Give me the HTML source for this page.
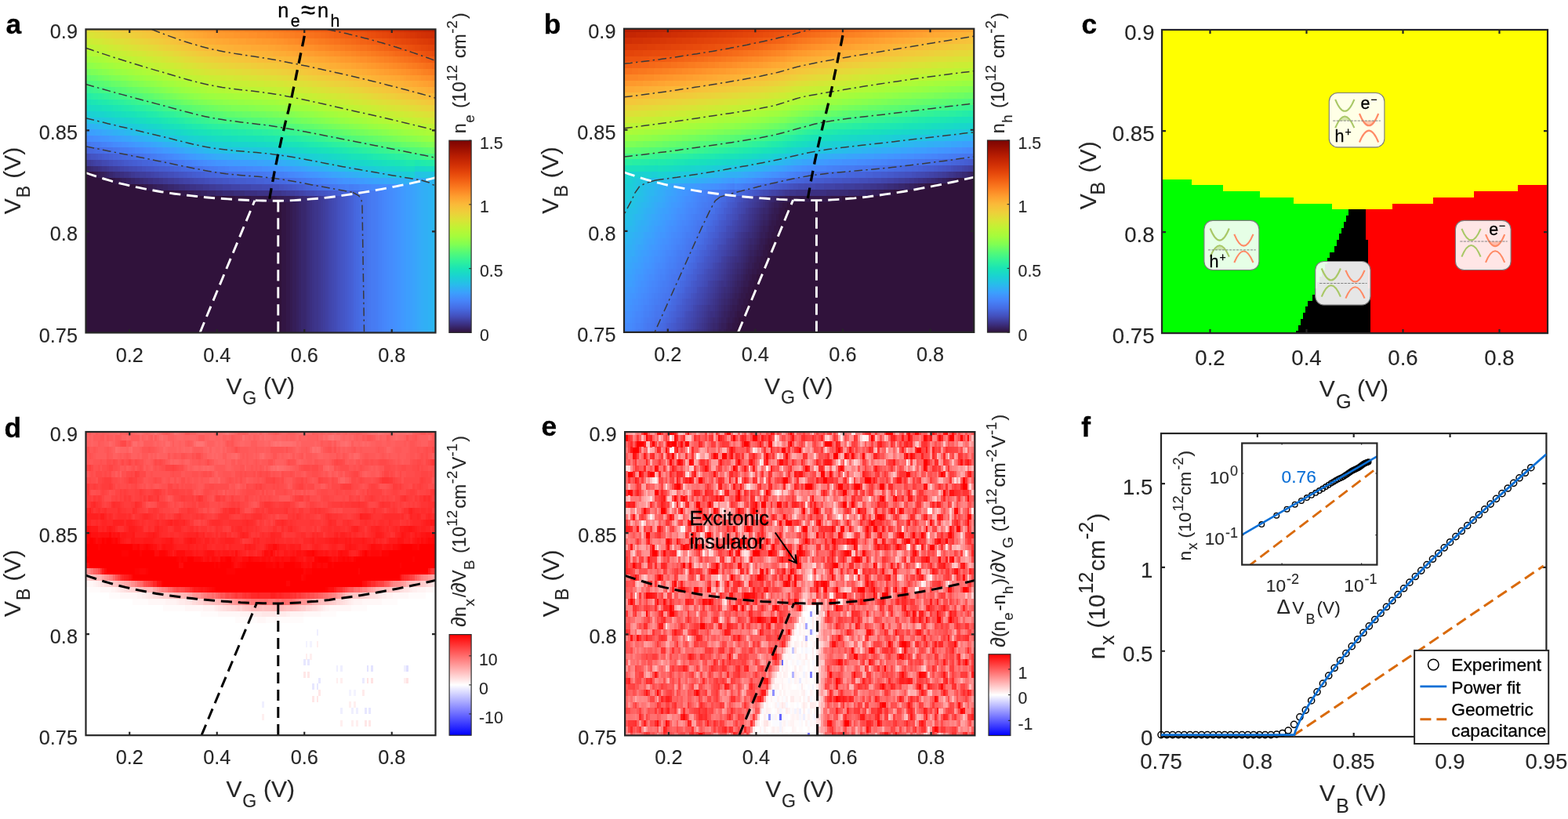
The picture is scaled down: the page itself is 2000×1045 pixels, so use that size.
<!DOCTYPE html>
<html lang="en"><head><meta charset="utf-8"><title>Figure</title>
<style>html,body{margin:0;padding:0;background:#fff;overflow:hidden}svg{display:block}text{stroke:#262626;stroke-width:.12px}text[fill="#000"]{stroke:#000;stroke-width:.3px}text[fill="#0a6fd6"]{stroke:#0a6fd6}</style></head><body>
<svg width="2000" height="1045" viewBox="0 0 2000 1045" font-family="'Liberation Sans', Arial, Helvetica, sans-serif" fill="#262626">
<rect width="2000" height="1045" fill="#fff"/>
<defs><clipPath id="ca"><rect x="109.5" y="37.4" width="446" height="387.1"/></clipPath><clipPath id="cb"><rect x="796" y="36.7" width="446.3" height="387.2"/></clipPath><clipPath id="cc"><rect x="1482" y="38" width="492" height="387.1"/></clipPath><clipPath id="cd"><rect x="109.5" y="551" width="446" height="387.2"/></clipPath><clipPath id="ce"><rect x="797.1" y="551.1" width="446.3" height="387.3"/></clipPath><clipPath id="cf"><rect x="1481" y="553" width="491.4" height="387"/></clipPath></defs>
<text x="7.4" y="43.2" font-size="35.4" font-weight="bold" fill="#000">a</text>
<text x="693.7" y="43.2" font-size="35.4" font-weight="bold" fill="#000">b</text>
<text x="1379.6" y="43.2" font-size="35.4" font-weight="bold" fill="#000">c</text>
<text x="5.6" y="557.9" font-size="35.4" font-weight="bold" fill="#000">d</text>
<text x="690.5" y="556.4" font-size="35.4" font-weight="bold" fill="#000">e</text>
<text x="1379.3" y="557.3" font-size="35.4" font-weight="bold" fill="#000">f</text>
<g clip-path="url(#ca)"><g shape-rendering="crispEdges" transform="translate(108.106 37.4) scale(2.7875 7.742)" stroke-width="1.03" fill="none">
<path stroke="#30123b" stroke-width="52" d="M0 25h161"/>
<path stroke="#321543" d="M4 24h1M13 25h1M25 26h2M41 27h3M69 28h7M90 29h2M90 30h2M90 31h2M90 32h2M90 33h2M90 34h2M90 35h2M90 36h2M90 37h2M90 38h2M90 39h2M90 40h2M90 41h2M90 42h2M90 43h2M90 44h2M90 45h2M90 46h2M90 47h2M90 48h2M90 49h2M90 50h2"/>
<path stroke="#33184a" d="M5 24h1M14 25h2M27 26h2M44 27h3M76 28h12M92 29h2M92 30h2M92 31h2M92 32h2M92 33h2M92 34h2M92 35h2M92 36h2M92 37h2M92 38h2M92 39h2M92 40h2M92 41h2M92 42h2M92 43h2M92 44h2M92 45h2M92 46h2M92 47h2M92 48h2M92 49h2M92 50h2"/>
<path stroke="#341b51" d="M6 24h1M16 25h1M29 26h2M47 27h3M88 28h3M94 29h1M94 30h1M94 31h1M94 32h1M94 33h1M94 34h1M94 35h1M94 36h1M94 37h1M94 38h1M94 39h1M94 40h1M94 41h1M94 42h1M94 43h1M94 44h1M94 45h1M94 46h1M94 47h1M94 48h1M94 49h1M94 50h1"/>
<path stroke="#351e58" d="M7 24h2M17 25h2M31 26h2M50 27h3M91 28h3M95 29h2M95 30h2M95 31h2M95 32h2M95 33h2M95 34h2M95 35h2M95 36h2M95 37h2M95 38h2M95 39h2M95 40h2M95 41h2M95 42h2M95 43h2M95 44h2M95 45h2M95 46h2M95 47h2M95 48h2M95 49h2M95 50h2"/>
<path stroke="#36215f" d="M0 23h1M9 24h1M19 25h2M33 26h3M53 27h3M94 28h2M97 29h1M97 30h1M97 31h1M97 32h1M97 33h1M97 34h1M97 35h1M97 36h1M97 37h1M97 38h1M97 39h1M97 40h1M97 41h1M97 42h1M97 43h1M97 44h1M97 45h1M97 46h1M97 47h1M97 48h1M97 49h1M97 50h1"/>
<path stroke="#372466" d="M1 23h1M10 24h1M21 25h2M36 26h2M56 27h4M96 28h2M98 29h1M98 30h1M98 31h1M98 32h1M98 33h1M98 34h1M98 35h1M98 36h1M98 37h1M98 38h1M98 39h1M98 40h1M98 41h1M98 42h1M98 43h1M98 44h1M98 45h1M98 46h1M98 47h1M98 48h1M98 49h1M98 50h1"/>
<path stroke="#38276d" d="M2 23h1M11 24h2M23 25h2M38 26h3M60 27h3M98 28h2M99 29h2M99 30h2M99 31h2M99 32h2M99 33h2M99 34h2M99 35h2M99 36h2M99 37h2M99 38h2M99 39h2M99 40h2M99 41h2M99 42h2M99 43h2M99 44h2M99 45h2M99 46h2M99 47h2M99 48h2M99 49h2M99 50h2"/>
<path stroke="#392a73" d="M3 23h1M13 24h1M25 25h2M41 26h2M63 27h5M100 28h2M101 29h1M101 30h1M101 31h1M101 32h1M101 33h1M101 34h1M101 35h1M101 36h1M101 37h1M101 38h1M101 39h1M101 40h1M101 41h1M101 42h1M101 43h1M101 44h1M101 45h1M101 46h1M101 47h1M101 48h1M101 49h1M101 50h1"/>
<path stroke="#3a2d79" d="M4 23h2M14 24h2M27 25h2M43 26h3M68 27h5M102 28h1M102 29h1M102 30h1M102 31h1M102 32h1M102 33h1M102 34h1M102 35h1M102 36h1M102 37h1M102 38h1M102 39h1M102 40h1M102 41h1M102 42h1M102 43h1M102 44h1M102 45h1M102 46h1M102 47h1M102 48h1M102 49h1M102 50h1"/>
<path stroke="#3b2f80" d="M6 23h1M16 24h2M29 25h2M46 26h2M73 27h6M103 28h1M103 29h1M103 30h1M103 31h1M103 32h1M103 33h1M103 34h1M103 35h1M103 36h1M103 37h1M103 38h1M103 39h1M103 40h1M103 41h1M103 42h1M103 43h1M103 44h1M103 45h1M103 46h1M103 47h1M103 48h1M103 49h1M103 50h1"/>
<path stroke="#3c3286" d="M7 23h1M18 24h2M31 25h3M48 26h3M79 27h7M104 28h1M104 29h1M104 30h1M104 31h1M104 32h1M104 33h1M104 34h1M104 35h1M104 36h1M104 37h1M104 38h1M104 39h1M104 40h1M104 41h1M104 42h1M104 43h1M104 44h1M104 45h1M104 46h1M104 47h1M104 48h1M104 49h1M104 50h1"/>
<path stroke="#3d358b" d="M8 23h2M20 24h1M34 25h2M51 26h3M86 27h4M105 28h2M105 29h2M105 30h2M105 31h2M105 32h2M105 33h2M105 34h2M105 35h2M105 36h2M105 37h2M105 38h2M105 39h2M105 40h2M105 41h2M105 42h2M105 43h2M105 44h2M105 45h2M105 46h2M105 47h2M105 48h2M105 49h2M105 50h2"/>
<path stroke="#3e3891" d="M0 22h1M10 23h1M21 24h2M36 25h2M54 26h3M90 27h2M107 28h1M107 29h1M107 30h1M107 31h1M107 32h1M107 33h1M107 34h1M107 35h1M107 36h1M107 37h1M107 38h1M107 39h1M107 40h1M107 41h1M107 42h1M107 43h1M107 44h1M107 45h1M107 46h1M107 47h1M107 48h1M107 49h1M107 50h1"/>
<path stroke="#3f3b97" d="M1 22h2M11 23h2M23 24h2M38 25h3M57 26h3M92 27h2M108 28h1M108 29h1M108 30h1M108 31h1M108 32h1M108 33h1M108 34h1M108 35h1M108 36h1M108 37h1M108 38h1M108 39h1M108 40h1M108 41h1M108 42h1M108 43h1M108 44h1M108 45h1M108 46h1M108 47h1M108 48h1M108 49h1M108 50h1"/>
<path stroke="#3f3e9c" d="M3 22h1M13 23h2M25 24h3M41 25h2M60 26h3M94 27h2M109 28h1M109 29h1M109 30h1M109 31h1M109 32h1M109 33h1M109 34h1M109 35h1M109 36h1M109 37h1M109 38h1M109 39h1M109 40h1M109 41h1M109 42h1M109 43h1M109 44h1M109 45h1M109 46h1M109 47h1M109 48h1M109 49h1M109 50h1"/>
<path stroke="#4040a2" d="M4 22h1M15 23h1M28 24h2M43 25h2M63 26h4M96 27h2M110 28h1M110 29h1M110 30h1M110 31h1M110 32h1M110 33h1M110 34h1M110 35h1M110 36h1M110 37h1M110 38h1M110 39h1M110 40h1M110 41h1M110 42h1M110 43h1M110 44h1M110 45h1M110 46h1M110 47h1M110 48h1M110 49h1M110 50h1"/>
<path stroke="#4143a7" d="M5 22h2M16 23h2M30 24h2M45 25h3M67 26h4M98 27h2M111 28h1M111 29h1M111 30h1M111 31h1M111 32h1M111 33h1M111 34h1M111 35h1M111 36h1M111 37h1M111 38h1M111 39h1M111 40h1M111 41h1M111 42h1M111 43h1M111 44h1M111 45h1M111 46h1M111 47h1M111 48h1M111 49h1M111 50h1"/>
<path stroke="#4146ac" d="M7 22h1M18 23h2M32 24h2M48 25h2M71 26h5M100 27h1M112 28h1M112 29h1M112 30h1M112 31h1M112 32h1M112 33h1M112 34h1M112 35h1M112 36h1M112 37h1M112 38h1M112 39h1M112 40h1M112 41h1M112 42h1M112 43h1M112 44h1M112 45h1M112 46h1M112 47h1M112 48h1M112 49h1M112 50h1"/>
<path stroke="#4249b1" d="M8 22h2M20 23h2M34 24h2M50 25h2M76 26h5M101 27h2M113 28h1M113 29h1M113 30h1M113 31h1M113 32h1M113 33h1M113 34h1M113 35h1M113 36h1M113 37h1M113 38h1M113 39h1M113 40h1M113 41h1M113 42h1M113 43h1M113 44h1M113 45h1M113 46h1M113 47h1M113 48h1M113 49h1M113 50h1"/>
<path stroke="#424bb5" d="M10 22h1M22 23h2M36 24h2M52 25h3M81 26h5M103 27h2M114 28h1M114 29h1M114 30h1M114 31h1M114 32h1M114 33h1M114 34h1M114 35h1M114 36h1M114 37h1M114 38h1M114 39h1M114 40h1M114 41h1M114 42h1M114 43h1M114 44h1M114 45h1M114 46h1M114 47h1M114 48h1M114 49h1M114 50h1"/>
<path stroke="#434eba" d="M0 21h2M11 22h2M24 23h2M38 24h3M55 25h2M86 26h3M105 27h1M115 28h1M115 29h1M115 30h1M115 31h1M115 32h1M115 33h1M115 34h1M115 35h1M115 36h1M115 37h1M115 38h1M115 39h1M115 40h1M115 41h1M115 42h1M115 43h1M115 44h1M115 45h1M115 46h1M115 47h1M115 48h1M115 49h1M115 50h1"/>
<path stroke="#4451bf" d="M2 21h1M13 22h2M26 23h2M41 24h2M57 25h3M89 26h2M106 27h2M116 28h1M116 29h1M116 30h1M116 31h1M116 32h1M116 33h1M116 34h1M116 35h1M116 36h1M116 37h1M116 38h1M116 39h1M116 40h1M116 41h1M116 42h1M116 43h1M116 44h1M116 45h1M116 46h1M116 47h1M116 48h1M116 49h1M116 50h1"/>
<path stroke="#4454c3" d="M3 21h2M15 22h2M28 23h2M43 24h2M60 25h3M91 26h2M108 27h2M117 28h1M117 29h1M117 30h1M117 31h1M117 32h1M117 33h1M117 34h1M117 35h1M117 36h1M117 37h1M117 38h1M117 39h1M117 40h1M117 41h1M117 42h1M117 43h1M117 44h1M117 45h1M117 46h1M117 47h1M117 48h1M117 49h1M117 50h1"/>
<path stroke="#4456c7" d="M5 21h1M17 22h1M30 23h2M45 24h2M63 25h3M93 26h2M110 27h1M118 28h1M118 29h1M118 30h1M118 31h1M118 32h1M118 33h1M118 34h1M118 35h1M118 36h1M118 37h1M118 38h1M118 39h1M118 40h1M118 41h1M118 42h1M118 43h1M118 44h1M118 45h1M118 46h1M118 47h1M118 48h1M118 49h1M118 50h1"/>
<path stroke="#4559cb" d="M6 21h2M18 22h2M32 23h2M47 24h2M66 25h3M95 26h2M111 27h2M119 28h1M119 29h1M119 30h1M119 31h1M119 32h1M119 33h1M119 34h1M119 35h1M119 36h1M119 37h1M119 38h1M119 39h1M119 40h1M119 41h1M119 42h1M119 43h1M119 44h1M119 45h1M119 46h1M119 47h1M119 48h1M119 49h1M119 50h1"/>
<path stroke="#455ccf" d="M8 21h1M20 22h2M34 23h3M49 24h2M69 25h5M97 26h1M113 27h2M120 28h1M120 29h1M120 30h1M120 31h1M120 32h1M120 33h1M120 34h1M120 35h1M120 36h1M120 37h1M120 38h1M120 39h1M120 40h1M120 41h1M120 42h1M120 43h1M120 44h1M120 45h1M120 46h1M120 47h1M120 48h1M120 49h1M120 50h1"/>
<path stroke="#455ed3" d="M9 21h2M22 22h2M37 23h2M51 24h2M74 25h4M98 26h2M115 27h1M121 28h1M121 29h1M121 30h1M121 31h1M121 32h1M121 33h1M121 34h1M121 35h1M121 36h1M121 37h1M121 38h1M121 39h1M121 40h1M121 41h1M121 42h1M121 43h1M121 44h1M121 45h1M121 46h1M121 47h1M121 48h1M121 49h1M121 50h1"/>
<path stroke="#4661d6" d="M0 20h1M11 21h2M24 22h2M39 23h2M53 24h2M78 25h4M100 26h1M116 27h2M122 28h1M122 29h1M122 30h1M122 31h1M122 32h1M122 33h1M122 34h1M122 35h1M122 36h1M122 37h1M122 38h1M122 39h1M122 40h1M122 41h1M122 42h1M122 43h1M122 44h1M122 45h1M122 46h1M122 47h1M122 48h1M122 49h1M122 50h1"/>
<path stroke="#4664da" d="M1 20h1M13 21h2M26 22h3M41 23h2M55 24h2M82 25h4M101 26h2M118 27h2M121 27h1"/>
<path stroke="#4666dd" d="M2 20h2M15 21h2M29 22h2M43 23h1M57 24h3M86 25h2M103 26h1M120 27h1M122 27h2M123 28h1M123 29h1M123 30h1M123 31h1M123 32h1M123 33h1M123 34h1M123 35h1M123 36h1M123 37h1M123 38h1M123 39h1M123 40h1M123 41h1M123 42h1M123 43h1M123 44h1M123 45h1M123 46h1M123 47h1M123 48h1M123 49h1M123 50h1"/>
<path stroke="#4669e0" d="M4 20h1M17 21h2M31 22h2M44 23h2M60 24h2M88 25h2M104 26h2M124 27h1M124 28h1M124 29h1M124 30h1M124 31h1M124 32h1M124 33h1M124 34h1M124 35h1M124 36h1M124 37h1M124 38h1M124 39h1M124 40h1M124 41h1M124 42h1M124 43h1M124 44h1M124 45h1M124 46h1M124 47h1M124 48h1M124 49h1M124 50h1"/>
<path stroke="#466be3" d="M5 20h2M19 21h2M33 22h2M46 23h2M62 24h3M90 25h2M106 26h1M125 27h1M125 28h1M125 29h1M125 30h1M125 31h1M125 32h1M125 33h1M125 34h1M125 35h1M125 36h1M125 37h1M125 38h1M125 39h1M125 40h1M125 41h1M125 42h1M125 43h1M125 44h1M125 45h1M125 46h1M125 47h1M125 48h1M125 49h1M125 50h1"/>
<path stroke="#476ee6" d="M7 20h2M21 21h2M35 22h2M48 23h2M65 24h3M92 25h2M107 26h2M126 27h1M126 28h1M126 29h1M126 30h1M126 31h1M126 32h1M126 33h1M126 34h1M126 35h1M126 36h1M126 37h1M126 38h1M126 39h1M126 40h1M126 41h1M126 42h1M126 43h1M126 44h1M126 45h1M126 46h1M126 47h1M126 48h1M126 49h1M126 50h1"/>
<path stroke="#4771e9" d="M9 20h2M23 21h2M37 22h2M50 23h2M68 24h4M94 25h1M109 26h1M127 27h1M127 28h1M127 29h1M127 30h1M127 31h1M127 32h1M127 33h1M127 34h1M127 35h1M127 36h1M127 37h1M127 38h1M127 39h1M127 40h1M127 41h1M127 42h1M127 43h1M127 44h1M127 45h1M127 46h1M127 47h1M127 48h1M127 49h1M127 50h1"/>
<path stroke="#4773eb" d="M11 20h2M25 21h2M39 22h1M52 23h2M72 24h4M95 25h2M110 26h2M128 27h1M128 28h1M128 29h1M128 30h1M128 31h1M128 32h1M128 33h1M128 34h1M128 35h1M128 36h1M128 37h1M128 38h1M128 39h1M128 40h1M128 41h1M128 42h1M128 43h1M128 44h1M128 45h1M128 46h1M128 47h1M128 48h1M128 49h1M128 50h1"/>
<path stroke="#4776ee" d="M0 19h1M13 20h2M27 21h1M40 22h2M54 23h1M76 24h4M97 25h2M112 26h2M129 27h1M129 28h1M129 29h1M129 30h1M129 31h1M129 32h1M129 33h1M129 34h1M129 35h1M129 36h1M129 37h1M129 38h1M129 39h1M129 40h1M129 41h1M129 42h1M129 43h1M129 44h1M129 45h1M129 46h1M129 47h1M129 48h1M129 49h1M129 50h1"/>
<path stroke="#4778f0" d="M1 19h2M15 20h1M28 21h2M42 22h1M55 23h2M80 24h3M99 25h2M114 26h2M130 27h1M130 28h1M130 29h1M130 30h1M130 31h1M130 32h1M130 33h1M130 34h1M130 35h1M130 36h1M130 37h1M130 38h1M130 39h1M130 40h1M130 41h1M130 42h1M130 43h1M130 44h1M130 45h1M130 46h1M130 47h1M130 48h1M130 49h1M130 50h1"/>
<path stroke="#477bf2" d="M3 19h2M16 20h2M30 21h2M43 22h2M57 23h2M83 24h3M101 25h1M116 26h1M131 27h2M131 28h2M131 29h2M131 30h2M131 31h2M131 32h2M131 33h2M131 34h2M131 35h2M131 36h2M131 37h2M131 38h2M131 39h2M131 40h2M131 41h2M131 42h2M131 43h2M131 44h2M131 45h2M131 46h2M131 47h2M131 48h2M131 49h2M131 50h2"/>
<path stroke="#467df4" d="M5 19h2M18 20h2M32 21h1M45 22h1M59 23h2M86 24h2M102 25h2M117 26h2M121 26h2M133 27h1M133 28h1M133 29h1M133 30h1M133 31h1M133 32h1M133 33h1M133 34h1M133 35h1M133 36h1M133 37h1M133 38h1M133 39h1M133 40h1M133 41h1M133 42h1M133 43h1M133 44h1M133 45h1M133 46h1M133 47h1M133 48h1M133 49h1M133 50h1"/>
<path stroke="#4680f6" d="M7 19h1M20 20h2M33 21h2M46 22h2M61 23h3M88 24h3M104 25h2M119 26h2M123 26h2M134 27h1M134 28h1M134 29h1M134 30h1M134 31h1M134 32h1M134 33h1M134 34h1M134 35h1M134 36h1M134 37h1M134 38h1M134 39h1M134 40h1M134 41h1M134 42h1M134 43h1M134 44h1M134 45h1M134 46h1M134 47h1M134 48h1M134 49h1M134 50h1"/>
<path stroke="#4682f8" d="M8 19h2M22 20h1M35 21h2M48 22h1M64 23h2M91 24h2M106 25h2M125 26h1M135 27h1M135 28h1M135 29h1M135 30h1M135 31h1M135 32h1M135 33h1M135 34h1M135 35h1M135 36h1M135 37h1M135 38h1M135 39h1M135 40h1M135 41h1M135 42h1M135 43h1M135 44h1M135 45h1M135 46h1M135 47h1M135 48h1M135 49h1M135 50h1"/>
<path stroke="#4685fa" d="M10 19h2M23 20h2M37 21h1M49 22h2M66 23h4M93 24h1M108 25h1M126 26h3M136 27h1M136 28h1M136 29h1M136 30h1M136 31h1M136 32h1M136 33h1M136 34h1M136 35h1M136 36h1M136 37h1M136 38h1M136 39h1M136 40h1M136 41h1M136 42h1M136 43h1M136 44h1M136 45h1M136 46h1M136 47h1M136 48h1M136 49h1M136 50h1"/>
<path stroke="#4687fb" d="M0 18h1M12 19h1M25 20h2M38 21h2M51 22h1M70 23h4M94 24h2M109 25h2M129 26h2M137 27h1M137 28h1M137 29h1M137 30h1M137 31h1M137 32h1M137 33h1M137 34h1M137 35h1M137 36h1M137 37h1M137 38h1M137 39h1M137 40h1M137 41h1M137 42h1M137 43h1M137 44h1M137 45h1M137 46h1M137 47h1M137 48h1M137 49h1M137 50h1"/>
<path stroke="#458afc" d="M1 18h1M13 19h2M27 20h1M40 21h1M52 22h2M74 23h3M96 24h2M111 25h2M131 26h4M138 27h1M138 28h1M138 29h1M138 30h1M138 31h1M138 32h1M138 33h1M138 34h1M138 35h1M138 36h1M138 37h1M138 38h1M138 39h1M138 40h1M138 41h1M138 42h1M138 43h1M138 44h1M138 45h1M138 46h1M138 47h1M138 48h1M138 49h1M138 50h1"/>
<path stroke="#458cfd" d="M2 18h2M15 19h2M28 20h2M41 21h2M54 22h2M77 23h4M98 24h2M113 25h2M135 26h5M139 27h2M139 28h2M139 29h2M139 30h2M139 31h2M139 32h2M139 33h2M139 34h2M139 35h2M139 36h2M139 37h2M139 38h2M139 39h2M139 40h2M139 41h2M139 42h2M139 43h2M139 44h2M139 45h2M139 46h2M139 47h2M139 48h2M139 49h2M139 50h2"/>
<path stroke="#448ffe" d="M4 18h2M17 19h2M30 20h2M43 21h1M56 22h2M81 23h3M100 24h1M115 25h1M140 26h2M141 27h1M141 28h1M141 29h1M141 30h1M141 31h1M141 32h1M141 33h1M141 34h1M141 35h1M141 36h1M141 37h1M141 38h1M141 39h1M141 40h1M141 41h1M141 42h1M141 43h1M141 44h1M141 45h1M141 46h1M141 47h1M141 48h1M141 49h1M141 50h1"/>
<path stroke="#4391fe" d="M6 18h1M19 19h1M32 20h1M44 21h2M58 22h2M84 23h3M101 24h2M116 25h2M142 26h1M142 27h1M142 28h1M142 29h1M142 30h1M142 31h1M142 32h1M142 33h1M142 34h1M142 35h1M142 36h1M142 37h1M142 38h1M142 39h1M142 40h1M142 41h1M142 42h1M142 43h1M142 44h1M142 45h1M142 46h1M142 47h1M142 48h1M142 49h1M142 50h1"/>
<path stroke="#4294ff" d="M7 18h2M20 19h2M33 20h2M46 21h1M60 22h2M87 23h2M103 24h2M118 25h2M121 25h1M143 26h1M143 27h1M143 28h1M143 29h1M143 30h1M143 31h1M143 32h1M143 33h1M143 34h1M143 35h1M143 36h1M143 37h1M143 38h1M143 39h1M143 40h1M143 41h1M143 42h1M143 43h1M143 44h1M143 45h1M143 46h1M143 47h1M143 48h1M143 49h1M143 50h1"/>
<path stroke="#4196ff" d="M9 18h2M22 19h1M35 20h1M47 21h1M62 22h3M89 23h2M105 24h2M120 25h1M122 25h2M144 26h1M144 27h1M144 28h1M144 29h1M144 30h1M144 31h1M144 32h1M144 33h1M144 34h1M144 35h1M144 36h1M144 37h1M144 38h1M144 39h1M144 40h1M144 41h1M144 42h1M144 43h1M144 44h1M144 45h1M144 46h1M144 47h1M144 48h1M144 49h1M144 50h1"/>
<path stroke="#4099ff" d="M11 18h1M23 19h2M36 20h2M48 21h2M65 22h3M91 23h2M107 24h1M124 25h2M145 26h1M145 27h1M145 28h1M145 29h1M145 30h1M145 31h1M145 32h1M145 33h1M145 34h1M145 35h1M145 36h1M145 37h1M145 38h1M145 39h1M145 40h1M145 41h1M145 42h1M145 43h1M145 44h1M145 45h1M145 46h1M145 47h1M145 48h1M145 49h1M145 50h1"/>
<path stroke="#3e9bfe" d="M0 17h2M12 18h2M25 19h2M38 20h1M50 21h1M68 22h3M93 23h2M108 24h2M126 25h2M146 26h1M146 27h1M146 28h1M146 29h1M146 30h1M146 31h1M146 32h1M146 33h1M146 34h1M146 35h1M146 36h1M146 37h1M146 38h1M146 39h1M146 40h1M146 41h1M146 42h1M146 43h1M146 44h1M146 45h1M146 46h1M146 47h1M146 48h1M146 49h1M146 50h1"/>
<path stroke="#3d9efe" d="M2 17h1M14 18h2M27 19h1M39 20h2M51 21h2M71 22h4M95 23h2M110 24h2M128 25h2M147 26h2M147 27h2M147 28h2M147 29h2M147 30h2M147 31h2M147 32h2M147 33h2M147 34h2M147 35h2M147 36h2M147 37h2M147 38h2M147 39h2M147 40h2M147 41h2M147 42h2M147 43h2M147 44h2M147 45h2M147 46h2M147 47h2M147 48h2M147 49h2M147 50h2"/>
<path stroke="#3ba0fd" d="M3 17h2M16 18h1M28 19h2M41 20h1M53 21h2M75 22h4M97 23h2M112 24h1M130 25h2M149 26h1M149 27h1M149 28h1M149 29h1M149 30h1M149 31h1M149 32h1M149 33h1M149 34h1M149 35h1M149 36h1M149 37h1M149 38h1M149 39h1M149 40h1M149 41h1M149 42h1M149 43h1M149 44h1M149 45h1M149 46h1M149 47h1M149 48h1M149 49h1M149 50h1"/>
<path stroke="#3aa3fc" d="M5 17h2M17 18h2M30 19h1M42 20h1M55 21h1M79 22h3M99 23h2M113 24h2M132 25h3M150 26h1M150 27h1M150 28h1M150 29h1M150 30h1M150 31h1M150 32h1M150 33h1M150 34h1M150 35h1M150 36h1M150 37h1M150 38h1M150 39h1M150 40h1M150 41h1M150 42h1M150 43h1M150 44h1M150 45h1M150 46h1M150 47h1M150 48h1M150 49h1M150 50h1"/>
<path stroke="#38a5fb" d="M7 17h1M19 18h2M31 19h2M43 20h2M56 21h2M82 22h3M101 23h1M115 24h2M135 25h2M151 26h1M151 27h1M151 28h1M151 29h1M151 30h1M151 31h1M151 32h1M151 33h1M151 34h1M151 35h1M151 36h1M151 37h1M151 38h1M151 39h1M151 40h1M151 41h1M151 42h1M151 43h1M151 44h1M151 45h1M151 46h1M151 47h1M151 48h1M151 49h1M151 50h1"/>
<path stroke="#37a8fa" d="M8 17h2M21 18h1M33 19h2M45 20h1M58 21h2M85 22h3M102 23h2M117 24h2M137 25h3M152 26h1M152 27h1M152 28h1M152 29h1M152 30h1M152 31h1M152 32h1M152 33h1M152 34h1M152 35h1M152 36h1M152 37h1M152 38h1M152 39h1M152 40h1M152 41h1M152 42h1M152 43h1M152 44h1M152 45h1M152 46h1M152 47h1M152 48h1M152 49h1M152 50h1"/>
<path stroke="#35abf8" d="M10 17h2M22 18h2M35 19h1M46 20h2M60 21h3M88 22h2M104 23h2M119 24h1M121 24h1M140 25h2M151 25h3M153 26h1M153 27h1M153 28h1M153 29h1M153 30h1M153 31h1M153 32h1M153 33h1M153 34h1M153 35h1M153 36h1M153 37h1M153 38h1M153 39h1M153 40h1M153 41h1M153 42h1M153 43h1M153 44h1M153 45h1M153 46h1M153 47h1M153 48h1M153 49h1M153 50h1"/>
<path stroke="#33adf7" d="M0 16h1M12 17h1M24 18h1M36 19h1M48 20h1M63 21h3M90 22h2M106 23h1M120 24h1M122 24h1M142 25h3M154 25h1M154 26h1M154 27h1M154 28h1M154 29h1M154 30h1M154 31h1M154 32h1M154 33h1M154 34h1M154 35h1M154 36h1M154 37h1M154 38h1M154 39h1M154 40h1M154 41h1M154 42h1M154 43h1M154 44h1M154 45h1M154 46h1M154 47h1M154 48h1M154 49h1M154 50h1"/>
<path stroke="#31aff5" d="M1 16h2M13 17h2M25 18h2M37 19h2M49 20h2M66 21h3M92 22h2M107 23h2M123 24h2M145 25h3M155 25h2M155 26h2M155 27h2M155 28h2M155 29h2M155 30h2M155 31h2M155 32h2M155 33h2M155 34h2M155 35h2M155 36h2M155 37h2M155 38h2M155 39h2M155 40h2M155 41h2M155 42h2M155 43h2M155 44h2M155 45h2M155 46h2M155 47h2M155 48h2M155 49h2M155 50h2"/>
<path stroke="#2fb2f4" d="M3 16h1M15 17h1M27 18h1M39 19h1M51 20h1M69 21h4M94 22h2M109 23h2M125 24h2M148 25h3M157 25h1M157 26h1M157 27h1M157 28h1M157 29h1M157 30h1M157 31h1M157 32h1M157 33h1M157 34h1M157 35h1M157 36h1M157 37h1M157 38h1M157 39h1M157 40h1M157 41h1M157 42h1M157 43h1M157 44h1M157 45h1M157 46h1M157 47h1M157 48h1M157 49h1M157 50h1"/>
<path stroke="#2eb4f2" d="M4 16h2M16 17h2M28 18h2M40 19h2M52 20h2M73 21h4M96 22h2M111 23h1M127 24h2M158 25h1M158 26h1M158 27h1M158 28h1M158 29h1M158 30h1M158 31h1M158 32h1M158 33h1M158 34h1M158 35h1M158 36h1M158 37h1M158 38h1M158 39h1M158 40h1M158 41h1M158 42h1M158 43h1M158 44h1M158 45h1M158 46h1M158 47h1M158 48h1M158 49h1M158 50h1"/>
<path stroke="#2cb7f0" d="M6 16h2M18 17h1M30 18h1M42 19h1M54 20h1M77 21h3M98 22h2M112 23h2M129 24h2M159 25h1M159 26h1M159 27h1M159 28h1M159 29h1M159 30h1M159 31h1M159 32h1M159 33h1M159 34h1M159 35h1M159 36h1M159 37h1M159 38h1M159 39h1M159 40h1M159 41h1M159 42h1M159 43h1M159 44h1M159 45h1M159 46h1M159 47h1M159 48h1M159 49h1M159 50h1"/>
<path stroke="#2ab9ee" d="M8 16h1M19 17h2M31 18h2M43 19h1M55 20h2M80 21h4M100 22h1M114 23h2M131 24h2M160 25h1M160 26h1M160 27h1M160 28h1M160 29h1M160 30h1M160 31h1M160 32h1M160 33h1M160 34h1M160 35h1M160 36h1M160 37h1M160 38h1M160 39h1M160 40h1M160 41h1M160 42h1M160 43h1M160 44h1M160 45h1M160 46h1M160 47h1M160 48h1M160 49h1M160 50h1"/>
<path stroke="#28bceb" d="M9 16h2M21 17h1M33 18h1M44 19h2M57 20h2M84 21h2M101 22h2M116 23h1M133 24h1"/>
<path stroke="#27bee9" d="M0 15h1M11 16h1M22 17h2M34 18h2M46 19h1M59 20h2M86 21h3M103 22h2M117 23h2M134 24h2"/>
<path stroke="#25c0e7" d="M1 15h1M12 16h2M24 17h1M36 18h1M47 19h1M61 20h3M89 21h2M105 22h2M119 23h2M136 24h2"/>
<path stroke="#23c3e4" d="M2 15h2M14 16h1M25 17h2M37 18h2M48 19h2M64 20h3M91 21h2M107 22h1M121 23h2M138 24h2M151 24h3"/>
<path stroke="#22c5e2" d="M4 15h1M15 16h2M27 17h2M39 18h1M50 19h1M67 20h4M93 21h2M108 22h2M123 23h2M140 24h1M154 24h7"/>
<path stroke="#20c7df" d="M5 15h2M17 16h2M29 17h1M40 18h2M51 19h2M71 20h4M95 21h2M110 22h2M125 23h2M141 24h2"/>
<path stroke="#1fc9dd" d="M7 15h2M19 16h1M30 17h2M42 18h1M53 19h2M75 20h5M97 21h2M112 22h2M127 23h2M143 24h2"/>
<path stroke="#1ecbda" d="M9 15h2M20 16h2M32 17h2M43 18h2M55 19h2M80 20h4M99 21h2M114 22h2M129 23h2M145 24h2"/>
<path stroke="#1ccdd8" d="M0 14h2M11 15h2M22 16h2M34 17h2M45 18h2M57 19h3M84 20h3M101 21h2M116 22h2M131 23h2M147 24h2"/>
<path stroke="#1bd0d5" d="M2 14h1M13 15h1M24 16h2M36 17h1M47 18h1M60 19h3M87 20h2M103 21h2M118 22h1M133 23h2M149 24h2"/>
<path stroke="#1ad2d2" d="M3 14h2M14 15h2M26 16h2M37 17h2M48 18h2M63 19h4M89 20h3M105 21h2M119 22h2M135 23h2"/>
<path stroke="#1ad4d0" d="M5 14h2M16 15h2M28 16h1M39 17h2M50 18h2M67 19h4M92 20h2M107 21h2M121 22h3M137 23h3"/>
<path stroke="#19d5cd" d="M7 14h2M18 15h2M29 16h2M41 17h1M52 18h2M71 19h4M94 20h2M109 21h2M124 22h2M140 23h2"/>
<path stroke="#18d7ca" d="M9 14h1M20 15h2M31 16h2M42 17h2M54 18h2M75 19h4M96 20h2M111 21h2M126 22h2M142 23h2M151 23h2"/>
<path stroke="#18d9c8" d="M0 13h1M10 14h2M22 15h1M33 16h2M44 17h1M56 18h2M79 19h4M98 20h2M113 21h2M128 22h2M144 23h1M153 23h3"/>
<path stroke="#18dbc5" d="M1 13h2M12 14h2M23 15h2M35 16h1M45 17h2M58 18h2M83 19h3M100 20h2M115 21h2M130 22h2M145 23h2M156 23h2"/>
<path stroke="#18ddc2" d="M3 13h2M14 14h2M25 15h2M36 16h2M47 17h2M60 18h3M86 19h2M102 20h2M117 21h2M132 22h2M147 23h2M158 23h3"/>
<path stroke="#18dec0" d="M5 13h2M16 14h1M27 15h1M38 16h1M49 17h1M63 18h4M88 19h3M104 20h2M119 21h1M134 22h2M149 23h2"/>
<path stroke="#18e0bd" d="M7 13h1M17 14h2M28 15h2M39 16h2M50 17h2M67 18h3M91 19h2M106 20h2M120 21h2M136 22h2"/>
<path stroke="#19e2bb" d="M8 13h2M19 14h2M30 15h2M41 16h2M52 17h2M70 18h4M93 19h2M108 20h2M122 21h2M138 22h2"/>
<path stroke="#19e3b9" d="M0 12h1M10 13h2M21 14h2M32 15h2M43 16h1M54 17h2M74 18h4M95 19h3M110 20h2M124 21h3M140 22h2"/>
<path stroke="#1ae4b6" d="M1 12h2M12 13h1M23 14h1M34 15h1M44 16h2M56 17h2M78 18h4M98 19h2M112 20h2M127 21h2M142 22h2"/>
<path stroke="#1ce6b4" d="M3 12h2M13 13h2M24 14h2M35 15h2M46 16h1M58 17h3M82 18h3M100 19h2M114 20h2M129 21h2M144 22h2"/>
<path stroke="#1de7b2" d="M5 12h1M15 13h2M26 14h2M37 15h1M47 16h2M61 17h2M85 18h2M102 19h1M116 20h2M131 21h1M146 22h1M151 22h2"/>
<path stroke="#1fe9af" d="M6 12h2M17 13h1M28 14h1M38 15h2M49 16h2M63 17h4M87 18h3M103 19h2M118 20h2M132 21h2M147 22h2M153 22h1"/>
<path stroke="#20eaac" d="M8 12h2M18 13h2M29 14h2M40 15h2M51 16h2M67 17h3M90 18h2M105 19h2M120 20h1M134 21h2M149 22h2M154 22h2"/>
<path stroke="#22ebaa" d="M0 11h1M10 12h1M20 13h2M31 14h2M42 15h1M53 16h1M70 17h4M92 18h2M107 19h2M121 20h2M136 21h2M156 22h2"/>
<path stroke="#25eca7" d="M1 11h2M11 12h2M22 13h1M33 14h1M43 15h2M54 16h2M74 17h3M94 18h3M109 19h2M123 20h2M138 21h2M158 22h2"/>
<path stroke="#27eea4" d="M3 11h1M13 12h2M23 13h2M34 14h2M45 15h1M56 16h2M77 17h4M97 18h2M111 19h2M125 20h2M140 21h2M160 22h1"/>
<path stroke="#2aefa1" d="M4 11h2M15 12h1M25 13h2M36 14h1M46 15h2M58 16h3M81 17h3M99 18h2M113 19h2M127 20h2M142 21h2"/>
<path stroke="#2cf09e" d="M6 11h2M16 12h2M27 13h1M37 14h2M48 15h1M61 16h3M84 17h2M101 18h2M115 19h2M129 20h2M144 21h2"/>
<path stroke="#2ff19b" d="M8 11h1M18 12h1M28 13h2M39 14h2M49 15h2M64 16h3M86 17h3M103 18h2M117 19h2M131 20h2M146 21h1"/>
<path stroke="#32f298" d="M0 10h1M9 11h2M19 12h2M30 13h2M41 14h1M51 15h2M67 16h3M89 17h2M105 18h1M119 19h1M133 20h2M147 21h2"/>
<path stroke="#35f394" d="M1 10h2M11 11h1M21 12h2M32 13h1M42 14h2M53 15h2M70 16h3M91 17h2M106 18h2M120 19h2M135 20h2M149 21h3"/>
<path stroke="#38f491" d="M3 10h1M12 11h2M23 12h1M33 13h2M44 14h1M55 15h2M73 16h4M93 17h3M108 18h2M122 19h2M137 20h2M152 21h2"/>
<path stroke="#3cf58e" d="M4 10h2M14 11h2M24 12h2M35 13h1M45 14h2M57 15h2M77 16h3M96 17h2M110 18h2M124 19h2M139 20h1M154 21h1"/>
<path stroke="#3ff68a" d="M6 10h1M16 11h1M26 12h2M36 13h2M47 14h1M59 15h2M80 16h3M98 17h2M112 18h2M126 19h2M140 20h2M155 21h1"/>
<path stroke="#43f787" d="M7 10h2M17 11h2M28 12h1M38 13h2M48 14h2M61 15h3M83 16h3M100 17h2M114 18h2M128 19h2M142 20h2M156 21h2"/>
<path stroke="#46f884" d="M0 9h1M9 10h2M19 11h1M29 12h2M40 13h1M50 14h2M64 15h3M86 16h2M102 17h2M116 18h2M130 19h2M144 20h2M158 21h1"/>
<path stroke="#4af880" d="M1 9h1M11 10h1M20 11h2M31 12h2M41 13h2M52 14h1M67 15h3M88 16h3M104 17h2M118 18h2M132 19h2M146 20h2M159 21h2"/>
<path stroke="#4ef97d" d="M2 9h2M12 10h2M22 11h2M33 12h1M43 13h1M53 14h2M70 15h4M91 16h2M106 17h2M120 18h2M134 19h2M148 20h1"/>
<path stroke="#52fa7a" d="M4 9h2M14 10h1M24 11h2M34 12h2M44 13h2M55 14h3M74 15h3M93 16h3M108 17h2M122 18h2M136 19h2M149 20h2"/>
<path stroke="#55fa76" d="M6 9h1M15 10h2M26 11h1M36 12h1M46 13h2M58 14h2M77 15h4M96 16h2M110 17h2M124 18h2M138 19h2M151 20h2"/>
<path stroke="#59fb73" d="M7 9h2M17 10h2M27 11h2M37 12h2M48 13h1M60 14h3M81 15h3M98 16h2M112 17h2M126 18h2M140 19h2M153 20h2"/>
<path stroke="#5dfc6f" d="M0 8h1M9 9h2M19 10h1M29 11h2M39 12h2M49 13h2M63 14h2M84 15h3M100 16h3M114 17h2M128 18h2M142 19h2M155 20h2"/>
<path stroke="#61fc6c" d="M1 8h2M11 9h1M20 10h2M31 11h1M41 12h1M51 13h2M65 14h4M87 15h3M103 16h2M116 17h2M130 18h2M144 19h1M157 20h1"/>
<path stroke="#65fd69" d="M3 8h2M12 9h2M22 10h2M32 11h2M42 12h2M53 13h2M69 14h3M90 15h2M105 16h2M118 17h2M132 18h2M145 19h2M158 20h2"/>
<path stroke="#69fd66" d="M5 8h1M14 9h2M24 10h1M34 11h2M44 12h1M55 13h2M72 14h4M92 15h3M107 16h2M120 17h2M134 18h2M147 19h2M160 20h1"/>
<path stroke="#6dfe62" d="M6 8h2M16 9h1M25 10h2M36 11h1M45 12h2M57 13h2M76 14h4M95 15h2M109 16h2M122 17h2M136 18h2M149 19h2"/>
<path stroke="#71fe5f" d="M8 8h1M17 9h2M27 10h2M37 11h2M47 12h2M59 13h2M80 14h3M97 15h2M111 16h2M124 17h2M138 18h2M151 19h2"/>
<path stroke="#75fe5c" d="M0 7h2M9 8h2M19 9h1M29 10h1M39 11h1M49 12h1M61 13h3M83 14h3M99 15h3M113 16h2M126 17h2M140 18h1M153 19h1"/>
<path stroke="#79fe59" d="M2 7h1M11 8h1M20 9h2M30 10h2M40 11h2M50 12h2M64 13h3M86 14h3M102 15h2M115 16h2M128 17h2M141 18h2M154 19h2"/>
<path stroke="#7dff56" d="M3 7h2M12 8h2M22 9h2M32 10h2M42 11h1M52 12h2M67 13h4M89 14h2M104 15h2M117 16h2M130 17h2M143 18h2M156 19h2"/>
<path stroke="#80ff53" d="M5 7h1M14 8h2M24 9h1M34 10h1M43 11h2M54 12h2M71 13h4M91 14h3M106 15h2M119 16h2M132 17h2M145 18h2M158 19h1"/>
<path stroke="#84ff51" d="M6 7h2M16 8h1M25 9h2M35 10h2M45 11h2M56 12h2M75 13h3M94 14h2M108 15h2M121 16h2M134 17h2M147 18h2M159 19h2"/>
<path stroke="#88ff4e" d="M0 6h1M8 7h2M17 8h2M27 9h1M37 10h1M47 11h1M58 12h2M78 13h4M96 14h2M110 15h2M123 16h2M136 17h2M149 18h1"/>
<path stroke="#8bff4b" d="M1 6h1M10 7h1M19 8h1M28 9h2M38 10h2M48 11h2M60 12h3M82 13h3M98 14h2M112 15h2M125 16h2M138 17h1M150 18h2"/>
<path stroke="#8fff49" d="M2 6h2M11 7h2M20 8h2M30 9h2M40 10h1M50 11h2M63 12h3M85 13h3M100 14h3M114 15h2M127 16h2M139 17h2M152 18h2"/>
<path stroke="#92ff47" d="M4 6h1M13 7h1M22 8h1M32 9h1M41 10h2M52 11h1M66 12h4M88 13h2M103 14h2M116 15h1M129 16h1M141 17h2M154 18h1"/>
<path stroke="#96fe44" d="M5 6h2M14 7h2M23 8h2M33 9h2M43 10h1M53 11h2M70 12h3M90 13h3M105 14h2M117 15h2M130 16h2M143 17h2M155 18h2"/>
<path stroke="#99fe42" d="M7 6h1M16 7h1M25 8h2M35 9h1M44 10h2M55 11h2M73 12h4M93 13h2M107 14h2M119 15h2M132 16h2M145 17h1M157 18h1"/>
<path stroke="#9cfe40" d="M0 5h1M8 6h2M17 7h2M27 8h1M36 9h2M46 10h2M57 11h3M77 12h4M95 13h2M109 14h1M121 15h2M134 16h2M146 17h2M158 18h2"/>
<path stroke="#9ffd3f" d="M1 5h2M10 6h1M19 7h1M28 8h2M38 9h1M48 10h1M60 11h2M81 12h3M97 13h2M110 14h2M123 15h2M136 16h2M148 17h2M160 18h1"/>
<path stroke="#a1fd3d" d="M3 5h1M11 6h2M20 7h2M30 8h1M39 9h2M49 10h2M62 11h3M84 12h3M99 13h3M112 14h2M125 15h2M138 16h1M150 17h1"/>
<path stroke="#a4fc3c" d="M4 5h2M13 6h1M22 7h1M31 8h2M41 9h1M51 10h2M65 11h3M87 12h2M102 13h2M114 14h2M127 15h2M139 16h2M151 17h2"/>
<path stroke="#a7fc3a" d="M6 5h1M14 6h2M23 7h2M33 8h1M42 9h2M53 10h2M68 11h4M89 12h3M104 13h2M116 14h2M129 15h2M141 16h2M153 17h2"/>
<path stroke="#a9fb39" d="M7 5h2M16 6h1M25 7h1M34 8h2M44 9h2M55 10h1M72 11h4M92 12h2M106 13h1M118 14h2M131 15h1M143 16h1M155 17h1"/>
<path stroke="#acfb38" d="M0 4h2M9 5h1M17 6h2M26 7h2M36 8h2M46 9h1M56 10h3M76 11h3M94 12h2M107 13h2M120 14h2M132 15h2M144 16h2M156 17h2"/>
<path stroke="#affa37" d="M2 4h1M10 5h1M19 6h1M28 7h2M38 8h1M47 9h2M59 10h2M79 11h4M96 12h2M109 13h2M122 14h2M134 15h2M146 16h2M158 17h1"/>
<path stroke="#b1f936" d="M3 4h1M11 5h2M20 6h2M30 7h1M39 8h2M49 9h1M61 10h3M83 11h3M98 12h3M111 13h2M124 14h1M136 15h2M148 16h1M159 17h2"/>
<path stroke="#b4f836" d="M4 4h2M13 5h1M22 6h1M31 7h2M41 8h1M50 9h2M64 10h3M86 11h2M101 12h2M113 13h2M125 14h2M138 15h1M149 16h2"/>
<path stroke="#b7f735" d="M6 4h1M14 5h2M23 6h2M33 7h1M42 8h2M52 9h2M67 10h3M88 11h3M103 12h1M115 13h2M127 14h2M139 15h2M151 16h2"/>
<path stroke="#b9f635" d="M0 3h1M7 4h2M16 5h1M25 6h1M34 7h2M44 8h1M54 9h2M70 10h4M91 11h2M104 12h2M117 13h2M129 14h2M141 15h2M153 16h1"/>
<path stroke="#bcf534" d="M1 3h1M9 4h1M17 5h2M26 6h2M36 7h2M45 8h2M56 9h2M74 10h4M93 11h3M106 12h3M119 13h2M131 14h2M143 15h2M154 16h2"/>
<path stroke="#bef434" d="M2 3h2M10 4h2M19 5h2M28 6h2M38 7h1M47 8h2M58 9h3M78 10h4M96 11h2M109 12h2M121 13h2M133 14h2M145 15h1M156 16h2"/>
<path stroke="#c1f334" d="M4 3h1M12 4h2M21 5h2M30 6h2M39 7h2M49 8h2M61 9h3M82 10h3M98 11h2M111 12h2M123 13h2M135 14h2M146 15h2M158 16h1"/>
<path stroke="#c3f134" d="M5 3h2M14 4h1M23 5h1M32 6h2M41 7h2M51 8h2M64 9h3M85 10h3M100 11h2M113 12h2M125 13h2M137 14h2M148 15h2M159 16h2"/>
<path stroke="#c6f034" d="M7 3h1M15 4h2M24 5h2M34 6h1M43 7h1M53 8h2M67 9h4M88 10h3M102 11h2M115 12h2M127 13h2M139 14h2M150 15h2"/>
<path stroke="#c8ef34" d="M0 2h1M8 3h2M17 4h2M26 5h2M35 6h2M44 7h2M55 8h2M71 9h4M91 10h2M104 11h2M117 12h2M129 13h2M141 14h1M152 15h2"/>
<path stroke="#cbed34" d="M1 2h2M10 3h1M19 4h1M28 5h2M37 6h2M46 7h2M57 8h2M75 9h4M93 10h2M106 11h2M119 12h2M131 13h2M142 14h2M154 15h1"/>
<path stroke="#cdec34" d="M3 2h1M11 3h2M20 4h2M30 5h1M39 6h2M48 7h2M59 8h3M79 9h3M95 10h3M108 11h2M121 12h2M133 13h2M144 14h2M155 15h2"/>
<path stroke="#d0ea34" d="M4 2h2M13 3h2M22 4h2M31 5h2M41 6h1M50 7h2M62 8h3M82 9h3M98 10h2M110 11h3M123 12h2M135 13h2M146 14h2M157 15h2"/>
<path stroke="#d2e935" d="M6 2h2M15 3h2M24 4h2M33 5h2M42 6h2M52 7h1M65 8h3M85 9h3M100 10h2M113 11h2M125 12h2M137 13h1M148 14h2M159 15h2"/>
<path stroke="#d4e735" d="M8 2h1M17 3h1M26 4h2M35 5h2M44 6h1M53 7h2M68 8h4M88 9h3M102 10h2M115 11h2M127 12h2M138 13h2M150 14h1"/>
<path stroke="#d7e535" d="M0 1h2M9 2h2M18 3h2M28 4h1M37 5h1M45 6h2M55 7h2M72 8h3M91 9h2M104 10h2M117 11h2M129 12h2M140 13h2M151 14h2"/>
<path stroke="#d9e436" d="M2 1h2M11 2h2M20 3h2M29 4h2M38 5h2M47 6h2M57 7h3M75 8h4M93 9h2M106 10h2M119 11h2M131 12h2M142 13h2M153 14h2"/>
<path stroke="#dbe236" d="M4 1h1M13 2h1M22 3h2M31 4h2M40 5h2M49 6h2M60 7h2M79 8h3M95 9h3M108 10h2M121 11h2M133 12h1M144 13h2M155 14h2"/>
<path stroke="#dde037" d="M5 1h2M14 2h2M24 3h1M33 4h2M42 5h1M51 6h1M62 7h3M82 8h3M98 9h2M110 10h2M123 11h2M134 12h2M146 13h2M157 14h1"/>
<path stroke="#dfdf37" d="M7 1h2M16 2h2M25 3h2M35 4h1M43 5h2M52 6h2M65 7h4M85 8h3M100 9h2M112 10h3M125 11h2M136 12h2M148 13h1M158 14h2"/>
<path stroke="#e1dd37" d="M0 0h1M9 1h1M18 2h2M27 3h2M36 4h2M45 5h1M54 6h2M69 7h3M88 8h2M102 9h2M115 10h2M127 11h2M138 12h2M149 13h2M160 14h1"/>
<path stroke="#e3db38" d="M1 0h2M10 1h2M20 2h1M29 3h2M38 4h2M46 5h2M56 6h2M72 7h4M90 8h3M104 9h2M117 10h2M129 11h2M140 12h2M151 13h2"/>
<path stroke="#e5d938" d="M3 0h2M12 1h2M21 2h2M31 3h2M40 4h1M48 5h2M58 6h3M76 7h3M93 8h2M106 9h2M119 10h2M131 11h1M142 12h2M153 13h1"/>
<path stroke="#e7d739" d="M5 0h1M14 1h2M23 2h2M33 3h1M41 4h2M50 5h1M61 6h2M79 7h3M95 8h3M108 9h2M121 10h2M132 11h2M144 12h1M154 13h2"/>
<path stroke="#e9d539" d="M6 0h2M16 1h1M25 2h2M34 3h2M43 4h1M51 5h2M63 6h3M82 7h3M98 8h2M110 9h2M123 10h2M134 11h2M145 12h2M156 13h2"/>
<path stroke="#ebd339" d="M8 0h2M17 1h2M27 2h2M36 3h1M44 4h2M53 5h2M66 6h3M85 7h3M100 8h2M112 9h2M125 10h2M136 11h2M147 12h2M158 13h1"/>
<path stroke="#ecd13a" d="M10 0h2M19 1h2M29 2h1M37 3h2M46 4h1M55 5h2M69 6h4M88 7h2M102 8h2M114 9h3M127 10h1M138 11h2M149 12h2M159 13h2"/>
<path stroke="#eecf3a" d="M12 0h1M21 1h2M30 2h2M39 3h2M47 4h2M57 5h2M73 6h3M90 7h3M104 8h2M117 9h2M128 10h2M140 11h2M151 12h1"/>
<path stroke="#efcd3a" d="M13 0h2M23 1h2M32 2h2M41 3h1M49 4h2M59 5h2M76 6h3M93 7h2M106 8h2M119 9h2M130 10h2M142 11h1M152 12h2"/>
<path stroke="#f1cb3a" d="M15 0h2M25 1h1M34 2h2M42 3h2M51 4h1M61 5h3M79 6h3M95 7h2M108 8h2M121 9h2M132 10h2M143 11h2M154 12h2"/>
<path stroke="#f2c93a" d="M17 0h2M26 1h2M36 2h1M44 3h1M52 4h2M64 5h3M82 6h3M97 7h3M110 8h2M123 9h2M134 10h2M145 11h2M156 12h1"/>
<path stroke="#f4c73a" d="M19 0h2M28 1h2M37 2h2M45 3h2M54 4h2M67 5h3M85 6h3M100 7h2M112 8h2M125 9h1M136 10h2M147 11h2M157 12h2"/>
<path stroke="#f5c53a" d="M21 0h1M30 1h2M39 2h1M47 3h1M56 4h2M70 5h3M88 6h2M102 7h2M114 8h2M126 9h2M138 10h2M149 11h1M159 12h1"/>
<path stroke="#f6c33a" d="M22 0h2M32 1h2M40 2h2M48 3h2M58 4h2M73 5h3M90 6h3M104 7h2M116 8h3M128 9h2M140 10h1M150 11h2M160 12h1"/>
<path stroke="#f7c13a" d="M24 0h2M34 1h1M42 2h1M50 3h1M60 4h2M76 5h3M93 6h2M106 7h2M119 8h2M130 9h2M141 10h2M152 11h1"/>
<path stroke="#f8be39" d="M26 0h2M35 1h2M43 2h2M51 3h2M62 4h3M79 5h3M95 6h2M108 7h2M121 8h2M132 9h2M143 10h2M153 11h2"/>
<path stroke="#f9bc39" d="M28 0h2M37 1h1M45 2h1M53 3h2M65 4h2M82 5h3M97 6h2M110 7h2M123 8h1M134 9h2M145 10h1M155 11h2"/>
<path stroke="#faba39" d="M30 0h2M38 1h2M46 2h2M55 3h2M67 4h4M85 5h3M99 6h3M112 7h3M124 8h3M136 9h2M146 10h2M157 11h1"/>
<path stroke="#fbb838" d="M32 0h1M40 1h1M48 2h1M57 3h2M71 4h4M88 5h3M102 6h3M115 7h2M127 8h2M138 9h2M148 10h2M158 11h2"/>
<path stroke="#fbb637" d="M33 0h2M41 1h2M49 2h2M59 3h3M75 4h4M91 5h3M105 6h2M117 7h2M129 8h2M140 9h2M150 10h2M160 11h1"/>
<path stroke="#fcb336" d="M35 0h2M43 1h2M51 2h2M62 3h3M79 4h4M94 5h3M107 6h3M119 7h3M131 8h2M142 9h2M152 10h2"/>
<path stroke="#fcb136" d="M37 0h1M45 1h1M53 2h2M65 3h3M83 4h3M97 5h3M110 6h2M122 7h2M133 8h2M144 9h2M154 10h2"/>
<path stroke="#fdae35" d="M38 0h2M46 1h2M55 2h2M68 3h4M86 4h3M100 5h2M112 6h3M124 7h3M135 8h3M146 9h2M156 10h1"/>
<path stroke="#fdac34" d="M40 0h2M48 1h2M57 2h3M72 3h4M89 4h3M102 5h3M115 6h2M127 7h2M138 8h2M148 9h2M157 10h2"/>
<path stroke="#fea933" d="M42 0h2M50 1h2M60 2h3M76 3h4M92 4h3M105 5h2M117 6h2M129 7h2M140 8h2M150 9h2M159 10h2"/>
<path stroke="#fea732" d="M44 0h1M52 1h2M63 2h3M80 3h4M95 4h2M107 5h3M119 6h3M131 7h2M142 8h2M152 9h1"/>
<path stroke="#fea431" d="M45 0h2M54 1h2M66 2h4M84 3h3M97 4h3M110 5h2M122 6h2M133 7h2M144 8h2M153 9h2"/>
<path stroke="#fea130" d="M47 0h2M56 1h3M70 2h4M87 3h3M100 4h2M112 5h3M124 6h3M135 7h2M146 8h1M155 9h2"/>
<path stroke="#fe9e2f" d="M49 0h2M59 1h2M74 2h4M90 3h3M102 4h3M115 5h2M127 6h2M137 7h2M147 8h2M157 9h1"/>
<path stroke="#fe9b2d" d="M51 0h2M61 1h3M78 2h3M93 3h2M105 4h2M117 5h2M129 6h2M139 7h2M149 8h2M158 9h2"/>
<path stroke="#fe992c" d="M53 0h2M64 1h4M81 2h4M95 3h3M107 4h3M119 5h3M131 6h2M141 7h2M151 8h2M160 9h1"/>
<path stroke="#fe962b" d="M55 0h2M68 1h3M85 2h3M98 3h2M110 4h2M122 5h2M133 6h2M143 7h2M153 8h1"/>
<path stroke="#fe932a" d="M57 0h3M71 1h4M88 2h3M100 3h3M112 4h2M124 5h2M135 6h2M145 7h2M154 8h2"/>
<path stroke="#fe9029" d="M60 0h3M75 1h4M91 2h2M103 3h2M114 4h3M126 5h3M137 6h2M147 7h2M156 8h2"/>
<path stroke="#fd8d27" d="M63 0h3M79 1h4M93 2h3M105 3h2M117 4h2M129 5h2M139 6h2M149 7h1M158 8h1"/>
<path stroke="#fd8a26" d="M66 0h3M83 1h3M96 2h2M107 3h3M119 4h3M131 5h2M141 6h2M150 7h2M159 8h2"/>
<path stroke="#fc8725" d="M69 0h4M86 1h3M98 2h3M110 3h2M122 4h2M133 5h2M143 6h2M152 7h2"/>
<path stroke="#fc8423" d="M73 0h4M89 1h2M101 2h2M112 3h2M124 4h2M135 5h2M145 6h2M154 7h1"/>
<path stroke="#fb8122" d="M77 0h3M91 1h3M103 2h2M114 3h3M126 4h3M137 5h2M147 6h1M155 7h2"/>
<path stroke="#fb7e21" d="M80 0h4M94 1h2M105 2h2M117 3h2M129 4h2M139 5h2M148 6h2M157 7h1"/>
<path stroke="#fa7b1f" d="M84 0h3M96 1h3M107 2h3M119 3h3M131 4h2M141 5h2M150 6h2M158 7h2"/>
<path stroke="#f9781e" d="M87 0h3M99 1h2M110 2h2M122 3h2M133 4h2M143 5h1M152 6h1M160 7h1"/>
<path stroke="#f9751d" d="M90 0h2M101 1h2M112 2h2M124 3h2M135 4h2M144 5h2M153 6h2"/>
<path stroke="#f8721c" d="M92 0h3M103 1h2M114 2h3M126 3h3M137 4h2M146 5h2M155 6h1"/>
<path stroke="#f76f1a" d="M95 0h2M105 1h3M117 2h2M129 3h2M139 4h2M148 5h2M156 6h2"/>
<path stroke="#f66c19" d="M97 0h2M108 1h2M119 2h3M131 3h2M141 4h1M150 5h1M158 6h1"/>
<path stroke="#f56918" d="M99 0h2M110 1h2M122 2h2M133 3h2M142 4h2M151 5h2M159 6h2"/>
<path stroke="#f46617" d="M101 0h2M112 1h2M124 2h2M135 3h2M144 4h2M153 5h1"/>
<path stroke="#f36315" d="M103 0h2M114 1h3M126 2h3M137 3h2M146 4h2M154 5h2"/>
<path stroke="#f26014" d="M105 0h3M117 1h2M129 2h2M139 3h1M148 4h1M156 5h1"/>
<path stroke="#f15d13" d="M108 0h2M119 1h3M131 2h2M140 3h2M149 4h2M157 5h1"/>
<path stroke="#f05b12" d="M110 0h2M122 1h2M133 2h2M142 3h2M151 4h1M158 5h2"/>
<path stroke="#ef5811" d="M112 0h2M124 1h2M135 2h1M144 3h1M152 4h2M160 5h1"/>
<path stroke="#ed5510" d="M114 0h2M126 1h2M136 2h2M145 3h2M154 4h1"/>
<path stroke="#ec530f" d="M116 0h2M128 1h1M138 2h1M147 3h1M155 4h1"/>
<path stroke="#eb500e" d="M118 0h2M129 1h2M139 2h2M148 3h2M156 4h2"/>
<path stroke="#ea4e0d" d="M120 0h2M131 1h2M141 2h1M150 3h1M158 4h1"/>
<path stroke="#e84b0c" d="M122 0h2M133 1h2M142 2h2M151 3h2M159 4h2"/>
<path stroke="#e7490c" d="M124 0h2M135 1h1M144 2h1M153 3h1"/>
<path stroke="#e5470b" d="M126 0h2M136 1h2M145 2h2M154 3h2"/>
<path stroke="#e4450a" d="M128 0h1M138 1h1M147 2h2M156 3h1"/>
<path stroke="#e2430a" d="M129 0h2M139 1h2M149 2h1M157 3h2"/>
<path stroke="#e14109" d="M131 0h2M141 1h1M150 2h2M159 3h2"/>
<path stroke="#df3f08" d="M133 0h1M142 1h2M152 2h1"/>
<path stroke="#dd3d08" d="M134 0h2M144 1h2M153 2h2"/>
<path stroke="#dc3b07" d="M136 0h2M146 1h1M155 2h2"/>
<path stroke="#da3907" d="M138 0h1M147 1h2M157 2h1"/>
<path stroke="#d83706" d="M139 0h2M149 1h2M158 2h2"/>
<path stroke="#d63506" d="M141 0h2M151 1h1M160 2h1"/>
<path stroke="#d43305" d="M143 0h1M152 1h2"/>
<path stroke="#d23105" d="M144 0h2M154 1h2"/>
<path stroke="#d02f05" d="M146 0h2M156 1h2"/>
<path stroke="#ce2d04" d="M148 0h1M158 1h2"/>
<path stroke="#cc2b04" d="M149 0h2M160 1h1"/>
<path stroke="#ca2a04" d="M151 0h2"/>
<path stroke="#c82803" d="M153 0h2"/>
<path stroke="#c52603" d="M155 0h2"/>
<path stroke="#c32503" d="M157 0h2"/>
<path stroke="#c12302" d="M159 0h2"/>
</g></g>
<g clip-path="url(#ca)">
<g fill="none" stroke="#3a3a3a" stroke-width="1.5" stroke-dasharray="10.8 4.3 2.4 4.3"><path d="M109.5 186.8L115.3 187.9L121 189.1L126.8 190.3L132.6 191.5L138.4 192.7L144.1 193.8L149.9 195L155.7 196.2L161.4 197.3L167.2 198.5L173 199.7L178.8 200.8L184.5 201.9L190.3 203.1L196.1 204.2L201.8 205.4L207.6 206.5L213.4 207.7L219.2 208.9L224.9 210.2L230.7 211.4L236.5 212.6L242.2 213.8L248 215L253.8 216.1L259.6 217.2L265.3 218.3L271.1 219.2L276.9 220.1L282.6 220.9L288.4 221.7L294.2 222.3L299.9 222.9L305.7 223.4L311.5 223.9L317.3 224.4L323 224.8L328.8 225.3L334.6 225.8L340.3 226.4L346.1 227L351.9 227.7L357.7 228.6L363.4 229.5L369.2 230.5L375 231.5L380.7 232.6L386.5 233.7L392.3 234.8L398.1 235.9L403.8 236.9L409.6 238L415.4 239L421.1 240.1L426.9 241.2L432.7 242.2L438.5 243.3L444.2 244.4L450 245.5"/><path d="M109.5 150.7L116.8 152.5L124 154.3L131.3 156.1L138.5 157.9L145.8 159.6L153 161.4L160.3 163.1L167.5 164.8L174.8 166.6L182 168.3L189.3 170L196.6 171.7L203.8 173.4L211.1 175.2L218.3 177L225.6 178.9L232.8 180.7L240.1 182.5L247.3 184.2L254.6 185.8L261.8 187.3L269.1 188.6L276.3 189.7L283.6 190.6L290.9 191.4L298.1 192.1L305.4 192.8L312.6 193.4L319.9 194L327.1 194.6L334.4 195.3L341.6 196L348.9 196.9L356.1 197.8L363.4 198.9L370.7 200L377.9 201.3L385.2 202.6L392.4 203.9L399.7 205.3L406.9 206.7L414.2 208.2L421.4 209.6L428.7 211L435.9 212.4L443.2 213.8L450.4 215.1L457.7 216.3L465 217.6L472.2 218.9L479.5 220.1L486.7 221.4L494 222.6L501.2 223.9L508.5 225.1L515.7 226.3L523 227.6L530.2 228.8L537.5 230"/><path d="M109.5 107.5L117.1 109.7L124.6 111.9L132.2 114L139.7 116.1L147.3 118.3L154.9 120.4L162.4 122.4L170 124.5L177.5 126.5L185.1 128.6L192.7 130.6L200.2 132.6L207.8 134.6L215.3 136.6L222.9 138.7L230.4 140.8L238 142.8L245.6 144.8L253.1 146.7L260.7 148.4L268.2 150L275.8 151.4L283.4 152.6L290.9 153.7L298.5 154.7L306 155.7L313.6 156.6L321.2 157.4L328.7 158.4L336.3 159.3L343.8 160.3L351.4 161.5L359 162.7L366.5 164L374.1 165.3L381.6 166.6L389.2 168.1L396.8 169.5L404.3 171L411.9 172.5L419.4 174L427 175.5L434.6 177L442.1 178.5L449.7 179.9L457.2 181.4L464.8 182.9L472.3 184.4L479.9 185.9L487.5 187.4L495 188.9L502.6 190.4L510.1 191.9L517.7 193.5L525.3 195L532.8 196.6L540.4 198.1L547.9 199.7L555.5 201.2"/><path d="M109.5 61.2L117.1 63.8L124.6 66.4L132.2 68.9L139.7 71.4L147.3 73.9L154.9 76.3L162.4 78.7L170 81L177.5 83.3L185.1 85.6L192.7 87.9L200.2 90.1L207.8 92.3L215.3 94.5L222.9 96.8L230.4 99L238 101.2L245.6 103.3L253.1 105.2L260.7 107.1L268.2 108.7L275.8 110.1L283.4 111.4L290.9 112.5L298.5 113.5L306 114.4L313.6 115.3L321.2 116.1L328.7 117L336.3 118L343.8 119L351.4 120.2L359 121.5L366.5 122.9L374.1 124.4L381.6 125.9L389.2 127.5L396.8 129.1L404.3 130.8L411.9 132.5L419.4 134.3L427 136L434.6 137.7L442.1 139.5L449.7 141.2L457.2 142.9L464.8 144.6L472.3 146.3L479.9 148.1L487.5 149.8L495 151.6L502.6 153.4L510.1 155.2L517.7 157L525.3 158.8L532.8 160.7L540.4 162.5L547.9 164.4L555.5 166.3"/><path d="M193.8 37.5L199.9 40L206 42.3L212.1 44.7L218.3 46.9L224.4 49.1L230.5 51.2L236.7 53.3L242.8 55.2L248.9 57L255.1 58.8L261.2 60.4L267.3 62L273.5 63.4L279.6 64.7L285.7 65.9L291.9 67L298 68.1L304.1 69L310.2 70L316.4 70.9L322.5 71.8L328.6 72.7L334.8 73.7L340.9 74.7L347 75.7L353.2 76.8L359.3 78L365.4 79.2L371.6 80.4L377.7 81.6L383.8 82.9L390 84.1L396.1 85.4L402.2 86.7L408.3 88.1L414.5 89.4L420.6 90.8L426.7 92.2L432.9 93.5L439 94.9L445.1 96.4L451.3 97.8L457.4 99.2L463.5 100.7L469.7 102.2L475.8 103.7L481.9 105.2L488.1 106.8L494.2 108.4L500.3 109.9L506.4 111.5L512.6 113.2L518.7 114.8L524.8 116.5L531 118.1L537.1 119.8L543.2 121.5L549.4 123.3L555.5 125"/><path d="M417.5 37.5L419.8 38L422.2 38.5L424.5 39L426.9 39.5L429.2 40L431.5 40.5L433.9 41L436.2 41.5L438.6 42.1L440.9 42.6L443.2 43.1L445.6 43.7L447.9 44.3L450.2 44.8L452.6 45.4L454.9 46L457.3 46.6L459.6 47.2L461.9 47.8L464.3 48.4L466.6 49L469 49.6L471.3 50.2L473.6 50.9L476 51.5L478.3 52.2L480.7 52.8L483 53.5L485.3 54.1L487.7 54.8L490 55.5L492.3 56.2L494.7 56.9L497 57.6L499.4 58.3L501.7 59L504 59.8L506.4 60.5L508.7 61.2L511.1 62L513.4 62.7L515.7 63.5L518.1 64.3L520.4 65L522.8 65.8L525.1 66.6L527.4 67.4L529.8 68.2L532.1 69L534.4 69.8L536.8 70.7L539.1 71.5L541.5 72.3L543.8 73.2L546.1 74L548.5 74.9L550.8 75.8L553.2 76.6L555.5 77.5"/><path d="M450 245.5L457.5 249.5L461 255L462 262.5L464.5 423.25"/><path d="M537.5 230L547.5 233L555.5 237.5"/></g>
<g fill="none" stroke="#fff"><path stroke-width="2.9" stroke-dasharray="14.2 7.8" d="M109.5 220.5L115.1 222.5L120.8 224.4L126.4 226.2L132.1 228L137.7 229.7L143.4 231.4L149 232.9L154.7 234.4L160.3 235.7L166 237L171.6 238.3L177.2 239.4L182.9 240.6L188.5 241.7L194.2 242.7L199.8 243.7L205.5 244.7L211.1 245.5L216.8 246.4L222.4 247.2L228.1 247.9L233.7 248.6L239.3 249.3L245 249.9L250.6 250.5L256.3 251.1L261.9 251.7L267.6 252.2L273.2 252.7L278.9 253.1L284.5 253.5L290.2 253.9L295.8 254.3L301.4 254.7L307.1 255L312.7 255.3L318.4 255.5L324 255.7L329.7 255.9L335.3 256L341 256.1L346.6 256.2L352.3 256.2L357.9 256.2L363.6 256.1L369.2 255.9L374.8 255.6L380.5 255.2L386.1 254.8L391.8 254.4L397.4 253.9L403.1 253.5L408.7 253L414.4 252.4L420 251.7L425.7 251L431.3 250.2L436.9 249.4L442.6 248.6L448.2 247.8L453.9 246.9L459.5 246L465.2 245.1L470.8 244.2L476.5 243.2L482.1 242.1L487.8 241.1L493.4 240L499 238.9L504.7 237.8L510.3 236.7L516 235.6L521.6 234.4L527.3 233.2L532.9 231.9L538.6 230.7L544.2 229.4L549.9 228.1L555.5 226.7"/><path stroke-width="2.9" stroke-dasharray="14.2 7.8" stroke-dashoffset="7.7" d="M325 255.75L255 424.5"/><path stroke-width="2.9" stroke-dasharray="14.2 7.8" d="M354.8 256.25V424.5"/></g>
<path d="M343.8 253.7L344.5 249.3L345.3 244.9L346.1 240.6L346.9 236.3L347.7 232.1L348.5 228L349.2 223.9L350 219.8L350.8 215.8L351.6 211.9L352.4 208L353.2 204.2L353.9 200.5L354.7 196.9L355.5 193.3L356.3 189.7L357.1 186.3L357.9 182.8L358.6 179.4L359.4 176L360.2 172.7L361 169.3L361.8 165.9L362.6 162.6L363.3 159.3L364.1 156.1L364.9 152.9L365.7 149.8L366.5 146.6L367.3 143.5L368.1 140.3L368.8 137.1L369.6 133.9L370.4 130.6L371.2 127.3L372 123.9L372.8 120.4L373.5 116.8L374.3 113.2L375.1 109.5L375.9 105.8L376.7 102.1L377.5 98.3L378.2 94.6L379 90.8L379.8 87L380.6 83.2L381.4 79.4L382.2 75.7L382.9 71.9L383.7 68.1L384.5 64.3L385.3 60.5L386.1 56.7L386.9 52.9L387.6 49.1L388.4 45.2L389.2 41.4L390 37.5" fill="none" stroke="#000" stroke-width="3.3" stroke-dasharray="13.8 8.3"/>
</g>
<g stroke="#262626" stroke-width="2.2" fill="none"><path d="M165.25 424.5v-4.5 M165.25 37.4v4.5M276.75 424.5v-4.5 M276.75 37.4v4.5M388.25 424.5v-4.5 M388.25 37.4v4.5M499.75 424.5v-4.5 M499.75 37.4v4.5M109.5 295.47h4.5 M555.5 295.47h-4.5M109.5 166.43h4.5 M555.5 166.43h-4.5"/><rect x="109.5" y="37.4" width="446" height="387.1"/></g>
<text x="165.25" y="461.5" font-size="25.33" text-anchor="middle">0.2</text><text x="276.75" y="461.5" font-size="25.33" text-anchor="middle">0.4</text><text x="388.25" y="461.5" font-size="25.33" text-anchor="middle">0.6</text><text x="499.75" y="461.5" font-size="25.33" text-anchor="middle">0.8</text><text x="99" y="436.5" font-size="25.33" text-anchor="end">0.75</text><text x="99" y="307.47" font-size="25.33" text-anchor="end">0.8</text><text x="99" y="178.43" font-size="25.33" text-anchor="end">0.85</text><text x="99" y="49.4" font-size="25.33" text-anchor="end">0.9</text><g transform="translate(288.4 503.35)"><text x="0" y="0" font-size="30">V</text><text x="20.96" y="12.6" font-size="23.1">G</text><text x="47.56" y="0" font-size="30">(V)</text></g><g transform="translate(25.6 273.35) rotate(-90)"><text x="0" y="0" font-size="30">V</text><text x="21.11" y="12" font-size="23.1">B</text><text x="45.55" y="0" font-size="30">(V)</text></g>
<linearGradient id="gta" x1="0" y1="1" x2="0" y2="0"><stop offset="0" stop-color="#30123b"/><stop offset="0.042" stop-color="#3b2f80"/><stop offset="0.083" stop-color="#434eba"/><stop offset="0.125" stop-color="#466be3"/><stop offset="0.167" stop-color="#4685fa"/><stop offset="0.208" stop-color="#3ba0fd"/><stop offset="0.25" stop-color="#28bceb"/><stop offset="0.292" stop-color="#1ad2d2"/><stop offset="0.333" stop-color="#1ae4b6"/><stop offset="0.375" stop-color="#32f298"/><stop offset="0.417" stop-color="#55fa76"/><stop offset="0.458" stop-color="#80ff53"/><stop offset="0.5" stop-color="#a4fc3c"/><stop offset="0.542" stop-color="#bef434"/><stop offset="0.583" stop-color="#d9e436"/><stop offset="0.625" stop-color="#eecf3a"/><stop offset="0.667" stop-color="#faba39"/><stop offset="0.708" stop-color="#fe9e2f"/><stop offset="0.75" stop-color="#fb7e21"/><stop offset="0.792" stop-color="#f26014"/><stop offset="0.833" stop-color="#e4450a"/><stop offset="0.875" stop-color="#d02f05"/><stop offset="0.917" stop-color="#b91e02"/><stop offset="0.958" stop-color="#9b0f01"/><stop offset="1" stop-color="#7a0403"/></linearGradient><rect x="572.9" y="179.2" width="28.2" height="245.2" fill="url(#gta)" stroke="#2e2e2e" stroke-width="1.2"/><text x="612" y="434.9" font-size="21.3">0</text><text x="612" y="353.17" font-size="21.3">0.5</text><text x="612" y="271.43" font-size="21.3">1</text><text x="612" y="189.7" font-size="21.3">1.5</text><path d="M601.1 424.4h-3M601.1 342.67h-3M601.1 260.93h-3M601.1 179.2h-3" stroke="#262626" stroke-width="1" fill="none"/>
<g transform="translate(594 170.3) rotate(-90)"><text x="0" y="0" font-size="23.4">n</text><text x="13.48" y="10.76" font-size="18.72">e</text><text x="32.38" y="0" font-size="23.4">(10</text><text x="66.67" y="-11" font-size="18.72">12</text><text x="95.98" y="0" font-size="23.4">cm</text><text x="127.64" y="-11" font-size="18.72">-2</text><text x="146.28" y="0" font-size="23.4">)</text></g>
<g transform="translate(354.3 21.8)"><text font-size="25.33" fill="#000">n</text><text x="16.5" y="12.2" font-size="21.3" fill="#000">e</text><text x="29.6" y="2.6" font-size="33" fill="#000">≈</text><text x="50.8" font-size="25.33" fill="#000">n</text><text x="67.3" y="12.2" font-size="21.3" fill="#000">h</text></g>
<g clip-path="url(#cb)"><g shape-rendering="crispEdges" transform="translate(794.605 36.7) scale(2.7894 7.744)" stroke-width="1.03" fill="none">
<path stroke="#30123b" stroke-width="52" d="M0 25h161"/>
<path stroke="#321543" d="M152 25h1M138 26h2M122 27h2M95 28h5M73 29h2M72 30h2M71 31h2M70 32h2M69 33h2M68 34h2M66 35h2M65 36h2M64 37h2M63 38h2M62 39h2M61 40h2M59 41h2M58 42h2M57 43h2M56 44h2M55 45h2M54 46h2M52 47h3M51 48h2M50 49h2M49 50h2"/>
<path stroke="#33184a" d="M151 25h1M136 26h2M119 27h3M76 28h19M72 29h1M71 30h1M70 31h1M68 32h2M67 33h2M66 34h2M65 35h1M64 36h1M63 37h1M61 38h2M60 39h2M59 40h2M58 41h1M57 42h1M55 43h2M54 44h2M53 45h2M52 46h2M51 47h1M50 48h1M48 49h2M47 50h2"/>
<path stroke="#341b51" d="M149 25h2M135 26h1M117 27h2M74 28h2M71 29h1M69 30h2M68 31h2M67 32h1M66 33h1M65 34h1M63 35h2M62 36h2M61 37h2M60 38h1M59 39h1M57 40h2M56 41h2M55 42h2M54 43h1M53 44h1M52 45h1M50 46h2M49 47h2M48 48h2M47 49h1M46 50h1"/>
<path stroke="#351e58" d="M148 25h1M133 26h2M114 27h3M72 28h2M69 29h2M68 30h1M67 31h1M66 32h1M64 33h2M63 34h2M62 35h1M61 36h1M60 37h1M58 38h2M57 39h2M56 40h1M55 41h1M54 42h1M53 43h1M51 44h2M50 45h2M49 46h1M48 47h1M47 48h1M45 49h2M44 50h2"/>
<path stroke="#36215f" d="M159 24h2M146 25h2M131 26h2M111 27h3M70 28h2M68 29h1M67 30h1M66 31h1M64 32h2M63 33h1M62 34h1M61 35h1M60 36h1M58 37h2M57 38h1M56 39h1M55 40h1M54 41h1M52 42h2M51 43h2M50 44h1M49 45h1M48 46h1M46 47h2M45 48h2M44 49h1M43 50h1"/>
<path stroke="#372466" d="M158 24h1M144 25h2M129 26h2M108 27h3M69 28h1M67 29h1M66 30h1M64 31h2M63 32h1M62 33h1M61 34h1M60 35h1M58 36h2M57 37h1M56 38h1M55 39h1M54 40h1M52 41h2M51 42h1M50 43h1M49 44h1M48 45h1M46 46h2M45 47h1M44 48h1M43 49h1M41 50h2"/>
<path stroke="#38276d" d="M157 24h1M143 25h1M126 26h3M103 27h5M67 28h2M66 29h1M64 30h2M63 31h1M62 32h1M61 33h1M60 34h1M58 35h2M57 36h1M56 37h1M55 38h1M54 39h1M52 40h2M51 41h1M50 42h1M49 43h1M48 44h1M46 45h2M45 46h1M44 47h1M43 48h1M41 49h2M40 50h1"/>
<path stroke="#392a73" d="M155 24h2M141 25h2M124 26h2M99 27h4M66 28h1M65 29h1M63 30h1M62 31h1M61 32h1M60 33h1M59 34h1M57 35h1M56 36h1M55 37h1M54 38h1M52 39h2M51 40h1M50 41h1M49 42h1M48 43h1M46 44h2M45 45h1M44 46h1M43 47h1M41 48h2M40 49h1M39 50h1"/>
<path stroke="#3a2d79" d="M154 24h1M139 25h2M121 26h3M93 27h6M65 28h1M64 29h1M62 30h1M61 31h1M60 32h1M59 33h1M57 34h2M56 35h1M55 36h1M54 37h1M53 38h1M51 39h1M50 40h1M49 41h1M48 42h1M46 43h2M45 44h1M44 45h1M43 46h1M42 47h1M40 48h1M39 49h1M38 50h1"/>
<path stroke="#3b2f80" d="M152 24h2M137 25h2M119 26h2M86 27h7M64 28h1M63 29h1M61 30h1M60 31h1M59 32h1M58 33h1M56 34h1M55 35h1M54 36h1M53 37h1M51 38h2M50 39h1M49 40h1M48 41h1M47 42h1M45 43h1M44 44h1M43 45h1M42 46h1M40 47h2M39 48h1M38 49h1M37 50h1"/>
<path stroke="#3c3286" d="M151 24h1M135 25h2M116 26h3M79 27h7M63 28h1M62 29h1M60 30h1M59 31h1M58 32h1M57 33h1M55 34h1M54 35h1M53 36h1M52 37h1M50 38h1M49 39h1M48 40h1M47 41h1M45 42h2M44 43h1M43 44h1M42 45h1M41 46h1M39 47h1M38 48h1M37 49h1M36 50h1"/>
<path stroke="#3d358b" d="M149 24h2M133 25h2M113 26h3M76 27h3M62 28h1M61 29h1M59 30h1M58 31h1M57 32h1M56 33h1M54 34h1M53 35h1M52 36h1M51 37h1M49 38h1M48 39h1M47 40h1M46 41h1M44 42h1M43 43h1M42 44h1M41 45h1M39 46h2M38 47h1M37 48h1M36 49h1M34 50h2"/>
<path stroke="#3e3891" d="M148 24h1M131 25h2M110 26h3M74 27h2M61 28h1M60 29h1M58 30h1M57 31h1M56 32h1M55 33h1M53 34h1M52 35h1M51 36h1M50 37h1M48 38h1M47 39h1M46 40h1M45 41h1M43 42h1M42 43h1M41 44h1M40 45h1M38 46h1M37 47h1M36 48h1M35 49h1M33 50h1"/>
<path stroke="#3f3b97" d="M146 24h2M129 25h2M106 26h4M73 27h1M60 28h1M59 29h1M57 30h1M56 31h1M55 32h1M54 33h1M52 34h1M51 35h1M50 36h1M49 37h1M47 38h1M46 39h1M45 40h1M44 41h1M42 42h1M41 43h1M40 44h1M39 45h1M37 46h1M36 47h1M35 48h1M34 49h1M32 50h1"/>
<path stroke="#3f3e9c" d="M159 23h2M144 24h2M126 25h3M101 26h5M71 27h2M59 28h1M58 29h1M56 30h1M55 31h1M54 32h1M53 33h1M51 34h1M50 35h1M49 36h1M48 37h1M46 38h1M45 39h1M44 40h1M43 41h1M41 42h1M40 43h1M39 44h1M38 45h1M36 46h1M35 47h1M34 48h1M33 49h1M31 50h1"/>
<path stroke="#4040a2" d="M158 23h1M142 24h2M124 25h2M97 26h4M70 27h1M58 28h1M57 29h1M54 31h1M53 32h1M52 33h1M49 35h1M48 36h1M47 37h1M45 38h1M44 39h1M43 40h1M42 41h1M40 42h1M39 43h1M38 44h1M37 45h1M35 46h1M34 47h1M33 48h1M32 49h1M30 50h1"/>
<path stroke="#4143a7" d="M156 23h2M140 24h2M121 25h3M92 26h5M68 27h2M57 28h1M56 29h1M55 30h1M53 31h1M52 32h1M51 33h1M50 34h1M48 35h1M47 36h1M46 37h1M43 39h1M42 40h1M41 41h1M39 42h1M38 43h1M37 44h1M36 45h1M34 46h1M33 47h1M32 48h1M31 49h1M29 50h1"/>
<path stroke="#4146ac" d="M155 23h1M138 24h2M118 25h3M88 26h4M67 27h1M56 28h1M55 29h1M54 30h1M51 32h1M50 33h1M49 34h1M47 35h1M46 36h1M45 37h1M44 38h1M42 39h1M41 40h1M40 41h1M37 43h1M36 44h1M35 45h1M33 46h1M32 47h1M31 48h1M30 49h1M28 50h1"/>
<path stroke="#4249b1" d="M153 23h2M136 24h2M115 25h3M83 26h5M66 27h1M55 28h1M54 29h1M53 30h1M52 31h1M50 32h1M49 33h1M48 34h1M45 36h1M44 37h1M43 38h1M41 39h1M40 40h1M39 41h1M38 42h1M36 43h1M35 44h1M34 45h1M32 46h1M31 47h1M30 48h1M29 49h1M27 50h1"/>
<path stroke="#424bb5" d="M151 23h2M134 24h2M112 25h3M80 26h3M64 27h2M53 29h1M52 30h1M51 31h1M48 33h1M47 34h1M46 35h1M44 36h1M43 37h1M42 38h1M39 40h1M38 41h1M37 42h1M35 43h1M34 44h1M33 45h1M30 47h1M29 48h1M28 49h1M26 50h1"/>
<path stroke="#434eba" d="M150 23h1M132 24h2M108 25h4M78 26h2M63 27h1M54 28h1M52 29h1M51 30h1M50 31h1M49 32h1M47 33h1M46 34h1M45 35h1M43 36h1M42 37h1M41 38h1M40 39h1M38 40h1M37 41h1M36 42h1M34 43h1M33 44h1M32 45h1M31 46h1M29 47h1M28 48h1M27 49h1M25 50h1"/>
<path stroke="#4451bf" d="M148 23h2M129 24h3M104 25h4M76 26h2M62 27h1M53 28h1M50 30h1M49 31h1M48 32h1M45 34h1M44 35h1M41 37h1M40 38h1M39 39h1M37 40h1M36 41h1M35 42h1M32 44h1M31 45h1M30 46h1M28 47h1M27 48h1M26 49h1"/>
<path stroke="#4454c3" d="M146 23h2M126 24h3M100 25h4M75 26h1M61 27h1M52 28h1M51 29h1M48 31h1M47 32h1M46 33h1M44 34h1M43 35h1M42 36h1M40 37h1M39 38h1M38 39h1M35 41h1M34 42h1M33 43h1M31 44h1M30 45h1M29 46h1M26 48h1M25 49h1M24 50h1"/>
<path stroke="#4456c7" d="M144 23h2M124 24h2M96 25h4M73 26h2M60 27h1M51 28h1M50 29h1M49 30h1M47 31h1M46 32h1M45 33h1M42 35h1M41 36h1M38 38h1M37 39h1M36 40h1M34 41h1M33 42h1M32 43h1M29 45h1M28 46h1M27 47h1M25 48h1M24 49h1M23 50h1"/>
<path stroke="#4559cb" d="M159 22h2M142 23h2M121 24h3M92 25h4M72 26h1M59 27h1M49 29h1M48 30h1M45 32h1M44 33h1M43 34h1M41 35h1M40 36h1M39 37h1M37 38h1M36 39h1M35 40h1M32 42h1M31 43h1M30 44h1M28 45h1M27 46h1M26 47h1M24 48h1M23 49h1M22 50h1"/>
<path stroke="#455ccf" d="M158 22h1M139 23h3M118 24h3M88 25h4M71 26h1M58 27h1M50 28h1M48 29h1M47 30h1M46 31h1M44 32h1M43 33h1M42 34h1M39 36h1M38 37h1M35 39h1M34 40h1M33 41h1M31 42h1M30 43h1M29 44h1M27 45h1M26 46h1M25 47h1M22 49h1M21 50h1"/>
<path stroke="#455ed3" d="M156 22h2M137 23h2M114 24h4M85 25h3M69 26h2M57 27h1M49 28h1M46 30h1M45 31h1M42 33h1M41 34h1M40 35h1M38 36h1M37 37h1M36 38h1M34 39h1M33 40h1M32 41h1M29 43h1M28 44h1M25 46h1M24 47h1M23 48h1M21 49h1M20 50h1"/>
<path stroke="#4661d6" d="M154 22h2M135 23h2M111 24h3M83 25h2M68 26h1M56 27h1M48 28h1M47 29h1M44 31h1M43 32h1M40 34h1M39 35h1M36 37h1M35 38h1M32 40h1M31 41h1M30 42h1M28 43h1M27 44h1M26 45h1M24 46h1M23 47h1M22 48h1M20 49h1M19 50h1"/>
<path stroke="#4664da" d="M152 22h2M132 23h3M106 24h5M81 25h2M67 26h1M55 27h1M47 28h1M46 29h1M45 30h1M43 31h1M42 32h1M41 33h1M39 34h1M38 35h1M37 36h1M35 37h1M34 38h1M33 39h1M30 41h1M29 42h1M26 44h1M25 45h1M22 47h1M21 48h1M18 50h1"/>
<path stroke="#4666dd" d="M150 22h2M129 23h3M102 24h4M79 25h2M66 26h1M54 27h1M45 29h1M44 30h1M41 32h1M40 33h1M37 35h1M36 36h1M33 38h1M32 39h1M31 40h1M29 41h1M28 42h1M27 43h1M25 44h1M24 45h1M23 46h1M21 47h1M20 48h1M19 49h1M17 50h1"/>
<path stroke="#4669e0" d="M148 22h2M127 23h2M98 24h4M77 25h2M65 26h1M50 27h1M53 27h1M46 28h1M43 30h1M42 31h1M39 33h1M38 34h1M35 36h1M34 37h1M31 39h1M30 40h1M27 42h1M26 43h1M23 45h1M22 46h1M19 48h1M18 49h1"/>
<path stroke="#466be3" d="M146 22h2M124 23h3M95 24h3M76 25h1M64 26h1M49 27h1M52 27h1M45 28h1M44 29h1M42 30h1M41 31h1M40 32h1M38 33h1M37 34h1M36 35h1M34 36h1M33 37h1M32 38h1M30 39h1M29 40h1M28 41h1M26 42h1M25 43h1M24 44h1M22 45h1M21 46h1M20 47h1M18 48h1M17 49h1M16 50h1"/>
<path stroke="#476ee6" d="M143 22h3M121 23h3M91 24h4M75 25h1M63 26h1M48 27h1M44 28h1M43 29h1M40 31h1M39 32h1M36 34h1M35 35h1M32 37h1M31 38h1M28 40h1M27 41h1M24 43h1M23 44h1M20 46h1M19 47h1M16 49h1M15 50h1"/>
<path stroke="#4771e9" d="M141 22h2M117 23h4M89 24h2M73 25h2M61 26h2M47 27h1M51 27h1M43 28h1M42 29h1M41 30h1M39 31h1M38 32h1M37 33h1M35 34h1M34 35h1M33 36h1M31 37h1M30 38h1M29 39h1M27 40h1M26 41h1M25 42h1M23 43h1M22 44h1M21 45h1M19 46h1M18 47h1M17 48h1M15 49h1M14 50h1"/>
<path stroke="#4773eb" d="M159 21h2M138 22h3M114 23h3M86 24h3M72 25h1M60 26h1M46 27h1M42 28h1M41 29h1M40 30h1M38 31h1M37 32h1M35 33h2M34 34h1M33 35h1M31 36h2M30 37h1M29 38h1M27 39h2M26 40h1M25 41h1M23 42h2M22 43h1M21 44h1M19 45h2M18 46h1M17 47h1M15 48h2M14 49h1M13 50h1"/>
<path stroke="#4776ee" d="M156 21h3M135 22h3M110 23h4M84 24h2M71 25h1M59 26h1M45 27h1M41 28h1M40 29h1M38 30h2M37 31h1M36 32h1M34 33h1M33 34h1M32 35h1M30 36h1M29 37h1M28 38h1M26 39h1M25 40h1M23 41h2M22 42h1M21 43h1M19 44h2M18 45h1M17 46h1M15 47h2M14 48h1M13 49h1M11 50h2"/>
<path stroke="#4778f0" d="M154 21h2M133 22h2M106 23h4M82 24h2M69 25h2M58 26h1M43 27h2M40 28h1M39 29h1M37 30h1M36 31h1M34 32h2M33 33h1M32 34h1M30 35h2M29 36h1M28 37h1M26 38h2M25 39h1M24 40h1M22 41h1M21 42h1M20 43h1M18 44h1M17 45h1M15 46h2M14 47h1M13 48h1M11 49h2M10 50h1"/>
<path stroke="#477bf2" d="M151 21h3M130 22h3M102 23h4M81 24h1M68 25h1M56 26h2M41 27h2M39 28h1M37 29h2M36 30h1M35 31h1M33 32h1M32 33h1M31 34h1M29 35h1M28 36h1M26 37h2M25 38h1M24 39h1M22 40h2M21 41h1M20 42h1M18 43h2M17 44h1M16 45h1M14 46h1M13 47h1M11 48h2M10 49h1M9 50h1"/>
<path stroke="#467df4" d="M149 21h2M127 22h3M99 23h3M79 24h2M67 25h1M55 26h1M39 27h2M38 28h1M36 29h1M35 30h1M33 31h2M32 32h1M31 33h1M29 34h2M28 35h1M27 36h1M25 37h1M24 38h1M23 39h1M21 40h1M20 41h1M18 42h2M17 43h1M16 44h1M14 45h2M13 46h1M12 47h1M10 48h1M9 49h1M7 50h2"/>
<path stroke="#4680f6" d="M146 21h3M124 22h3M96 23h3M78 24h1M65 25h2M50 26h1M54 26h1M38 27h1M36 28h2M35 29h1M34 30h1M32 31h1M31 32h1M30 33h1M28 34h1M27 35h1M25 36h2M24 37h1M23 38h1M21 39h2M20 40h1M19 41h1M17 42h1M16 43h1M14 44h2M13 45h1M12 46h1M10 47h2M9 48h1M8 49h1M6 50h1"/>
<path stroke="#4682f8" d="M144 21h2M121 22h3M93 23h3M76 24h2M64 25h1M49 26h1M52 26h2M37 27h1M35 28h1M34 29h1M33 30h1M31 31h1M30 32h1M28 33h2M27 34h1M26 35h1M24 36h1M23 37h1M21 38h2M20 39h1M19 40h1M17 41h2M16 42h1M15 43h1M13 44h1M12 45h1M10 46h2M9 47h1M8 48h1M6 49h2M5 50h1"/>
<path stroke="#4685fa" d="M141 21h3M118 22h3M90 23h3M75 24h1M63 25h1M48 26h1M51 26h1M35 27h2M34 28h1M33 29h1M31 30h2M30 31h1M29 32h1M27 33h1M26 34h1M24 35h2M23 36h1M22 37h1M20 38h1M19 39h1M17 40h2M16 41h1M15 42h1M13 43h2M12 44h1M11 45h1M9 46h1M8 47h1M6 48h2M5 49h1M4 50h1"/>
<path stroke="#4687fb" d="M160 20h1M138 21h3M114 22h4M88 23h2M74 24h1M61 25h2M47 26h1M34 27h1M33 28h1M32 29h1M30 30h1M29 31h1M27 32h2M26 33h1M25 34h1M23 35h1M22 36h1M20 37h2M19 38h1M18 39h1M16 40h1M15 41h1M13 42h2M12 43h1M11 44h1M9 45h2M8 46h1M6 47h2M5 48h1M4 49h1M2 50h2"/>
<path stroke="#458afc" d="M157 20h3M136 21h2M111 22h3M86 23h2M72 24h2M60 25h1M45 26h2M33 27h1M32 28h1M30 29h2M29 30h1M28 31h1M26 32h1M25 33h1M23 34h2M22 35h1M21 36h1M19 37h1M18 38h1M16 39h2M15 40h1M14 41h1M12 42h1M11 43h1M9 44h2M8 45h1M7 46h1M5 47h1M4 48h1M2 49h2M1 50h1"/>
<path stroke="#458cfd" d="M155 20h2M133 21h3M107 22h4M84 23h2M71 24h1M59 25h1M44 26h1M32 27h1M31 28h1M29 29h1M28 30h1M26 31h2M25 32h1M24 33h1M22 34h1M21 35h1M19 36h2M18 37h1M17 38h1M15 39h1M14 40h1M12 41h2M11 42h1M10 43h1M8 44h1M7 45h1M5 46h2M4 47h1M3 48h1M1 49h1M0 50h1"/>
<path stroke="#448ffe" d="M152 20h3M130 21h3M104 22h3M82 23h2M70 24h1M57 25h2M42 26h2M31 27h1M29 28h2M28 29h1M27 30h1M25 31h1M24 32h1M22 33h2M21 34h1M20 35h1M18 36h1M17 37h1M15 38h2M14 39h1M13 40h1M11 41h1M10 42h1M8 43h2M7 44h1M5 45h2M4 46h1M3 47h1M1 48h2M0 49h1"/>
<path stroke="#4391fe" d="M150 20h2M127 21h3M100 22h4M81 23h1M68 24h2M56 25h1M40 26h2M30 27h1M28 28h1M27 29h1M25 30h2M24 31h1M23 32h1M21 33h1M20 34h1M18 35h2M17 36h1M16 37h1M14 38h1M13 39h1M11 40h2M10 41h1M8 42h2M7 43h1M6 44h1M4 45h1M3 46h1M1 47h2M0 48h1"/>
<path stroke="#4294ff" d="M147 20h3M124 21h3M97 22h3M79 23h2M67 24h1M54 25h2M38 26h2M29 27h1M27 28h1M26 29h1M24 30h1M23 31h1M21 32h2M20 33h1M19 34h1M17 35h1M16 36h1M14 37h2M13 38h1M12 39h1M10 40h1M9 41h1M7 42h1M6 43h1M4 44h2M3 45h1M2 46h1M0 47h1"/>
<path stroke="#4196ff" d="M144 20h3M121 21h3M94 22h3M78 23h1M65 24h2M50 25h1M53 25h1M36 26h2M27 27h2M26 28h1M25 29h1M23 30h1M22 31h1M20 32h1M19 33h1M17 34h2M16 35h1M15 36h1M13 37h1M12 38h1M10 39h2M9 40h1M7 41h2M6 42h1M5 43h1M3 44h1M2 45h1M0 46h2"/>
<path stroke="#4099ff" d="M141 20h3M118 21h3M92 22h2M77 23h1M64 24h1M49 25h1M52 25h1M33 26h3M26 27h1M25 28h1M23 29h2M22 30h1M21 31h1M19 32h1M18 33h1M16 34h1M15 35h1M13 36h2M12 37h1M10 38h2M9 39h1M8 40h1M6 41h1M5 42h1M3 43h2M2 44h1M0 45h2"/>
<path stroke="#3e9bfe" d="M139 20h2M115 21h3M90 22h2M75 23h2M63 24h1M48 25h1M51 25h1M31 26h2M25 27h1M24 28h1M22 29h1M21 30h1M19 31h2M18 32h1M16 33h2M15 34h1M14 35h1M12 36h1M11 37h1M9 38h1M8 39h1M6 40h2M5 41h1M4 42h1M2 43h1M1 44h1"/>
<path stroke="#3d9efe" d="M158 19h3M136 20h3M111 21h4M87 22h3M74 23h1M61 24h2M46 25h2M28 26h3M24 27h1M22 28h2M21 29h1M20 30h1M18 31h1M17 32h1M15 33h1M14 34h1M12 35h2M11 36h1M9 37h2M8 38h1M7 39h1M5 40h1M4 41h1M2 42h2M1 43h1M0 44h1"/>
<path stroke="#3ba0fd" d="M155 19h3M133 20h3M108 21h3M86 22h1M73 23h1M60 24h1M45 25h1M26 26h2M23 27h1M21 28h1M20 29h1M18 30h2M17 31h1M16 32h1M14 33h1M13 34h1M11 35h1M10 36h1M8 37h1M7 38h1M5 39h2M4 40h1M2 41h2M1 42h1M0 43h1"/>
<path stroke="#3aa3fc" d="M153 19h2M130 20h3M105 21h3M84 22h2M71 23h2M58 24h2M43 25h2M23 26h3M22 27h1M20 28h1M19 29h1M17 30h1M16 31h1M14 32h2M13 33h1M11 34h2M10 35h1M9 36h1M7 37h1M6 38h1M4 39h1M3 40h1M1 41h1M0 42h1"/>
<path stroke="#38a5fb" d="M150 19h3M127 20h3M102 21h3M82 22h2M70 23h1M57 24h1M41 25h2M22 26h1M20 27h2M19 28h1M18 29h1M16 30h1M15 31h1M13 32h1M12 33h1M10 34h1M9 35h1M7 36h2M6 37h1M4 38h2M3 39h1M1 40h2M0 41h1"/>
<path stroke="#37a8fa" d="M147 19h3M124 20h3M99 21h3M81 22h1M68 23h2M55 24h2M39 25h2M21 26h1M19 27h1M18 28h1M16 29h2M15 30h1M13 31h2M12 32h1M11 33h1M9 34h1M8 35h1M6 36h1M5 37h1M3 38h1M2 39h1M0 40h1"/>
<path stroke="#35abf8" d="M145 19h2M121 20h3M96 21h3M79 22h2M67 23h1M54 24h1M37 25h2M20 26h1M18 27h1M17 28h1M15 29h1M14 30h1M12 31h1M11 32h1M9 33h2M8 34h1M6 35h2M5 36h1M3 37h2M2 38h1M0 39h2"/>
<path stroke="#33adf7" d="M142 19h3M118 20h3M93 21h3M78 22h1M66 23h1M52 24h2M35 25h2M18 26h2M17 27h1M16 28h1M14 29h1M13 30h1M11 31h1M10 32h1M8 33h1M7 34h1M5 35h1M4 36h1M2 37h1M1 38h1"/>
<path stroke="#31aff5" d="M139 19h3M115 20h3M91 21h2M77 22h1M64 23h2M49 24h3M33 25h2M17 26h1M16 27h1M14 28h2M13 29h1M11 30h2M10 31h1M8 32h2M7 33h1M5 34h2M4 35h1M2 36h2M1 37h1M0 38h1"/>
<path stroke="#2fb2f4" d="M159 18h2M136 19h3M112 20h3M89 21h2M76 22h1M63 23h1M47 24h2M30 25h3M16 26h1M15 27h1M13 28h1M12 29h1M10 30h1M9 31h1M7 32h1M6 33h1M4 34h1M3 35h1M1 36h1M0 37h1"/>
<path stroke="#2eb4f2" d="M156 18h3M133 19h3M109 20h3M87 21h2M74 22h2M61 23h2M46 24h1M28 25h2M15 26h1M14 27h1M12 28h1M11 29h1M9 30h1M8 31h1M6 32h1M5 33h1M3 34h1M2 35h1M0 36h1"/>
<path stroke="#2cb7f0" d="M154 18h2M130 19h3M106 20h3M85 21h2M73 22h1M59 23h2M44 24h2M25 25h3M14 26h1M12 27h2M11 28h1M9 29h2M8 30h1M6 31h2M5 32h1M3 33h2M2 34h1M0 35h2"/>
<path stroke="#2ab9ee" d="M151 18h3M128 19h2M103 20h3M84 21h1M72 22h1M58 23h1M42 24h2M23 25h2M13 26h1M11 27h1M10 28h1M8 29h1M7 30h1M5 31h1M4 32h1M2 33h1M1 34h1"/>
<path stroke="#28bceb" d="M148 18h3M125 19h3M100 20h3M82 21h2M70 22h2M56 23h2M40 24h2M20 25h3M12 26h1M10 27h1M9 28h1M7 29h1M6 30h1M4 31h1M3 32h1M1 33h1M0 34h1"/>
<path stroke="#27bee9" d="M145 18h3M122 19h3M97 20h3M81 21h1M69 22h1M55 23h1M38 24h2M12 25h4M18 25h2M10 26h2M9 27h1M7 28h2M6 29h1M4 30h2M3 31h1M1 32h2M0 33h1"/>
<path stroke="#25c0e7" d="M142 18h3M119 19h3M95 20h2M80 21h1M67 22h2M53 23h2M36 24h2M11 25h1M16 25h2M9 26h1M8 27h1M6 28h1M5 29h1M3 30h1M2 31h1M0 32h1"/>
<path stroke="#23c3e4" d="M139 18h3M116 19h3M92 20h3M78 21h2M66 22h1M51 23h2M34 24h2M10 25h1M8 26h1M7 27h1M5 28h1M4 29h1M2 30h1M0 31h2"/>
<path stroke="#22c5e2" d="M160 17h1M136 18h3M112 19h4M90 20h2M77 21h1M64 22h2M49 23h2M32 24h2M9 25h1M7 26h1M5 27h2M4 28h1M2 29h2M1 30h1"/>
<path stroke="#20c7df" d="M157 17h3M133 18h3M109 19h3M88 20h2M75 21h2M62 22h2M47 23h2M29 24h3M7 25h2M6 26h1M4 27h1M3 28h1M1 29h1M0 30h1"/>
<path stroke="#1fc9dd" d="M153 17h4M130 18h3M106 19h3M86 20h2M74 21h1M60 22h2M45 23h2M26 24h3M6 25h1M5 26h1M3 27h1M2 28h1M0 29h1"/>
<path stroke="#1ecbda" d="M150 17h3M127 18h3M102 19h4M84 20h2M72 21h2M59 22h1M43 23h2M24 24h2M5 25h1M4 26h1M2 27h1M0 28h2"/>
<path stroke="#1ccdd8" d="M147 17h3M123 18h4M99 19h3M83 20h1M71 21h1M57 22h2M41 23h2M21 24h3M4 25h1M2 26h2M1 27h1"/>
<path stroke="#1bd0d5" d="M143 17h4M120 18h3M96 19h3M81 20h2M69 21h2M55 22h2M38 23h3M13 24h3M19 24h2M3 25h1M1 26h1M0 27h1"/>
<path stroke="#1ad2d2" d="M140 17h3M117 18h3M94 19h2M80 20h1M68 21h1M53 22h2M36 23h2M3 24h10M17 24h2M2 25h1M0 26h1"/>
<path stroke="#1ad4d0" d="M137 17h3M113 18h4M91 19h3M78 20h2M66 21h2M51 22h2M33 23h3M2 24h1M16 24h1M1 25h1"/>
<path stroke="#19d5cd" d="M157 16h4M134 17h3M110 18h3M89 19h2M77 20h1M64 21h2M49 22h2M31 23h2M1 24h1M0 25h1"/>
<path stroke="#18d7ca" d="M154 16h3M131 17h3M107 18h3M87 19h2M75 20h2M62 21h2M47 22h2M28 23h3M0 24h1"/>
<path stroke="#18d9c8" d="M151 16h3M127 17h4M103 18h4M85 19h2M74 20h1M61 21h1M45 22h2M26 23h2"/>
<path stroke="#18dbc5" d="M147 16h4M124 17h3M100 18h3M84 19h1M73 20h1M59 21h2M42 22h3M23 23h3"/>
<path stroke="#18ddc2" d="M144 16h3M121 17h3M97 18h3M82 19h2M71 20h2M57 21h2M40 22h2M21 23h2"/>
<path stroke="#18dec0" d="M141 16h3M118 17h3M95 18h2M81 19h1M69 20h2M55 21h2M38 22h2M14 23h2M18 23h3"/>
<path stroke="#18e0bd" d="M138 16h3M114 17h4M92 18h3M79 19h2M68 20h1M53 21h2M35 22h3M10 23h4M16 23h2"/>
<path stroke="#19e2bb" d="M158 15h3M135 16h3M111 17h3M90 18h2M78 19h1M66 20h2M51 21h2M33 22h2M4 23h6"/>
<path stroke="#19e3b9" d="M154 15h4M131 16h4M108 17h3M88 18h2M77 19h1M64 20h2M49 21h2M30 22h3M0 23h4"/>
<path stroke="#1ae4b6" d="M151 15h3M128 16h3M104 17h4M86 18h2M75 19h2M63 20h1M46 21h3M28 22h2"/>
<path stroke="#1ce6b4" d="M148 15h3M125 16h3M101 17h3M85 18h1M74 19h1M61 20h2M44 21h2M25 22h3"/>
<path stroke="#1de7b2" d="M145 15h3M122 16h3M98 17h3M83 18h2M73 19h1M59 20h2M42 21h2M23 22h2"/>
<path stroke="#1fe9af" d="M142 15h3M119 16h3M96 17h2M82 18h1M71 19h2M57 20h2M40 21h2M20 22h3"/>
<path stroke="#20eaac" d="M138 15h4M115 16h4M93 17h3M80 18h2M70 19h1M55 20h2M37 21h3M15 22h1M17 22h3"/>
<path stroke="#22ebaa" d="M158 14h3M135 15h3M112 16h3M91 17h2M79 18h1M68 19h2M53 20h2M35 21h2M12 22h3M16 22h1"/>
<path stroke="#25eca7" d="M155 14h3M132 15h3M109 16h3M89 17h2M78 18h1M66 19h2M51 20h2M32 21h3M8 22h4"/>
<path stroke="#27eea4" d="M152 14h3M129 15h3M105 16h4M87 17h2M77 18h1M65 19h1M48 20h3M30 21h2M4 22h4"/>
<path stroke="#2aefa1" d="M149 14h3M126 15h3M102 16h3M86 17h1M75 18h2M63 19h2M46 20h2M27 21h3M0 22h4"/>
<path stroke="#2cf09e" d="M145 14h4M123 15h3M99 16h3M84 17h2M74 18h1M61 19h2M44 20h2M24 21h3"/>
<path stroke="#2ff19b" d="M142 14h3M120 15h3M96 16h3M83 17h1M73 18h1M59 19h2M41 20h3M22 21h2"/>
<path stroke="#32f298" d="M139 14h3M116 15h4M94 16h2M82 17h1M71 18h2M57 19h2M39 20h2M19 21h3"/>
<path stroke="#35f394" d="M159 13h2M136 14h3M113 15h3M92 16h2M80 17h2M70 18h1M55 19h2M37 20h2M16 21h3"/>
<path stroke="#38f491" d="M156 13h3M133 14h3M109 15h4M90 16h2M79 17h1M68 18h2M53 19h2M34 20h3M13 21h3"/>
<path stroke="#3cf58e" d="M152 13h4M130 14h3M106 15h3M88 16h2M78 17h1M67 18h1M50 19h3M32 20h2M10 21h3"/>
<path stroke="#3ff68a" d="M149 13h3M127 14h3M103 15h3M87 16h1M76 17h2M65 18h2M48 19h2M29 20h3M7 21h3"/>
<path stroke="#43f787" d="M146 13h3M124 14h3M100 15h3M85 16h2M75 17h1M63 18h2M46 19h2M26 20h3M4 21h3"/>
<path stroke="#46f884" d="M143 13h3M120 14h4M97 15h3M84 16h1M74 17h1M61 18h2M43 19h3M24 20h2M1 21h3"/>
<path stroke="#4af880" d="M139 13h4M117 14h3M95 15h2M82 16h2M72 17h2M59 18h2M41 19h2M21 20h3M0 21h1"/>
<path stroke="#4ef97d" d="M158 12h3M136 13h3M113 14h4M92 15h3M81 16h1M71 17h1M56 18h3M38 19h3M18 20h3"/>
<path stroke="#52fa7a" d="M155 12h3M132 13h4M110 14h3M90 15h2M79 16h2M69 17h2M54 18h2M35 19h3M15 20h3"/>
<path stroke="#55fa76" d="M151 12h4M129 13h3M106 14h4M88 15h2M78 16h1M67 17h2M51 18h3M32 19h3M12 20h3"/>
<path stroke="#59fb73" d="M148 12h3M126 13h3M103 14h3M87 15h1M76 16h2M65 17h2M49 18h2M30 19h2M8 20h4"/>
<path stroke="#5dfc6f" d="M144 12h4M122 13h4M100 14h3M85 15h2M75 16h1M63 17h2M46 18h3M27 19h3M5 20h3"/>
<path stroke="#61fc6c" d="M141 12h3M119 13h3M98 14h2M84 15h1M74 16h1M61 17h2M43 18h3M24 19h3M2 20h3"/>
<path stroke="#65fd69" d="M160 11h1M137 12h4M116 13h3M95 14h3M82 15h2M72 16h2M59 17h2M41 18h2M21 19h3M0 20h2"/>
<path stroke="#69fd66" d="M156 11h4M134 12h3M112 13h4M93 14h2M80 15h2M71 16h1M56 17h3M38 18h3M18 19h3"/>
<path stroke="#6dfe62" d="M153 11h3M131 12h3M109 13h3M90 14h3M79 15h1M69 16h2M54 17h2M35 18h3M15 19h3"/>
<path stroke="#71fe5f" d="M149 11h4M127 12h4M106 13h3M88 14h2M78 15h1M67 16h2M51 17h3M33 18h2M12 19h3"/>
<path stroke="#75fe5c" d="M146 11h3M124 12h3M103 13h3M87 14h1M76 15h2M65 16h2M49 17h2M30 18h3M9 19h3"/>
<path stroke="#79fe59" d="M142 11h4M121 12h3M100 13h3M85 14h2M75 15h1M63 16h2M46 17h3M27 18h3M6 19h3"/>
<path stroke="#7dff56" d="M139 11h3M118 12h3M98 13h2M83 14h2M74 15h1M61 16h2M43 17h3M24 18h3M3 19h3"/>
<path stroke="#80ff53" d="M158 10h3M136 11h3M115 12h3M95 13h3M82 14h1M72 15h2M59 16h2M41 17h2M21 18h3M0 19h3"/>
<path stroke="#84ff51" d="M154 10h4M132 11h4M112 12h3M93 13h2M80 14h2M71 15h1M56 16h3M38 17h3M18 18h3"/>
<path stroke="#88ff4e" d="M150 10h4M129 11h3M109 12h3M91 13h2M79 14h1M69 15h2M54 16h2M35 17h3M16 18h2"/>
<path stroke="#8bff4b" d="M147 10h3M126 11h3M106 12h3M89 13h2M77 14h2M67 15h2M51 16h3M33 17h2M13 18h3"/>
<path stroke="#8fff49" d="M144 10h3M123 11h3M103 12h3M87 13h2M76 14h1M65 15h2M49 16h2M30 17h3M10 18h3"/>
<path stroke="#92ff47" d="M140 10h4M120 11h3M100 12h3M85 13h2M75 14h1M63 15h2M46 16h3M27 17h3M7 18h3"/>
<path stroke="#96fe44" d="M159 9h2M137 10h3M117 11h3M98 12h2M83 13h2M73 14h2M61 15h2M43 16h3M24 17h3M3 18h4"/>
<path stroke="#99fe42" d="M155 9h4M134 10h3M114 11h3M95 12h3M81 13h2M72 14h1M59 15h2M41 16h2M22 17h2M0 18h3"/>
<path stroke="#9cfe40" d="M152 9h3M131 10h3M111 11h3M93 12h2M80 13h1M71 14h1M57 15h2M38 16h3M19 17h3"/>
<path stroke="#9ffd3f" d="M148 9h4M128 10h3M108 11h3M91 12h2M78 13h2M69 14h2M54 15h3M35 16h3M16 17h3"/>
<path stroke="#a1fd3d" d="M145 9h3M125 10h3M106 11h2M89 12h2M77 13h1M67 14h2M51 15h3M33 16h2M13 17h3"/>
<path stroke="#a4fc3c" d="M142 9h3M122 10h3M103 11h3M87 12h2M76 13h1M65 14h2M49 15h2M30 16h3M10 17h3"/>
<path stroke="#a7fc3a" d="M160 8h1M139 9h3M119 10h3M100 11h3M85 12h2M75 13h1M63 14h2M46 15h3M27 16h3M7 17h3"/>
<path stroke="#a9fb39" d="M157 8h3M135 9h4M116 10h3M98 11h2M83 12h2M73 13h2M61 14h2M43 15h3M25 16h2M4 17h3"/>
<path stroke="#acfb38" d="M153 8h4M132 9h3M113 10h3M96 11h2M81 12h2M72 13h1M59 14h2M41 15h2M22 16h3M1 17h3"/>
<path stroke="#affa37" d="M150 8h3M129 9h3M110 10h3M93 11h3M79 12h2M71 13h1M57 14h2M38 15h3M19 16h3M0 17h1"/>
<path stroke="#b1f936" d="M146 8h4M126 9h3M108 10h2M91 11h2M78 12h1M69 13h2M54 14h3M36 15h2M16 16h3"/>
<path stroke="#b4f836" d="M143 8h3M123 9h3M105 10h3M89 11h2M77 12h1M67 13h2M51 14h3M33 15h3M14 16h2"/>
<path stroke="#b7f735" d="M140 8h3M120 9h3M103 10h2M86 11h3M76 12h1M66 13h1M49 14h2M30 15h3M11 16h3"/>
<path stroke="#b9f635" d="M158 7h3M137 8h3M118 9h2M100 10h3M84 11h2M74 12h2M63 13h3M46 14h3M28 15h2M8 16h3"/>
<path stroke="#bcf534" d="M154 7h4M134 8h3M115 9h3M98 10h2M82 11h2M73 12h1M61 13h2M43 14h3M25 15h3M4 16h4"/>
<path stroke="#bef434" d="M151 7h3M131 8h3M112 9h3M95 10h3M81 11h1M72 12h1M59 13h2M40 14h3M22 15h3M1 16h3"/>
<path stroke="#c1f334" d="M147 7h4M127 8h4M109 9h3M93 10h2M79 11h2M70 12h2M56 13h3M38 14h2M19 15h3M0 16h1"/>
<path stroke="#c3f134" d="M144 7h3M125 8h2M107 9h2M90 10h3M78 11h1M68 12h2M53 13h3M35 14h3M16 15h3"/>
<path stroke="#c6f034" d="M141 7h3M122 8h3M104 9h3M88 10h2M76 11h2M66 12h2M50 13h3M32 14h3M13 15h3"/>
<path stroke="#c8ef34" d="M158 6h3M138 7h3M119 8h3M102 9h2M85 10h3M75 11h1M64 12h2M48 13h2M29 14h3M10 15h3"/>
<path stroke="#cbed34" d="M154 6h4M134 7h4M116 8h3M99 9h3M83 10h2M74 11h1M62 12h2M45 13h3M26 14h3M6 15h4"/>
<path stroke="#cdec34" d="M151 6h3M131 7h3M113 8h3M97 9h2M81 10h2M72 11h2M60 12h2M42 13h3M24 14h2M3 15h3"/>
<path stroke="#d0ea34" d="M148 6h3M128 7h3M111 8h2M94 9h3M80 10h1M71 11h1M57 12h3M39 13h3M21 14h3M0 15h3"/>
<path stroke="#d2e935" d="M144 6h4M126 7h2M108 8h3M92 9h2M78 10h2M69 11h2M54 12h3M37 13h2M18 14h3"/>
<path stroke="#d4e735" d="M141 6h3M123 7h3M105 8h3M89 9h3M77 10h1M67 11h2M52 12h2M34 13h3M15 14h3"/>
<path stroke="#d7e535" d="M158 5h3M138 6h3M120 7h3M103 8h2M87 9h2M76 10h1M65 11h2M49 12h3M31 13h3M11 14h4"/>
<path stroke="#d9e436" d="M154 5h4M135 6h3M117 7h3M100 8h3M85 9h2M74 10h2M63 11h2M46 12h3M28 13h3M8 14h3"/>
<path stroke="#dbe236" d="M151 5h3M132 6h3M114 7h3M98 8h2M83 9h2M73 10h1M61 11h2M44 12h2M25 13h3M5 14h3"/>
<path stroke="#dde037" d="M148 5h3M129 6h3M112 7h2M95 8h3M81 9h2M71 10h2M58 11h3M41 12h3M22 13h3M2 14h3"/>
<path stroke="#dfdf37" d="M145 5h3M127 6h2M109 7h3M93 8h2M79 9h2M70 10h1M56 11h2M38 12h3M20 13h2M0 14h2"/>
<path stroke="#e1dd37" d="M142 5h3M124 6h3M106 7h3M90 8h3M78 9h1M68 10h2M53 11h3M35 12h3M16 13h4"/>
<path stroke="#e3db38" d="M158 4h3M139 5h3M121 6h3M104 7h2M88 8h2M76 9h2M66 10h2M50 11h3M33 12h2M13 13h3"/>
<path stroke="#e5d938" d="M154 4h4M136 5h3M118 6h3M101 7h3M86 8h2M75 9h1M64 10h2M48 11h2M30 12h3M10 13h3"/>
<path stroke="#e7d739" d="M151 4h3M133 5h3M116 6h2M99 7h2M84 8h2M74 9h1M62 10h2M45 11h3M27 12h3M7 13h3"/>
<path stroke="#e9d539" d="M148 4h3M130 5h3M113 6h3M96 7h3M82 8h2M72 9h2M59 10h3M42 11h3M24 12h3M4 13h3"/>
<path stroke="#ebd339" d="M145 4h3M128 5h2M110 6h3M94 7h2M80 8h2M71 9h1M57 10h2M40 11h2M21 12h3M0 13h4"/>
<path stroke="#ecd13a" d="M142 4h3M125 5h3M108 6h2M92 7h2M79 8h1M69 9h2M54 10h3M37 11h3M18 12h3"/>
<path stroke="#eecf3a" d="M157 3h4M140 4h2M122 5h3M105 6h3M89 7h3M77 8h2M67 9h2M52 10h2M34 11h3M15 12h3"/>
<path stroke="#efcd3a" d="M154 3h3M137 4h3M119 5h3M102 6h3M87 7h2M76 8h1M65 9h2M49 10h3M32 11h2M12 12h3"/>
<path stroke="#f1cb3a" d="M151 3h3M134 4h3M117 5h2M100 6h2M85 7h2M74 8h2M63 9h2M47 10h2M29 11h3M9 12h3"/>
<path stroke="#f2c93a" d="M149 3h2M131 4h3M114 5h3M97 6h3M83 7h2M73 8h1M60 9h3M44 10h3M26 11h3M6 12h3"/>
<path stroke="#f4c73a" d="M146 3h3M128 4h3M111 5h3M95 6h2M81 7h2M71 8h2M58 9h2M41 10h3M23 11h3M2 12h4"/>
<path stroke="#f5c53a" d="M160 2h1M143 3h3M126 4h2M109 5h2M93 6h2M79 7h2M69 8h2M56 9h2M39 10h2M20 11h3M0 12h2"/>
<path stroke="#f6c33a" d="M157 2h3M140 3h3M123 4h3M106 5h3M90 6h3M78 7h1M68 8h1M53 9h3M36 10h3M17 11h3"/>
<path stroke="#f7c13a" d="M154 2h3M137 3h3M120 4h3M103 5h3M88 6h2M76 7h2M66 8h2M51 9h2M33 10h3M14 11h3"/>
<path stroke="#f8be39" d="M152 2h2M135 3h2M118 4h2M101 5h2M86 6h2M75 7h1M63 8h3M48 9h3M31 10h2M11 11h3"/>
<path stroke="#f9bc39" d="M149 2h3M132 3h3M115 4h3M99 5h2M84 6h2M73 7h2M61 8h2M45 9h3M28 10h3M8 11h3"/>
<path stroke="#faba39" d="M146 2h3M129 3h3M112 4h3M96 5h3M82 6h2M72 7h1M59 8h2M43 9h2M25 10h3M4 11h4"/>
<path stroke="#fbb838" d="M160 1h1M143 2h3M126 3h3M109 4h3M93 5h3M80 6h2M70 7h2M56 8h3M40 9h3M22 10h3M0 11h4"/>
<path stroke="#fbb637" d="M157 1h3M140 2h3M123 3h3M107 4h2M91 5h2M78 6h2M68 7h2M54 8h2M37 9h3M19 10h3"/>
<path stroke="#fcb336" d="M154 1h3M137 2h3M121 3h2M104 4h3M89 5h2M77 6h1M66 7h2M51 8h3M34 9h3M15 10h4"/>
<path stroke="#fcb136" d="M151 1h3M134 2h3M118 3h3M101 4h3M86 5h3M75 6h2M64 7h2M49 8h2M31 9h3M12 10h3"/>
<path stroke="#fdae35" d="M148 1h3M132 2h2M115 3h3M98 4h3M84 5h2M74 6h1M61 7h3M46 8h3M29 9h2M9 10h3"/>
<path stroke="#fdac34" d="M145 1h3M129 2h3M112 3h3M96 4h2M82 5h2M72 6h2M59 7h2M43 8h3M26 9h3M5 10h4"/>
<path stroke="#fea933" d="M159 0h2M142 1h3M126 2h3M109 3h3M93 4h3M80 5h2M70 6h2M57 7h2M41 8h2M23 9h3M1 10h4"/>
<path stroke="#fea732" d="M156 0h3M139 1h3M123 2h3M106 3h3M91 4h2M78 5h2M68 6h2M54 7h3M38 8h3M19 9h4M0 10h1"/>
<path stroke="#fea431" d="M153 0h3M137 1h2M120 2h3M104 3h2M88 4h3M77 5h1M66 6h2M52 7h2M35 8h3M16 9h3"/>
<path stroke="#fea130" d="M150 0h3M134 1h3M117 2h3M101 3h3M86 4h2M75 5h2M64 6h2M49 7h3M32 8h3M13 9h3"/>
<path stroke="#fe9e2f" d="M147 0h3M131 1h3M115 2h2M98 3h3M84 4h2M74 5h1M62 6h2M47 7h2M29 8h3M9 9h4"/>
<path stroke="#fe9b2d" d="M145 0h2M128 1h3M112 2h3M96 3h2M82 4h2M72 5h2M59 6h3M44 7h3M26 8h3M6 9h3"/>
<path stroke="#fe992c" d="M142 0h3M125 1h3M109 2h3M93 3h3M80 4h2M70 5h2M57 6h2M41 7h3M23 8h3M2 9h4"/>
<path stroke="#fe962b" d="M139 0h3M123 1h2M106 2h3M91 3h2M78 4h2M68 5h2M54 6h3M38 7h3M20 8h3M0 9h2"/>
<path stroke="#fe932a" d="M136 0h3M120 1h3M103 2h3M88 3h3M77 4h1M66 5h2M52 6h2M36 7h2M17 8h3"/>
<path stroke="#fe9029" d="M133 0h3M117 1h3M101 2h2M86 3h2M75 4h2M64 5h2M50 6h2M33 7h3M14 8h3"/>
<path stroke="#fd8d27" d="M130 0h3M114 1h3M98 2h3M84 3h2M74 4h1M62 5h2M47 6h3M30 7h3M10 8h4"/>
<path stroke="#fd8a26" d="M128 0h2M111 1h3M95 2h3M82 3h2M72 4h2M59 5h3M44 6h3M27 7h3M7 8h3"/>
<path stroke="#fc8725" d="M125 0h3M109 1h2M93 2h2M80 3h2M70 4h2M57 5h2M42 6h2M24 7h3M3 8h4"/>
<path stroke="#fc8423" d="M122 0h3M106 1h3M91 2h2M79 3h1M68 4h2M55 5h2M39 6h3M21 7h3M0 8h3"/>
<path stroke="#fb8122" d="M119 0h3M103 1h3M88 2h3M77 3h2M66 4h2M52 5h3M36 6h3M18 7h3"/>
<path stroke="#fb7e21" d="M117 0h2M100 1h3M86 2h2M75 3h2M64 4h2M50 5h2M33 6h3M14 7h4"/>
<path stroke="#fa7b1f" d="M114 0h3M98 1h2M84 2h2M74 3h1M62 4h2M47 5h3M30 6h3M11 7h3"/>
<path stroke="#f9781e" d="M111 0h3M95 1h3M82 2h2M72 3h2M60 4h2M45 5h2M28 6h2M7 7h4"/>
<path stroke="#f9751d" d="M108 0h3M93 1h2M80 2h2M70 3h2M57 4h3M42 5h3M25 6h3M4 7h3"/>
<path stroke="#f8721c" d="M106 0h2M90 1h3M79 2h1M68 3h2M55 4h2M39 5h3M22 6h3M0 7h4"/>
<path stroke="#f76f1a" d="M103 0h3M88 1h2M77 2h2M66 3h2M53 4h2M37 5h2M18 6h4"/>
<path stroke="#f66c19" d="M100 0h3M86 1h2M75 2h2M64 3h2M50 4h3M34 5h3M15 6h3"/>
<path stroke="#f56918" d="M98 0h2M84 1h2M74 2h1M62 3h2M48 4h2M31 5h3M12 6h3"/>
<path stroke="#f46617" d="M95 0h3M82 1h2M72 2h2M60 3h2M45 4h3M28 5h3M8 6h4"/>
<path stroke="#f36315" d="M93 0h2M80 1h2M70 2h2M58 3h2M43 4h2M25 5h3M4 6h4"/>
<path stroke="#f26014" d="M90 0h3M79 1h1M68 2h2M55 3h3M40 4h3M22 5h3M0 6h4"/>
<path stroke="#f15d13" d="M88 0h2M77 1h2M66 2h2M53 3h2M37 4h3M19 5h3"/>
<path stroke="#f05b12" d="M86 0h2M75 1h2M64 2h2M50 3h3M34 4h3M16 5h3"/>
<path stroke="#ef5811" d="M83 0h3M73 1h2M61 2h3M48 3h2M31 4h3M12 5h4"/>
<path stroke="#ed5510" d="M81 0h2M71 1h2M59 2h2M45 3h3M28 4h3M8 5h4"/>
<path stroke="#ec530f" d="M79 0h2M69 1h2M57 2h2M42 3h3M24 4h4M3 5h5"/>
<path stroke="#eb500e" d="M77 0h2M67 1h2M54 2h3M39 3h3M21 4h3M0 5h3"/>
<path stroke="#ea4e0d" d="M76 0h1M64 1h3M51 2h3M36 3h3M17 4h4"/>
<path stroke="#e84b0c" d="M74 0h2M62 1h2M49 2h2M32 3h4M13 4h4"/>
<path stroke="#e7490c" d="M72 0h2M60 1h2M46 2h3M29 3h3M9 4h4"/>
<path stroke="#e5470b" d="M69 0h3M57 1h3M43 2h3M26 3h3M5 4h4"/>
<path stroke="#e4450a" d="M67 0h2M55 1h2M40 2h3M22 3h4M0 4h5"/>
<path stroke="#e2430a" d="M65 0h2M52 1h3M37 2h3M19 3h3"/>
<path stroke="#e14109" d="M63 0h2M50 1h2M34 2h3M15 3h4"/>
<path stroke="#df3f08" d="M60 0h3M47 1h3M31 2h3M11 3h4"/>
<path stroke="#dd3d08" d="M58 0h2M44 1h3M27 2h4M7 3h4"/>
<path stroke="#dc3b07" d="M55 0h3M41 1h3M24 2h3M2 3h5"/>
<path stroke="#da3907" d="M53 0h2M38 1h3M20 2h4M0 3h2"/>
<path stroke="#d83706" d="M51 0h2M35 1h3M17 2h3"/>
<path stroke="#d63506" d="M48 0h3M32 1h3M13 2h4"/>
<path stroke="#d43305" d="M45 0h3M29 1h3M9 2h4"/>
<path stroke="#d23105" d="M42 0h3M25 1h4M4 2h5"/>
<path stroke="#d02f05" d="M39 0h3M22 1h3M0 2h4"/>
<path stroke="#ce2d04" d="M36 0h3M18 1h4"/>
<path stroke="#cc2b04" d="M33 0h3M15 1h3"/>
<path stroke="#ca2a04" d="M30 0h3M11 1h4"/>
<path stroke="#c82803" d="M27 0h3M6 1h5"/>
<path stroke="#c52603" d="M23 0h4M1 1h5"/>
<path stroke="#c32503" d="M20 0h3M0 1h1"/>
<path stroke="#c12302" d="M16 0h4"/>
<path stroke="#be2102" d="M12 0h4"/>
<path stroke="#bc2002" d="M8 0h4"/>
<path stroke="#b91e02" d="M3 0h5"/>
<path stroke="#b71d02" d="M0 0h3"/>
</g></g>
<g clip-path="url(#cb)">
<g fill="none" stroke="#3a3a3a" stroke-width="1.5" stroke-dasharray="10.8 4.3 2.4 4.3"><path d="M918.5 251.2L924 249.6L929.5 248.1L934.9 246.5L940.4 245.1L945.9 243.6L951.4 242.2L956.9 240.8L962.4 239.4L967.8 238L973.3 236.7L978.8 235.4L984.3 234.1L989.8 232.9L995.3 231.7L1000.7 230.4L1006.2 229.2L1011.7 228.1L1017.2 227L1022.7 225.9L1028.2 225L1033.6 224.1L1039.1 223.3L1044.6 222.6L1050.1 222L1055.6 221.3L1061.1 220.8L1066.5 220.2L1072 219.7L1077.5 219.2L1083 218.7L1088.5 218.2L1094 217.7L1099.4 217.3L1104.9 216.8L1110.4 216.3L1115.9 215.8L1121.4 215.3L1126.9 214.7L1132.3 214.2L1137.8 213.5L1143.3 212.9L1148.8 212.3L1154.3 211.6L1159.8 211L1165.2 210.3L1170.7 209.6L1176.2 208.9L1181.7 208.2L1187.2 207.5L1192.7 206.8L1198.1 206.1L1203.6 205.4L1209.1 204.6L1214.6 203.9L1220.1 203.1L1225.6 202.3L1231 201.6L1236.5 200.8L1242 200"/><path d="M836 230L842.9 229.1L849.8 228.1L856.6 227.1L863.5 226.2L870.4 225.1L877.3 224.1L884.2 223L891.1 222L897.9 220.9L904.8 219.8L911.7 218.6L918.6 217.5L925.5 216.3L932.3 215.1L939.2 213.9L946.1 212.6L953 211.4L959.9 210.1L966.7 208.8L973.6 207.4L980.5 206.1L987.4 204.7L994.3 203.3L1001.2 201.7L1008 200.1L1014.9 198.4L1021.8 196.8L1028.7 195.3L1035.6 193.9L1042.4 192.7L1049.3 191.6L1056.2 190.6L1063.1 189.7L1070 188.8L1076.8 187.9L1083.7 187.1L1090.6 186.3L1097.5 185.6L1104.4 184.8L1111.3 184.1L1118.1 183.3L1125 182.5L1131.9 181.7L1138.8 180.9L1145.7 180.1L1152.5 179.3L1159.4 178.5L1166.3 177.6L1173.2 176.8L1180.1 176L1186.9 175.2L1193.8 174.4L1200.7 173.6L1207.6 172.8L1214.5 172L1221.4 171.2L1228.2 170.3L1235.1 169.5L1242 168.8"/><path d="M796 200L803.6 199.2L811.1 198.3L818.7 197.4L826.2 196.5L833.8 195.6L841.4 194.6L848.9 193.7L856.5 192.7L864 191.7L871.6 190.6L879.2 189.6L886.7 188.5L894.3 187.4L901.8 186.3L909.4 185.2L916.9 184.1L924.5 183L932.1 181.9L939.6 180.7L947.2 179.5L954.7 178.3L962.3 177L969.9 175.7L977.4 174.2L985 172.7L992.5 171L1000.1 169L1007.7 166.9L1015.2 164.7L1022.8 162.7L1030.3 160.7L1037.9 158.6L1045.5 156.8L1053 155.5L1060.6 154.2L1068.1 153.1L1075.7 152.1L1083.3 151.1L1090.8 150.2L1098.4 149.3L1105.9 148.5L1113.5 147.6L1121.1 146.8L1128.6 145.9L1136.2 145L1143.7 144L1151.3 143.1L1158.8 142.1L1166.4 141.2L1174 140.3L1181.5 139.3L1189.1 138.4L1196.6 137.5L1204.2 136.6L1211.8 135.6L1219.3 134.7L1226.9 133.8L1234.4 132.9L1242 132"/><path d="M796 163.7L803.6 162.8L811.1 161.8L818.7 160.8L826.2 159.8L833.8 158.8L841.4 157.7L848.9 156.7L856.5 155.6L864 154.5L871.6 153.4L879.2 152.3L886.7 151.2L894.3 150L901.8 148.9L909.4 147.7L916.9 146.6L924.5 145.5L932.1 144.4L939.6 143.2L947.2 142.1L954.7 140.9L962.3 139.6L969.9 138.3L977.4 136.8L985 135.2L992.5 133.3L1000.1 130.9L1007.7 128.4L1015.2 126L1022.8 123.9L1030.3 122.3L1037.9 120.9L1045.5 119.7L1053 118.4L1060.6 117.1L1068.1 115.9L1075.7 114.6L1083.3 113.3L1090.8 112.1L1098.4 110.8L1105.9 109.6L1113.5 108.4L1121.1 107.3L1128.6 106.1L1136.2 105L1143.7 103.9L1151.3 102.8L1158.8 101.7L1166.4 100.6L1174 99.6L1181.5 98.5L1189.1 97.5L1196.6 96.5L1204.2 95.5L1211.8 94.5L1219.3 93.5L1226.9 92.6L1234.4 91.7L1242 90.7"/><path d="M796 123.8L803.6 122.9L811.1 121.9L818.7 121L826.2 120L833.8 119L841.4 118L848.9 116.9L856.5 115.8L864 114.7L871.6 113.6L879.2 112.5L886.7 111.3L894.3 110.2L901.8 109L909.4 107.8L916.9 106.5L924.5 105.3L932.1 104L939.6 102.8L947.2 101.4L954.7 100.1L962.3 98.6L969.9 97.2L977.4 95.6L985 94L992.5 92.2L1000.1 90.1L1007.7 87.9L1015.2 85.8L1022.8 83.9L1030.3 82.3L1037.9 80.7L1045.5 79.2L1053 77.8L1060.6 76.4L1068.1 75.1L1075.7 73.7L1083.3 72.4L1090.8 71.1L1098.4 69.9L1105.9 68.7L1113.5 67.4L1121.1 66.2L1128.6 65L1136.2 63.7L1143.7 62.5L1151.3 61.2L1158.8 60L1166.4 58.7L1174 57.5L1181.5 56.2L1189.1 55L1196.6 53.7L1204.2 52.5L1211.8 51.2L1219.3 50L1226.9 48.7L1234.4 47.5L1242 46.2"/><path d="M796 81.2L800 80.8L804.1 80.4L808.1 79.9L812.1 79.4L816.1 79L820.2 78.5L824.2 78L828.2 77.5L832.2 76.9L836.3 76.4L840.3 75.9L844.3 75.3L848.3 74.7L852.4 74.2L856.4 73.6L860.4 73L864.4 72.4L868.5 71.8L872.5 71.2L876.5 70.6L880.5 69.9L884.6 69.3L888.6 68.7L892.6 68L896.6 67.4L900.7 66.7L904.7 66.1L908.7 65.4L912.7 64.7L916.8 64L920.8 63.3L924.8 62.6L928.8 61.9L932.9 61.1L936.9 60.4L940.9 59.6L944.9 58.8L949 58L953 57.2L957 56.3L961 55.5L965.1 54.6L969.1 53.8L973.1 52.9L977.1 52L981.2 51.1L985.2 50.2L989.2 49.3L993.2 48.3L997.3 47.3L1001.3 46.3L1005.3 45.3L1009.3 44.2L1013.4 43.1L1017.4 42L1021.4 40.9L1025.4 39.8L1029.5 38.7L1033.5 37.5"/><path d="M918.5 251.25L912.25 256.25L906 267.5L894.75 291L835 424"/><path d="M836 230L823.5 233.75L816 237.5L809.75 246.25L806 255L796 273.75"/></g>
<g fill="none" stroke="#fff"><path stroke-width="2.9" stroke-dasharray="14.2 7.8" d="M796 219.8L801.6 221.8L807.3 223.7L812.9 225.6L818.6 227.4L824.2 229.1L829.9 230.7L835.5 232.3L841.2 233.7L846.8 235.1L852.5 236.4L858.1 237.6L863.8 238.8L869.4 239.9L875.1 241L880.7 242.1L886.4 243.1L892 244L897.7 244.9L903.3 245.7L909 246.5L914.6 247.2L920.3 247.9L925.9 248.6L931.6 249.3L937.2 249.9L942.9 250.5L948.5 251L954.2 251.5L959.8 252L965.5 252.5L971.1 252.9L976.8 253.3L982.4 253.7L988.1 254L993.7 254.4L999.4 254.6L1005 254.9L1010.7 255.1L1016.3 255.2L1022 255.4L1027.6 255.5L1033.3 255.6L1038.9 255.6L1044.6 255.6L1050.2 255.5L1055.9 255.2L1061.5 254.9L1067.2 254.6L1072.8 254.2L1078.5 253.7L1084.1 253.3L1089.8 252.9L1095.4 252.3L1101.1 251.7L1106.7 251.1L1112.4 250.3L1118 249.6L1123.7 248.8L1129.3 247.9L1135 247.1L1140.6 246.3L1146.3 245.4L1151.9 244.5L1157.6 243.5L1163.2 242.5L1168.9 241.5L1174.5 240.4L1180.2 239.4L1185.8 238.3L1191.5 237.2L1197.1 236.1L1202.8 234.9L1208.4 233.7L1214.1 232.5L1219.7 231.3L1225.4 230L1231 228.7L1236.7 227.4L1242.3 226.1"/><path stroke-width="2.9" stroke-dasharray="14.2 7.8" stroke-dashoffset="7.7" d="M1011.64 255.11L941.6 423.9"/><path stroke-width="2.9" stroke-dasharray="14.2 7.8" d="M1041.46 255.61V423.9"/></g>
<path d="M1030.4 253.1L1031.2 248.7L1032 244.3L1032.8 240L1033.5 235.7L1034.3 231.5L1035.1 227.3L1035.9 223.2L1036.7 219.2L1037.5 215.2L1038.3 211.2L1039 207.4L1039.8 203.6L1040.6 199.9L1041.4 196.2L1042.2 192.6L1043 189.1L1043.7 185.6L1044.5 182.2L1045.3 178.7L1046.1 175.4L1046.9 172L1047.7 168.6L1048.4 165.3L1049.2 161.9L1050 158.7L1050.8 155.4L1051.6 152.2L1052.4 149.1L1053.2 145.9L1053.9 142.8L1054.7 139.6L1055.5 136.4L1056.3 133.2L1057.1 129.9L1057.9 126.6L1058.6 123.2L1059.4 119.7L1060.2 116.2L1061 112.5L1061.8 108.9L1062.6 105.2L1063.4 101.4L1064.1 97.6L1064.9 93.9L1065.7 90.1L1066.5 86.3L1067.3 82.5L1068.1 78.8L1068.8 75L1069.6 71.2L1070.4 67.4L1071.2 63.6L1072 59.8L1072.8 56L1073.6 52.2L1074.3 48.4L1075.1 44.5L1075.9 40.7L1076.7 36.8" fill="none" stroke="#000" stroke-width="3.3" stroke-dasharray="13.8 8.3"/>
</g>
<g stroke="#262626" stroke-width="2.2" fill="none"><path d="M851.79 423.9v-4.5 M851.79 36.7v4.5M963.36 423.9v-4.5 M963.36 36.7v4.5M1074.94 423.9v-4.5 M1074.94 36.7v4.5M1186.51 423.9v-4.5 M1186.51 36.7v4.5M796 294.83h4.5 M1242.3 294.83h-4.5M796 165.77h4.5 M1242.3 165.77h-4.5"/><rect x="796" y="36.7" width="446.3" height="387.2"/></g>
<text x="851.79" y="460.9" font-size="25.33" text-anchor="middle">0.2</text><text x="963.36" y="460.9" font-size="25.33" text-anchor="middle">0.4</text><text x="1074.94" y="460.9" font-size="25.33" text-anchor="middle">0.6</text><text x="1186.51" y="460.9" font-size="25.33" text-anchor="middle">0.8</text><text x="785.5" y="435.9" font-size="25.33" text-anchor="end">0.75</text><text x="785.5" y="306.83" font-size="25.33" text-anchor="end">0.8</text><text x="785.5" y="177.77" font-size="25.33" text-anchor="end">0.85</text><text x="785.5" y="48.7" font-size="25.33" text-anchor="end">0.9</text><g transform="translate(975.05 502.75)"><text x="0" y="0" font-size="30">V</text><text x="20.96" y="12.6" font-size="23.1">G</text><text x="47.56" y="0" font-size="30">(V)</text></g><g transform="translate(712.1 272.7) rotate(-90)"><text x="0" y="0" font-size="30">V</text><text x="21.11" y="12" font-size="23.1">B</text><text x="45.55" y="0" font-size="30">(V)</text></g>
<linearGradient id="gtb" x1="0" y1="1" x2="0" y2="0"><stop offset="0" stop-color="#30123b"/><stop offset="0.042" stop-color="#3b2f80"/><stop offset="0.083" stop-color="#434eba"/><stop offset="0.125" stop-color="#466be3"/><stop offset="0.167" stop-color="#4685fa"/><stop offset="0.208" stop-color="#3ba0fd"/><stop offset="0.25" stop-color="#28bceb"/><stop offset="0.292" stop-color="#1ad2d2"/><stop offset="0.333" stop-color="#1ae4b6"/><stop offset="0.375" stop-color="#32f298"/><stop offset="0.417" stop-color="#55fa76"/><stop offset="0.458" stop-color="#80ff53"/><stop offset="0.5" stop-color="#a4fc3c"/><stop offset="0.542" stop-color="#bef434"/><stop offset="0.583" stop-color="#d9e436"/><stop offset="0.625" stop-color="#eecf3a"/><stop offset="0.667" stop-color="#faba39"/><stop offset="0.708" stop-color="#fe9e2f"/><stop offset="0.75" stop-color="#fb7e21"/><stop offset="0.792" stop-color="#f26014"/><stop offset="0.833" stop-color="#e4450a"/><stop offset="0.875" stop-color="#d02f05"/><stop offset="0.917" stop-color="#b91e02"/><stop offset="0.958" stop-color="#9b0f01"/><stop offset="1" stop-color="#7a0403"/></linearGradient><rect x="1259.5" y="179" width="28.1" height="245.1" fill="url(#gtb)" stroke="#2e2e2e" stroke-width="1.2"/><text x="1298.6" y="434.6" font-size="21.3">0</text><text x="1298.6" y="352.9" font-size="21.3">0.5</text><text x="1298.6" y="271.2" font-size="21.3">1</text><text x="1298.6" y="189.5" font-size="21.3">1.5</text><path d="M1287.6 424.1h-3M1287.6 342.4h-3M1287.6 260.7h-3M1287.6 179h-3" stroke="#262626" stroke-width="1" fill="none"/>
<g transform="translate(1280.6 170.3) rotate(-90)"><text x="0" y="0" font-size="23.4">n</text><text x="13.48" y="10.76" font-size="18.72">h</text><text x="32.38" y="0" font-size="23.4">(10</text><text x="66.67" y="-11" font-size="18.72">12</text><text x="95.98" y="0" font-size="23.4">cm</text><text x="127.64" y="-11" font-size="18.72">-2</text><text x="146.28" y="0" font-size="23.4">)</text></g>
<g clip-path="url(#cc)" shape-rendering="crispEdges"><rect x="1482" y="38" width="492" height="387.1" fill="#ffff00"/><path d="M1482 425.1L1482 228.75L1520.44 228.75L1520.44 236.49L1560.41 236.49L1560.41 244.23L1606.54 244.23L1606.54 251.98L1649.59 251.98L1649.59 259.72L1698.79 259.72L1698.79 267.46L1775.66 267.46L1775.66 259.72L1827.94 259.72L1827.94 251.98L1880.21 251.98L1880.21 244.23L1935.56 244.23L1935.56 236.49L1974 236.49L1974 425.1Z" fill="#000"/><path d="M1482 425.1L1482 228.75L1520.44 228.75L1520.44 236.49L1560.41 236.49L1560.41 244.23L1606.54 244.23L1606.54 251.98L1649.59 251.98L1649.59 259.72L1698.79 259.72L1698.79 267.46L1723.39 267.46L1720.31 267.46L1720.31 275.2L1717.24 275.2L1717.24 282.94L1714.16 282.94L1714.16 290.69L1711.09 290.69L1711.09 298.43L1708.01 298.43L1708.01 306.17L1704.94 306.17L1704.94 313.91L1701.86 313.91L1701.86 321.65L1695.71 321.65L1695.71 329.4L1692.64 329.4L1692.64 337.14L1689.56 337.14L1689.56 344.88L1686.49 344.88L1686.49 352.62L1683.41 352.62L1683.41 360.36L1680.34 360.36L1680.34 368.11L1677.26 368.11L1677.26 375.85L1674.19 375.85L1674.19 383.59L1668.04 383.59L1668.04 391.33L1664.96 391.33L1664.96 399.07L1661.89 399.07L1661.89 406.82L1658.81 406.82L1658.81 414.56L1655.74 414.56L1655.74 422.3L1652.66 422.3L1652.66 425.1Z" fill="#00ff00"/><path d="M1974 425.1L1974 236.49L1935.56 236.49L1935.56 244.23L1880.21 244.23L1880.21 251.98L1827.94 251.98L1827.94 259.72L1775.66 259.72L1775.66 267.46L1741.84 267.46L1741.84 267.46L1741.84 275.2L1741.84 275.2L1741.84 282.94L1741.84 282.94L1741.84 290.69L1741.84 290.69L1741.84 298.43L1741.84 298.43L1741.84 306.17L1744.91 306.17L1744.91 313.91L1744.91 313.91L1744.91 321.65L1744.91 321.65L1744.91 329.4L1744.91 329.4L1744.91 337.14L1744.91 337.14L1744.91 344.88L1744.91 344.88L1744.91 352.62L1744.91 352.62L1744.91 360.36L1744.91 360.36L1744.91 368.11L1747.99 368.11L1747.99 375.85L1747.99 375.85L1747.99 383.59L1747.99 383.59L1747.99 391.33L1747.99 391.33L1747.99 399.07L1747.99 399.07L1747.99 406.82L1747.99 406.82L1747.99 414.56L1747.99 414.56L1747.99 422.3L1747.99 422.3L1747.99 425.1Z" fill="#ff0000"/></g><rect x="1695.3" y="118.5" width="70.6" height="69.4" rx="11" ry="11" fill="#fff" fill-opacity="0.9" stroke="#7a7a7a" stroke-width="1.1"/><path d="M1703.2 126.8Q1715.3 156.8 1727.4 126.8" fill="none" stroke="#a9c867" stroke-width="2.1"/><path d="M1707.83 154.1L1709.19 152.25L1710.55 150.77L1711.91 149.66L1713.26 148.92L1714.62 148.55L1715.98 148.55L1717.34 148.92L1718.69 149.66L1720.05 150.77L1721.41 152.25L1722.77 154.1Z" fill="#a9c867" fill-opacity="0.45" stroke="none"/><path d="M1703.2 163.2Q1715.3 133.8 1727.4 163.2" fill="none" stroke="#a9c867" stroke-width="2.1"/><path d="M1738.4 154.1L1739.8 156.15L1741.2 157.79L1742.6 159.02L1744 159.84L1745.4 160.25L1746.8 160.25L1748.2 159.84L1749.6 159.02L1751 157.79L1752.4 156.15L1753.8 154.1Z" fill="#ff8a65" fill-opacity="0.45" stroke="none"/><path d="M1734 145Q1746.1 175.6 1758.2 145" fill="none" stroke="#ff8a65" stroke-width="2.1"/><path d="M1734 181.5Q1746.1 151.7 1758.2 181.5" fill="none" stroke="#ff8a65" stroke-width="2.1"/><path d="M1700.2 154.1H1760.9" stroke="#777" stroke-width="0.9" stroke-dasharray="3.2 1.3" fill="none"/><text x="1735.6" y="138.6" font-size="21.5" fill="#000">e</text><text x="1748.2" y="132" font-size="14" fill="#000">−</text><text x="1702.4" y="180.5" font-size="21.5" fill="#000">h</text><text x="1715.6" y="173.4" font-size="14" fill="#000">+</text><rect x="1535.9" y="281.4" width="70" height="63.1" rx="11" ry="11" fill="#fff" fill-opacity="0.9" stroke="#7a7a7a" stroke-width="1.1"/><path d="M1543.6 291.5Q1555.7 321.7 1567.8 291.5" fill="none" stroke="#a9c867" stroke-width="2.1"/><path d="M1548.11 318.9L1549.49 317.02L1550.87 315.51L1552.25 314.38L1553.63 313.62L1555.01 313.25L1556.39 313.25L1557.77 313.62L1559.15 314.38L1560.53 315.51L1561.91 317.02L1563.29 318.9Z" fill="#a9c867" fill-opacity="0.45" stroke="none"/><path d="M1543.6 327.7Q1555.7 298.7 1567.8 327.7" fill="none" stroke="#a9c867" stroke-width="2.1"/><path d="M1574.3 298.8Q1586.4 328.4 1598.5 298.8" fill="none" stroke="#ff8a65" stroke-width="2.1"/><path d="M1574.3 335Q1586.4 306 1598.5 335" fill="none" stroke="#ff8a65" stroke-width="2.1"/><path d="M1540.9 318.9H1601.8" stroke="#777" stroke-width="0.9" stroke-dasharray="3.2 1.3" fill="none"/><text x="1542.4" y="340.5" font-size="21.5" fill="#000">h</text><text x="1555.6" y="333.4" font-size="14" fill="#000">+</text><rect x="1677.7" y="333.5" width="70.3" height="55.6" rx="11" ry="11" fill="#fff" fill-opacity="0.9" stroke="#7a7a7a" stroke-width="1.1"/><path d="M1685.7 342.5Q1697.8 372.5 1709.9 342.5" fill="none" stroke="#a9c867" stroke-width="2.1"/><path d="M1685.7 378.6Q1697.8 349.6 1709.9 378.6" fill="none" stroke="#a9c867" stroke-width="2.1"/><path d="M1716.4 344.8Q1728.5 374.2 1740.6 344.8" fill="none" stroke="#ff8a65" stroke-width="2.1"/><path d="M1716.4 380.7Q1728.5 351.7 1740.6 380.7" fill="none" stroke="#ff8a65" stroke-width="2.1"/><path d="M1683.2 361.5H1743.6" stroke="#777" stroke-width="0.9" stroke-dasharray="3.2 1.3" fill="none"/><rect x="1856.4" y="281.4" width="70.7" height="63.1" rx="11" ry="11" fill="#fff" fill-opacity="0.9" stroke="#7a7a7a" stroke-width="1.1"/><path d="M1864.4 291.8Q1876.5 321 1888.6 291.8" fill="none" stroke="#a9c867" stroke-width="2.1"/><path d="M1864.4 327.7Q1876.5 298.3 1888.6 327.7" fill="none" stroke="#a9c867" stroke-width="2.1"/><path d="M1899.38 308L1900.79 310.02L1902.19 311.63L1903.59 312.84L1905 313.65L1906.4 314.05L1907.8 314.05L1909.2 313.65L1910.61 312.84L1912.01 311.63L1913.41 310.02L1914.82 308Z" fill="#ff8a65" fill-opacity="0.45" stroke="none"/><path d="M1895 299.1Q1907.1 329.1 1919.2 299.1" fill="none" stroke="#ff8a65" stroke-width="2.1"/><path d="M1895 334.8Q1907.1 305.8 1919.2 334.8" fill="none" stroke="#ff8a65" stroke-width="2.1"/><path d="M1862.3 308H1922.7" stroke="#777" stroke-width="0.9" stroke-dasharray="3.2 1.3" fill="none"/><text x="1899.2" y="300" font-size="21.5" fill="#000">e</text><text x="1911.8" y="293.4" font-size="14" fill="#000">−</text><g stroke="#262626" stroke-width="2.2" fill="none"><path d="M1543.5 425.1v-5M1543.5 38v5M1666.5 425.1v-5M1666.5 38v5M1789.5 425.1v-5M1789.5 38v5M1912.5 425.1v-5M1912.5 38v5M1482 296.07h5M1974 296.07h-5M1482 167.03h5M1974 167.03h-5"/><rect x="1482" y="38" width="492" height="387.1"/></g><text x="1543.5" y="465.5" font-size="27.6" text-anchor="middle">0.2</text><text x="1666.5" y="465.5" font-size="27.6" text-anchor="middle">0.4</text><text x="1789.5" y="465.5" font-size="27.6" text-anchor="middle">0.6</text><text x="1912.5" y="465.5" font-size="27.6" text-anchor="middle">0.8</text><text x="1472.5" y="437.9" font-size="27.6" text-anchor="end">0.75</text><text x="1472.5" y="308.87" font-size="27.6" text-anchor="end">0.8</text><text x="1472.5" y="179.83" font-size="27.6" text-anchor="end">0.85</text><text x="1472.5" y="50.8" font-size="27.6" text-anchor="end">0.9</text><g transform="translate(1682.8 506.07)"><text x="0" y="0" font-size="30">V</text><text x="21.11" y="15.09" font-size="25.29">G</text><text x="48.12" y="0" font-size="30">(V)</text></g><g transform="translate(1398 267.3) rotate(-90)"><text x="0" y="0" font-size="30">V</text><text x="18.61" y="11.19" font-size="25.29">B</text><text x="47.11" y="0" font-size="30">(V)</text></g>
<g clip-path="url(#cd)"><g shape-rendering="crispEdges" transform="translate(108.106 551) scale(2.7875 7.744)" stroke-width="1.03" fill="none">
<path stroke="#ffffff" stroke-width="52" d="M0 25h161"/>
<path stroke="#dfdfff" d="M147 39h1"/>
<path stroke="#e3e3ff" d="M129 39h1M131 39h1"/>
<path stroke="#e7e7ff" d="M100 38h1M102 38h1M107 41h1M104 42h1M106 42h1M128 46h1M130 46h1"/>
<path stroke="#ebebff" d="M127 41h1"/>
<path stroke="#efefff" d="M106 33h1M115 39h1M117 39h1M146 39h1M81 45h1M117 46h1M122 46h1M124 46h1"/>
<path stroke="#f3f3ff" d="M101 35h1M103 35h1M121 43h1M123 43h1"/>
<path stroke="#fffbfb" d="M2 26h5M11 27h5M148 27h8M22 28h7M136 28h7M36 29h10M122 29h7M53 30h8M108 30h7M69 31h10M83 31h4M88 31h12"/>
<path stroke="#fff7f7" d="M0 25h4M7 26h5M156 26h5M16 27h8M141 27h7M29 28h8M127 28h9M46 29h8M112 29h10M61 30h10M100 30h8M79 31h4M87 31h1"/>
<path stroke="#fff3f3" d="M4 25h1M12 26h2M152 26h4M24 27h2M138 27h3M37 28h5M123 28h4M54 29h5M110 29h2M71 30h4M94 30h6"/>
<path stroke="#ffefef" d="M5 25h1M14 26h1M150 26h2M26 27h2M136 27h2M42 28h1M122 28h1M59 29h1M109 29h1M75 30h2M92 30h2M106 35h1M101 37h1M103 37h1M115 41h1M117 41h1M146 41h1M121 45h1M123 45h1M81 47h1M117 48h1M122 48h1M124 48h1"/>
<path stroke="#ffebeb" d="M6 25h1M15 26h1M149 26h1M28 27h1M135 27h1M43 28h3M121 28h1M60 29h1M108 29h1M77 30h4M87 30h5M127 43h1"/>
<path stroke="#ffe7e7" d="M16 26h1M148 26h1M29 27h1M134 27h1M46 28h2M120 28h1M61 29h1M107 29h1M81 30h6M100 40h1M102 40h1M107 43h1M104 44h1M106 44h1M128 48h1M130 48h1"/>
<path stroke="#ffe3e3" d="M7 25h2M159 25h2M17 26h1M146 26h2M30 27h1M133 27h1M48 28h1M119 28h1M62 29h1M106 29h1M129 41h1M131 41h1M147 41h1"/>
<path stroke="#ffdfdf" d="M158 25h1M18 26h1M145 26h1M31 27h2M131 27h2M118 28h1M63 29h2M104 29h2"/>
<path stroke="#ffdbdb" d="M0 24h1M9 25h1M157 25h1M19 26h1M144 26h1M33 27h1M130 27h1M49 28h2M117 28h1M65 29h2M103 29h1"/>
<path stroke="#ffd7d7" d="M10 25h1M156 25h1M20 26h1M34 27h1M129 27h1M51 28h1M115 28h2M67 29h2M101 29h2"/>
<path stroke="#ffd3d3" d="M1 24h1M11 25h1M21 26h2M143 26h1M35 27h1M128 27h1M52 28h2M69 29h1M71 29h1"/>
<path stroke="#ffcfcf" d="M12 25h1M155 25h1M23 26h1M142 26h1M36 27h2M127 27h1M114 28h1M70 29h1M99 29h2"/>
<path stroke="#ffcbcb" d="M2 24h1M154 25h1M24 26h1M141 26h1M38 27h1M126 27h1M54 28h1M113 28h1M72 29h1M98 29h1"/>
<path stroke="#ffc7c7" d="M13 25h1M151 25h1M153 25h1M140 26h1M39 27h2M122 27h4M55 28h2M112 28h1M73 29h2M97 29h1"/>
<path stroke="#ffc3c3" d="M3 24h1M14 25h1M150 25h1M152 25h1M25 26h2M139 26h1M121 27h1M57 28h1M111 28h1M75 29h1M81 29h1M92 29h2M95 29h2"/>
<path stroke="#ffbfbf" d="M4 24h1M149 25h1M136 26h3M41 27h1M120 27h1M58 28h2M108 28h3M80 29h1M82 29h3M91 29h1M94 29h1"/>
<path stroke="#ffbbbb" d="M15 25h1M148 25h1M27 26h4M135 26h1M42 27h3M119 27h1M60 28h1M107 28h1M76 29h4M85 29h1M88 29h3"/>
<path stroke="#ffb7b7" d="M5 24h2M16 25h1M45 27h2M61 28h2M106 28h1M86 29h2"/>
<path stroke="#ffb3b3" d="M160 24h1M17 25h1M147 25h1M133 26h2M105 28h1"/>
<path stroke="#ffafaf" d="M7 24h1M47 27h1M118 27h1M63 28h1"/>
<path stroke="#ffabab" d="M18 25h1M31 26h1M64 28h1M104 28h1"/>
<path stroke="#ffa7a7" d="M159 24h1M19 25h1M32 26h1M132 26h1M48 27h1M65 28h1"/>
<path stroke="#ffa3a3" d="M8 24h1M146 25h1M117 27h1M66 28h1"/>
<path stroke="#ff9f9f" d="M0 23h1M158 24h1M20 25h1M131 26h1M103 28h1"/>
<path stroke="#ff9b9b" d="M145 25h1M33 26h1M49 27h1M116 27h1M67 28h1M102 28h1"/>
<path stroke="#ff9797" d="M9 24h1M157 24h1M130 26h1M50 27h1M68 28h1M101 28h1"/>
<path stroke="#ff9393" d="M21 25h1M144 25h1M51 27h2M115 27h1M69 28h1M99 28h2"/>
<path stroke="#ff8f8f" d="M1 23h1M10 24h1M22 25h1M143 25h1M34 26h1M129 26h1M98 28h1"/>
<path stroke="#ff8b8b" d="M156 24h1M142 25h1M70 28h2"/>
<path stroke="#ff8787" d="M155 24h1M141 25h1M53 27h1M114 27h1M72 28h1M97 28h1"/>
<path stroke="#ff8383" d="M11 24h1M23 25h1M35 26h2M127 26h2M113 27h1M73 28h1"/>
<path stroke="#ff8080" d="M2 23h1M154 24h1M54 27h1M96 28h1"/>
<path stroke="#ff7c7c" d="M12 24h1M140 25h1M37 26h1M55 27h1M112 27h1M74 28h2"/>
<path stroke="#ff7878" d="M65 0h1M134 0h1M113 1h1M126 26h1M111 27h1M86 28h1M95 28h1"/>
<path stroke="#ff7474" d="M32 0h1M41 0h1M64 0h1M135 0h1M112 1h1M51 2h3M87 2h1M89 2h1M3 23h1M153 24h1M24 25h1M56 27h2M59 27h1M76 28h4M84 28h2M89 28h1"/>
<path stroke="#ff7070" d="M25 0h1M42 0h1M63 0h1M66 0h1M82 0h1M99 0h1M131 0h3M136 0h1M142 0h2M147 0h1M35 1h1M72 1h1M82 1h1M111 1h1M114 1h3M54 2h1M86 2h1M88 2h1M90 2h5M119 2h1M104 3h1M106 3h1M88 6h1M124 26h1M110 27h1M80 28h2M87 28h1M92 28h3"/>
<path stroke="#ff6c6c" d="M24 0h1M26 0h1M30 0h2M33 0h1M43 0h1M52 0h3M58 0h1M60 0h3M67 0h1M75 0h1M79 0h1M81 0h1M83 0h1M98 0h1M100 0h2M114 0h1M130 0h1M137 0h2M140 0h2M144 0h3M148 0h2M34 1h1M80 1h1M83 1h2M109 1h1M142 1h1M22 2h2M37 2h2M50 2h1M85 2h1M95 2h2M117 2h2M120 2h1M14 3h1M21 3h1M105 3h1M107 3h1M69 4h1M81 4h1M86 6h1M89 6h2M25 25h1M38 26h1M123 26h1M125 26h1M58 27h1M109 27h1M82 28h2M88 28h1M90 28h2"/>
<path stroke="#ff6868" d="M15 0h1M23 0h1M27 0h1M29 0h1M34 0h1M40 0h1M44 0h1M51 0h1M55 0h3M68 0h1M76 0h3M90 0h2M97 0h1M102 0h2M110 0h1M113 0h1M117 0h1M120 0h1M129 0h1M139 0h1M19 1h1M25 1h1M28 1h1M31 1h1M36 1h2M42 1h3M48 1h3M57 1h3M62 1h1M73 1h2M76 1h1M81 1h1M85 1h1M88 1h2M97 1h1M110 1h1M117 1h1M119 1h2M122 1h1M134 1h1M141 1h1M143 1h1M157 1h1M11 2h1M25 2h2M35 2h1M55 2h1M60 2h1M62 2h1M71 2h2M82 2h2M98 2h1M121 2h1M127 2h1M129 2h1M15 3h1M20 3h1M36 3h1M45 3h1M48 3h1M56 3h1M58 3h2M62 3h1M58 4h1M60 4h1M67 4h2M80 4h1M123 4h2M54 6h1M56 6h1M85 6h1M87 6h1M91 6h1M111 6h1M13 24h1M152 24h1M139 25h1M60 27h1"/>
<path stroke="#ff6464" d="M3 0h2M11 0h4M22 0h1M28 0h1M39 0h1M45 0h1M59 0h1M69 0h1M80 0h1M84 0h1M89 0h1M92 0h1M96 0h1M107 0h1M109 0h1M111 0h2M115 0h2M118 0h1M121 0h1M127 0h2M1 1h1M3 1h1M17 1h2M20 1h1M27 1h1M33 1h1M41 1h1M45 1h3M51 1h1M55 1h2M60 1h2M65 1h1M71 1h1M75 1h1M78 1h2M86 1h2M90 1h2M93 1h1M96 1h1M99 1h3M107 1h2M118 1h1M121 1h1M133 1h1M136 1h2M140 1h1M144 1h2M3 2h1M12 2h1M24 2h1M32 2h1M34 2h1M36 2h1M39 2h1M41 2h2M44 2h2M59 2h1M61 2h1M63 2h1M70 2h1M73 2h3M79 2h3M84 2h1M97 2h1M105 2h1M115 2h2M123 2h2M126 2h1M128 2h1M130 2h1M16 3h3M37 3h1M42 3h1M44 3h1M46 3h2M54 3h2M60 3h2M64 3h1M97 3h1M103 3h1M138 3h2M33 4h1M56 4h2M59 4h1M61 4h2M65 4h2M70 4h1M82 4h1M93 4h1M107 4h2M121 4h1M125 4h1M39 5h1M41 5h2M46 5h2M61 5h3M98 5h1M50 6h2M53 6h1M55 6h1M57 6h2M92 6h2M110 6h1M61 8h1M117 8h2M4 23h1M26 25h1M39 26h1M108 27h1"/>
<path stroke="#ff6060" d="M1 0h1M6 0h2M9 0h2M17 0h2M21 0h1M35 0h1M48 0h3M71 0h1M74 0h1M85 0h1M93 0h3M105 0h2M108 0h1M119 0h1M122 0h2M126 0h1M150 0h1M2 1h1M9 1h1M13 1h1M26 1h1M29 1h1M38 1h3M63 1h2M66 1h1M69 1h2M77 1h1M92 1h1M94 1h2M98 1h1M102 1h4M123 1h1M125 1h2M135 1h1M146 1h1M153 1h4M158 1h1M1 2h2M4 2h2M9 2h2M13 2h1M21 2h1M31 2h1M33 2h1M43 2h1M49 2h1M56 2h3M69 2h1M99 2h6M106 2h2M113 2h1M125 2h1M131 2h2M136 2h2M140 2h2M154 2h3M13 3h1M19 3h1M22 3h3M34 3h2M38 3h4M43 3h1M49 3h1M57 3h1M63 3h1M82 3h1M96 3h1M98 3h1M108 3h1M117 3h1M119 3h1M140 3h1M13 4h2M21 4h3M25 4h1M29 4h1M31 4h1M34 4h4M77 4h1M79 4h1M83 4h2M89 4h1M91 4h2M94 4h1M96 4h1M100 4h1M106 4h1M109 4h3M122 4h1M40 5h1M43 5h1M45 5h1M59 5h2M65 5h2M69 5h1M87 5h4M97 5h1M99 5h1M47 6h1M49 6h1M52 6h1M65 6h2M73 6h1M82 6h1M84 6h1M94 6h1M109 6h1M112 6h2M0 7h1M16 7h1M60 7h1M112 7h1M115 7h1M128 7h1M57 8h2M70 9h1M61 27h1M107 27h1"/>
<path stroke="#ff5c5c" d="M2 0h1M5 0h1M8 0h1M16 0h1M19 0h1M36 0h1M38 0h1M70 0h1M72 0h2M86 0h1M88 0h1M104 0h1M124 0h2M151 0h2M156 0h1M159 0h2M0 1h1M4 1h3M11 1h2M16 1h1M21 1h4M30 1h1M32 1h1M52 1h3M68 1h1M106 1h1M124 1h1M128 1h1M132 1h1M139 1h1M148 1h2M152 1h1M160 1h1M0 2h1M7 2h2M27 2h4M40 2h1M46 2h1M48 2h1M64 2h1M68 2h1M76 2h3M109 2h2M122 2h1M133 2h3M138 2h2M142 2h4M147 2h1M152 2h2M160 2h1M6 3h3M12 3h1M25 3h1M33 3h1M50 3h4M65 3h2M75 3h3M79 3h3M83 3h2M95 3h1M99 3h2M102 3h1M115 3h1M118 3h1M120 3h2M124 3h2M127 3h6M137 3h1M141 3h1M145 3h3M5 4h5M15 4h1M17 4h1M24 4h1M30 4h1M32 4h1M39 4h1M54 4h2M63 4h2M71 4h1M73 4h1M75 4h2M78 4h1M85 4h1M88 4h1M90 4h1M97 4h1M104 4h2M112 4h3M117 4h1M120 4h1M126 4h1M133 4h2M138 4h1M140 4h3M144 4h3M159 4h2M28 5h2M38 5h1M44 5h1M48 5h1M64 5h1M72 5h2M75 5h2M80 5h1M91 5h1M100 5h2M104 5h1M110 5h2M120 5h1M123 5h1M145 5h1M19 6h1M27 6h1M30 6h1M48 6h1M59 6h1M64 6h1M67 6h1M95 6h1M131 6h1M133 6h1M14 7h1M59 7h1M100 7h1M111 7h1M114 7h1M118 7h1M127 7h1M129 7h2M133 7h2M59 8h2M74 8h1M116 8h1M119 8h2M69 9h1M93 9h1M108 9h2M63 10h1M5 23h1M151 24h1M138 25h1M121 26h2"/>
<path stroke="#ff5858" d="M0 0h1M20 0h1M37 0h1M46 0h2M87 0h1M153 0h1M157 0h1M7 1h2M10 1h1M14 1h2M67 1h1M127 1h1M131 1h1M138 1h1M150 1h1M159 1h1M6 2h1M14 2h1M19 2h1M47 2h1M66 2h1M108 2h1M111 2h2M114 2h1M146 2h1M148 2h1M151 2h1M157 2h1M2 3h2M5 3h1M9 3h1M11 3h1M32 3h1M67 3h1M71 3h4M78 3h1M91 3h1M93 3h2M101 3h1M109 3h1M113 3h1M116 3h1M122 3h1M126 3h1M133 3h1M135 3h2M142 3h3M148 3h1M4 4h1M11 4h2M16 4h1M18 4h1M20 4h1M26 4h3M40 4h1M42 4h2M47 4h2M72 4h1M74 4h1M95 4h1M98 4h1M101 4h3M116 4h1M119 4h1M127 4h1M130 4h3M135 4h1M137 4h1M139 4h1M143 4h1M147 4h2M151 4h1M2 5h2M27 5h1M30 5h1M37 5h1M49 5h3M53 5h2M58 5h1M67 5h2M70 5h2M74 5h1M77 5h1M79 5h1M81 5h3M86 5h1M102 5h2M107 5h3M112 5h1M119 5h1M121 5h2M126 5h1M142 5h1M144 5h1M146 5h3M16 6h2M20 6h1M23 6h1M29 6h1M46 6h1M60 6h4M68 6h3M74 6h2M77 6h1M79 6h1M81 6h1M83 6h1M96 6h2M130 6h1M132 6h1M134 6h1M1 7h1M44 7h2M61 7h2M67 7h2M89 7h1M96 7h1M99 7h1M109 7h1M113 7h1M116 7h1M131 7h2M36 8h1M39 8h2M42 8h1M49 8h1M52 8h1M54 8h3M62 8h2M75 8h2M92 8h3M104 8h1M28 9h1M32 9h2M52 9h2M66 9h1M71 9h1M73 9h1M94 9h1M50 10h1M52 10h1M65 10h1M69 10h1M86 10h1M95 10h1M99 10h1M101 10h1M103 10h2M38 11h1M89 11h5M77 12h2M40 26h1M63 27h1M105 27h2"/>
<path stroke="#ff5454" d="M154 0h2M158 0h1M129 1h2M147 1h1M151 1h1M15 2h1M20 2h1M65 2h1M67 2h1M149 2h2M158 2h2M4 3h1M10 3h1M26 3h3M30 3h2M68 3h1M70 3h1M85 3h6M110 3h1M123 3h1M134 3h1M149 3h3M153 3h2M160 3h1M1 4h1M3 4h1M10 4h1M19 4h1M38 4h1M41 4h1M46 4h1M50 4h1M53 4h1M86 4h2M99 4h1M115 4h1M118 4h1M128 4h2M136 4h1M149 4h2M152 4h1M157 4h2M0 5h2M4 5h3M8 5h2M15 5h1M52 5h1M55 5h1M57 5h1M78 5h1M92 5h1M96 5h1M105 5h2M124 5h1M141 5h1M143 5h1M7 6h1M18 6h1M21 6h1M28 6h1M31 6h1M33 6h1M45 6h1M71 6h2M76 6h1M78 6h1M80 6h1M115 6h1M121 6h2M124 6h1M128 6h2M135 6h2M12 7h2M15 7h1M28 7h2M31 7h8M46 7h3M52 7h1M58 7h1M63 7h4M78 7h1M85 7h1M87 7h2M97 7h2M101 7h1M108 7h1M110 7h1M117 7h1M126 7h1M135 7h1M142 7h1M27 8h2M35 8h1M37 8h1M43 8h1M46 8h1M48 8h1M50 8h2M53 8h1M64 8h1M68 8h1M70 8h1M72 8h2M77 8h2M80 8h1M91 8h1M103 8h1M105 8h1M121 8h1M159 8h1M26 9h1M29 9h1M31 9h1M34 9h1M51 9h1M54 9h1M67 9h2M72 9h1M92 9h1M105 9h3M110 9h1M127 9h1M135 9h3M51 10h1M53 10h1M61 10h2M66 10h2M70 10h1M82 10h1M97 10h2M102 10h1M105 10h1M124 10h1M39 11h1M58 11h1M29 12h1M76 12h1M98 12h2M58 13h1M14 24h1M137 25h1M120 26h1M62 27h1"/>
<path stroke="#ff5050" d="M0 3h2M29 3h1M92 3h1M111 3h2M114 3h1M152 3h1M155 3h1M157 3h2M0 4h1M2 4h1M44 4h2M49 4h1M153 4h1M155 4h1M7 5h1M12 5h1M16 5h1M18 5h1M22 5h1M25 5h2M31 5h1M36 5h1M84 5h2M94 5h2M113 5h1M125 5h1M127 5h1M130 5h1M132 5h2M139 5h2M149 5h1M155 5h1M4 6h2M15 6h1M22 6h1M24 6h1M26 6h1M32 6h1M34 6h1M98 6h1M107 6h2M114 6h1M116 6h1M123 6h1M125 6h1M127 6h1M142 6h1M157 6h1M2 7h1M4 7h1M17 7h2M30 7h1M39 7h1M41 7h3M49 7h3M53 7h1M56 7h1M69 7h2M72 7h1M74 7h3M86 7h1M91 7h3M95 7h1M102 7h2M107 7h1M119 7h2M143 7h1M145 7h2M5 8h1M16 8h1M29 8h2M38 8h1M41 8h1M47 8h1M65 8h1M67 8h1M69 8h1M79 8h1M81 8h1M95 8h1M102 8h1M106 8h1M112 8h1M131 8h1M145 8h1M160 8h1M25 9h1M27 9h1M30 9h1M35 9h3M43 9h1M45 9h1M49 9h2M91 9h1M112 9h1M126 9h1M128 9h1M138 9h1M3 10h2M11 10h1M58 10h2M64 10h1M68 10h1M71 10h1M80 10h1M84 10h2M93 10h2M96 10h1M100 10h1M125 10h1M37 11h1M57 11h1M77 11h1M79 11h1M86 11h3M94 11h1M106 11h2M28 12h1M30 12h2M40 12h1M43 12h1M75 12h1M79 12h1M100 12h1M54 13h2M57 13h1M59 13h1M73 13h3M27 25h1M41 26h1M103 27h2"/>
<path stroke="#ff4c4c" d="M16 2h1M69 3h1M156 3h1M51 4h2M154 4h1M156 4h1M10 5h2M14 5h1M19 5h1M21 5h1M24 5h1M33 5h1M35 5h1M56 5h1M93 5h1M118 5h1M128 5h2M131 5h1M134 5h1M138 5h1M150 5h2M154 5h1M6 6h1M8 6h2M13 6h2M25 6h1M35 6h2M43 6h2M99 6h1M103 6h1M117 6h4M126 6h1M140 6h2M143 6h2M147 6h3M153 6h1M155 6h2M158 6h2M3 7h1M8 7h1M10 7h1M40 7h1M54 7h2M57 7h1M71 7h1M73 7h1M77 7h1M79 7h1M81 7h2M84 7h1M90 7h1M94 7h1M104 7h3M121 7h1M125 7h1M136 7h1M139 7h1M141 7h1M147 7h4M159 7h2M1 8h1M3 8h2M15 8h1M17 8h1M26 8h1M31 8h1M33 8h2M44 8h2M66 8h1M71 8h1M82 8h1M89 8h1M96 8h1M100 8h1M111 8h1M114 8h2M124 8h1M128 8h3M132 8h1M14 9h1M16 9h3M20 9h1M24 9h1M40 9h2M44 9h1M46 9h3M55 9h2M59 9h7M75 9h2M83 9h3M87 9h1M89 9h2M95 9h1M101 9h1M111 9h1M125 9h1M129 9h1M134 9h1M139 9h1M148 9h2M157 9h4M5 10h2M12 10h2M37 10h1M49 10h1M54 10h1M57 10h1M60 10h1M72 10h2M78 10h2M83 10h1M87 10h4M92 10h1M106 10h2M111 10h3M118 10h1M122 10h2M126 10h1M128 10h1M137 10h1M9 11h3M40 11h1M56 11h1M65 11h1M71 11h2M75 11h2M78 11h1M81 11h1M83 11h1M85 11h1M103 11h3M114 11h4M119 11h2M126 11h1M32 12h1M39 12h1M42 12h1M44 12h1M57 12h4M62 12h1M97 12h1M108 12h1M41 13h2M60 13h1M114 13h1M116 13h2M88 14h1M6 23h1M43 26h1M64 27h1M66 27h1M101 27h1"/>
<path stroke="#ff4848" d="M17 2h2M159 3h1M13 5h1M17 5h1M23 5h1M32 5h1M34 5h1M114 5h1M116 5h2M135 5h3M152 5h2M156 5h1M3 6h1M10 6h1M42 6h1M100 6h3M104 6h3M137 6h3M145 6h2M150 6h2M154 6h1M160 6h1M5 7h3M9 7h1M11 7h1M19 7h2M22 7h1M25 7h3M80 7h1M83 7h1M122 7h1M140 7h1M144 7h1M151 7h3M157 7h1M0 8h1M2 8h1M13 8h2M18 8h1M24 8h2M32 8h1M87 8h2M90 8h1M97 8h2M101 8h1M109 8h2M113 8h1M122 8h2M125 8h1M127 8h1M133 8h1M143 8h2M146 8h7M158 8h1M15 9h1M19 9h1M21 9h2M42 9h1M57 9h2M74 9h1M77 9h1M81 9h2M86 9h1M88 9h1M96 9h1M100 9h1M102 9h3M113 9h4M123 9h2M140 9h1M146 9h2M2 10h1M10 10h1M46 10h1M55 10h2M74 10h4M81 10h1M91 10h1M108 10h3M114 10h1M116 10h2M119 10h3M127 10h1M136 10h1M138 10h2M144 10h3M152 10h1M36 11h1M59 11h1M64 11h1M66 11h1M68 11h3M80 11h1M82 11h1M84 11h1M95 11h1M100 11h1M108 11h1M112 11h2M118 11h1M123 11h1M127 11h1M141 11h1M160 11h1M38 12h1M41 12h1M46 12h1M51 12h1M61 12h1M63 12h2M73 12h2M96 12h1M101 12h2M106 12h2M109 12h2M130 12h3M39 13h2M52 13h2M56 13h1M61 13h1M76 13h1M113 13h1M115 13h1M87 14h1M52 15h1M150 24h1M28 25h1M42 26h1M44 26h1M119 26h1M65 27h1M102 27h1"/>
<path stroke="#ff4444" d="M20 5h1M115 5h1M157 5h1M0 6h2M11 6h2M37 6h3M41 6h1M152 6h1M21 7h1M123 7h2M137 7h2M154 7h3M158 7h1M6 8h2M12 8h1M19 8h1M83 8h3M99 8h1M108 8h1M126 8h1M134 8h1M142 8h1M156 8h2M6 9h1M13 9h1M23 9h1M38 9h2M79 9h1M97 9h1M122 9h1M130 9h1M133 9h1M145 9h1M151 9h1M155 9h2M7 10h1M9 10h1M14 10h2M20 10h3M28 10h2M35 10h2M38 10h2M43 10h3M47 10h2M115 10h1M130 10h1M140 10h1M143 10h1M153 10h3M8 11h1M12 11h2M15 11h1M22 11h1M34 11h2M41 11h2M50 11h1M54 11h2M62 11h1M73 11h2M101 11h1M109 11h3M122 11h1M124 11h1M135 11h1M137 11h1M139 11h2M9 12h1M27 12h1M45 12h1M47 12h2M55 12h2M65 12h1M71 12h2M105 12h1M133 12h1M146 12h1M28 13h1M36 13h3M72 13h1M112 13h1M118 13h6M137 13h1M58 14h1M85 14h1M89 14h4M106 14h2M50 15h2M54 15h1M82 15h1M85 15h1M15 24h1M136 25h1M45 26h1M67 27h1M100 27h1"/>
<path stroke="#ff4040" d="M160 5h1M2 6h1M40 6h1M24 7h1M8 8h1M22 8h2M86 8h1M107 8h1M141 8h1M153 8h1M155 8h1M2 9h2M5 9h1M7 9h1M78 9h1M80 9h1M98 9h2M117 9h1M131 9h2M143 9h1M150 9h1M152 9h1M154 9h1M8 10h1M17 10h1M19 10h1M23 10h2M27 10h1M30 10h1M40 10h3M129 10h1M131 10h5M141 10h2M147 10h2M151 10h1M156 10h2M3 11h1M14 11h1M17 11h1M21 11h1M23 11h2M26 11h1M28 11h1M43 11h1M46 11h3M63 11h1M67 11h1M96 11h2M102 11h1M121 11h1M125 11h1M128 11h2M133 11h2M136 11h1M138 11h1M142 11h2M150 11h1M8 12h1M10 12h1M26 12h1M33 12h1M37 12h1M49 12h2M52 12h3M66 12h1M69 12h1M80 12h1M87 12h2M94 12h2M103 12h2M111 12h2M129 12h1M143 12h1M145 12h1M147 12h1M149 12h1M151 12h1M27 13h1M34 13h2M43 13h1M51 13h1M62 13h1M71 13h1M77 13h1M82 13h1M97 13h1M100 13h3M111 13h1M124 13h1M143 13h2M37 14h1M39 14h1M56 14h2M59 14h1M68 14h3M84 14h1M86 14h1M105 14h1M120 14h2M53 15h1M55 15h1M79 15h1M83 15h1M65 16h1M106 16h1M149 24h1M29 25h1M134 25h2M68 27h1M70 27h1M99 27h1"/>
<path stroke="#ff3c3c" d="M158 5h1M23 7h1M9 8h3M20 8h2M135 8h1M154 8h1M0 9h1M4 9h1M8 9h3M12 9h1M118 9h4M141 9h2M144 9h1M153 9h1M0 10h1M16 10h1M18 10h1M26 10h1M31 10h1M34 10h1M149 10h2M1 11h2M5 11h1M7 11h1M16 11h1M19 11h1M25 11h1M31 11h2M44 11h2M49 11h1M51 11h1M60 11h2M98 11h2M130 11h1M132 11h1M148 11h2M152 11h1M159 11h1M0 12h1M11 12h1M18 12h3M34 12h3M67 12h2M70 12h1M81 12h1M86 12h1M89 12h2M113 12h4M118 12h1M134 12h1M140 12h1M142 12h1M144 12h1M148 12h1M150 12h1M152 12h1M25 13h2M44 13h3M50 13h1M80 13h1M83 13h1M93 13h2M96 13h1M110 13h1M125 13h2M130 13h1M136 13h1M138 13h1M22 14h1M33 14h1M38 14h1M40 14h1M48 14h1M55 14h1M60 14h1M67 14h1M71 14h1M83 14h1M100 14h1M103 14h2M108 14h1M118 14h2M122 14h1M81 15h1M84 15h1M86 15h1M108 15h1M56 16h1M58 16h1M63 16h2M66 16h1M81 16h3M99 16h2M104 16h1M107 16h1M91 17h1M72 18h1M160 23h1M46 26h1M118 26h1M71 27h1M97 27h1"/>
<path stroke="#ff3838" d="M159 5h1M139 8h2M1 9h1M11 9h1M1 10h1M25 10h1M32 10h2M158 10h3M0 11h1M4 11h1M6 11h1M18 11h1M20 11h1M27 11h1M30 11h1M53 11h1M131 11h1M144 11h1M147 11h1M151 11h1M1 12h1M7 12h1M17 12h1M21 12h2M85 12h1M91 12h3M117 12h1M119 12h3M128 12h1M141 12h1M153 12h1M19 13h3M24 13h1M29 13h2M33 13h1M48 13h2M78 13h2M81 13h1M86 13h5M95 13h1M98 13h2M103 13h2M106 13h1M108 13h2M127 13h1M129 13h1M131 13h1M133 13h3M139 13h2M142 13h1M145 13h1M159 13h2M36 14h1M45 14h3M49 14h2M52 14h1M54 14h1M66 14h1M72 14h1M74 14h2M81 14h2M93 14h2M96 14h1M99 14h1M101 14h2M109 14h1M116 14h2M123 14h1M147 14h1M48 15h2M56 15h1M78 15h1M80 15h1M97 15h6M105 15h3M109 15h1M115 15h3M123 15h3M144 15h1M52 16h1M57 16h1M59 16h1M80 16h1M84 16h2M88 16h2M98 16h1M101 16h3M128 16h1M67 17h1M76 17h2M79 17h1M92 17h4M109 17h1M73 18h2M148 24h1M30 25h1M133 25h1M47 26h1M69 27h1M98 27h1"/>
<path stroke="#ff3434" d="M136 8h3M29 11h1M33 11h1M52 11h1M145 11h1M153 11h2M158 11h1M2 12h1M6 12h1M16 12h1M25 12h1M82 12h3M122 12h3M126 12h2M135 12h1M137 12h3M154 12h3M4 13h1M7 13h1M10 13h5M17 13h2M31 13h2M47 13h1M63 13h1M65 13h1M69 13h1M84 13h2M91 13h1M105 13h1M107 13h1M128 13h1M141 13h1M13 14h1M21 14h1M23 14h2M31 14h2M34 14h2M41 14h1M44 14h1M51 14h1M53 14h1M61 14h1M73 14h1M76 14h1M95 14h1M98 14h1M113 14h3M124 14h1M132 14h4M146 14h1M28 15h1M63 15h3M93 15h1M95 15h2M103 15h2M110 15h1M122 15h1M131 15h1M133 15h1M145 15h2M148 15h1M27 16h2M38 16h2M45 16h2M50 16h1M53 16h3M61 16h2M77 16h1M79 16h1M91 16h2M97 16h1M105 16h1M108 16h1M119 16h1M59 17h1M61 17h1M65 17h1M68 17h2M78 17h1M90 17h1M96 17h1M101 17h2M128 17h1M140 17h1M75 18h1M7 23h1M159 23h1M16 24h1M72 27h1M74 27h1M95 27h1"/>
<path stroke="#ff3030" d="M146 11h1M156 11h1M5 12h1M12 12h1M14 12h2M24 12h1M125 12h1M136 12h1M157 12h3M5 13h1M8 13h1M16 13h1M23 13h1M64 13h1M70 13h1M92 13h1M132 13h1M146 13h2M153 13h1M156 13h1M14 14h1M19 14h1M25 14h1M30 14h1M42 14h1M62 14h4M77 14h4M97 14h1M110 14h1M112 14h1M125 14h1M131 14h1M136 14h1M144 14h1M148 14h1M154 14h2M25 15h1M27 15h1M29 15h3M34 15h1M47 15h1M57 15h1M62 15h1M66 15h6M77 15h1M87 15h1M92 15h1M94 15h1M118 15h2M121 15h1M126 15h2M129 15h2M132 15h1M134 15h1M137 15h2M141 15h3M147 15h1M15 16h3M30 16h2M40 16h1M44 16h1M47 16h1M51 16h1M60 16h1M68 16h1M72 16h2M75 16h2M78 16h1M86 16h2M95 16h2M109 16h2M113 16h1M117 16h2M120 16h1M127 16h1M129 16h1M139 16h1M38 17h1M41 17h2M55 17h1M58 17h1M66 17h1M75 17h1M80 17h1M82 17h2M97 17h2M103 17h1M110 17h1M125 17h2M129 17h1M141 17h1M71 18h1M76 18h1M91 18h1M95 18h1M98 18h2M102 19h1M147 24h1M117 26h1M73 27h1M75 27h1M94 27h1M96 27h1"/>
<path stroke="#ff2c2c" d="M155 11h1M157 11h1M3 12h1M13 12h1M23 12h1M160 12h1M3 13h1M6 13h1M9 13h1M15 13h1M22 13h1M66 13h3M151 13h2M154 13h2M157 13h2M10 14h1M12 14h1M15 14h4M20 14h1M26 14h1M29 14h1M43 14h1M111 14h1M137 14h7M145 14h1M159 14h1M3 15h2M6 15h1M24 15h1M26 15h1M32 15h1M35 15h2M46 15h1M58 15h4M72 15h2M75 15h2M88 15h2M91 15h1M111 15h1M113 15h2M120 15h1M128 15h1M135 15h2M140 15h1M149 15h1M29 16h1M36 16h2M48 16h2M67 16h1M69 16h1M74 16h1M90 16h1M93 16h1M111 16h2M114 16h3M121 16h1M126 16h1M130 16h1M137 16h1M140 16h1M158 16h1M35 17h3M39 17h2M43 17h2M56 17h2M60 17h1M62 17h2M70 17h1M81 17h1M84 17h1M99 17h2M105 17h1M107 17h2M111 17h3M122 17h1M124 17h1M127 17h1M130 17h1M138 17h2M60 18h1M80 18h3M87 18h1M89 18h2M92 18h3M96 18h2M137 18h1M58 19h2M65 19h1M80 19h2M99 19h3M103 19h1M109 19h2M74 20h1M78 20h1M158 23h1M146 24h1M131 25h2M48 26h1M116 26h1M91 27h3"/>
<path stroke="#ff2828" d="M4 12h1M1 13h1M150 13h1M11 14h1M27 14h2M130 14h1M150 14h2M153 14h1M156 14h1M158 14h1M160 14h1M5 15h1M7 15h1M10 15h3M18 15h1M23 15h1M33 15h1M37 15h1M40 15h1M43 15h2M74 15h1M90 15h1M112 15h1M139 15h1M150 15h4M14 16h1M18 16h1M26 16h1M34 16h2M41 16h3M70 16h2M94 16h1M125 16h1M136 16h1M138 16h1M141 16h1M143 16h1M159 16h2M34 17h1M45 17h2M52 17h2M64 17h1M87 17h3M104 17h1M106 17h1M116 17h1M120 17h1M123 17h1M131 17h1M137 17h1M43 18h2M54 18h1M57 18h1M59 18h1M61 18h1M69 18h2M78 18h1M83 18h2M88 18h1M100 18h3M105 18h1M134 18h1M136 18h1M56 19h2M60 19h3M64 19h1M67 19h6M78 19h2M108 19h1M111 19h1M116 19h2M77 20h1M17 24h1M31 25h2M115 26h1M76 27h3M80 27h5M88 27h1M90 27h1"/>
<path stroke="#ff2424" d="M0 13h1M148 13h1M0 14h1M6 14h1M9 14h1M127 14h3M149 14h1M152 14h1M157 14h1M0 15h3M8 15h2M22 15h1M38 15h1M41 15h2M45 15h1M154 15h1M6 16h2M9 16h1M19 16h1M24 16h2M32 16h1M122 16h1M131 16h2M135 16h1M142 16h1M153 16h1M156 16h2M23 17h5M47 17h4M54 17h1M71 17h1M73 17h2M85 17h2M114 17h1M119 17h1M121 17h1M132 17h1M142 17h1M149 17h1M41 18h2M53 18h1M58 18h1M62 18h2M68 18h1M77 18h1M79 18h1M85 18h2M103 18h1M106 18h4M131 18h1M133 18h1M135 18h1M138 18h1M50 19h1M52 19h2M63 19h1M66 19h1M82 19h1M92 19h1M104 19h1M107 19h1M112 19h1M115 19h1M118 19h1M72 20h2M75 20h2M79 20h2M122 20h2M145 24h1M49 26h1M79 27h1M87 27h1M89 27h1"/>
<path stroke="#ff2020" d="M2 13h1M149 13h1M1 14h5M126 14h1M13 15h5M19 15h3M39 15h1M155 15h1M8 16h1M13 16h1M23 16h1M33 16h1M123 16h2M133 16h2M152 16h1M154 16h2M28 17h1M33 17h1M51 17h1M72 17h1M115 17h1M117 17h2M136 17h1M143 17h1M150 17h1M19 18h2M32 18h3M45 18h1M51 18h2M55 18h2M64 18h4M104 18h1M110 18h2M122 18h1M129 18h2M149 18h1M42 19h5M48 19h2M51 19h1M54 19h2M74 19h1M76 19h2M93 19h1M96 19h2M105 19h2M113 19h2M125 19h2M71 20h1M87 20h1M89 20h2M121 20h1M124 20h1M18 24h1M130 25h1M85 27h2"/>
<path stroke="#ff1c1c" d="M7 14h2M156 15h2M10 16h1M12 16h1M20 16h3M144 16h2M151 16h1M16 17h1M19 17h3M29 17h2M32 17h1M133 17h3M144 17h1M147 17h2M152 17h1M18 18h1M23 18h4M31 18h1M35 18h2M40 18h1M46 18h1M112 18h2M116 18h3M120 18h1M123 18h4M128 18h1M132 18h1M139 18h4M146 18h2M34 19h1M41 19h1M47 19h1M73 19h1M75 19h1M83 19h1M89 19h3M94 19h2M98 19h1M124 19h1M127 19h2M40 20h1M50 20h1M52 20h2M60 20h1M62 20h1M66 20h1M68 20h1M70 20h1M93 20h1M112 20h1M115 20h1M100 21h1M0 22h1M8 23h1M19 24h1M129 25h1M50 26h2M114 26h1"/>
<path stroke="#ff1818" d="M159 15h2M3 16h3M11 16h1M146 16h2M150 16h1M17 17h2M22 17h1M31 17h1M146 17h1M151 17h1M153 17h1M17 18h1M21 18h2M27 18h4M37 18h2M47 18h1M49 18h2M114 18h2M119 18h1M121 18h1M127 18h1M148 18h1M150 18h1M33 19h1M40 19h1M119 19h2M122 19h2M129 19h1M136 19h1M49 20h1M51 20h1M54 20h1M59 20h1M61 20h1M63 20h3M67 20h1M81 20h1M88 20h1M91 20h2M94 20h1M96 20h1M109 20h1M111 20h1M113 20h2M125 20h1M157 23h1M52 26h1M54 26h1"/>
<path stroke="#ff1414" d="M158 15h1M0 16h1M2 16h1M148 16h2M6 17h1M12 17h1M14 17h1M145 17h1M154 17h2M158 17h1M16 18h1M39 18h1M48 18h1M143 18h3M151 18h1M153 18h1M35 19h1M37 19h3M84 19h2M88 19h1M121 19h1M130 19h1M137 19h1M140 19h1M39 20h1M41 20h1M46 20h3M55 20h1M86 20h1M95 20h1M99 20h1M107 20h2M110 20h1M120 20h1M54 21h1M57 21h1M61 21h1M70 21h2M85 21h1M98 21h2M101 21h1M104 21h1M20 24h1M33 25h1M53 26h1M55 26h1"/>
<path stroke="#ff1010" d="M1 16h1M3 17h3M7 17h4M13 17h1M15 17h1M156 17h2M152 18h1M155 18h1M31 19h2M36 19h1M133 19h3M138 19h2M38 20h1M56 20h3M69 20h1M84 20h1M97 20h2M100 20h1M106 20h1M116 20h1M118 20h2M126 20h1M55 21h1M60 21h1M69 21h1M80 21h1M83 21h1M86 21h1M89 21h1M91 21h3M97 21h1M102 21h2M113 21h1M115 21h1M69 22h1M100 22h2M103 22h1M144 24h1M34 25h1M128 25h1M56 26h1M112 26h2"/>
<path stroke="#ff0c0c" d="M159 17h1M5 18h1M15 18h1M154 18h1M156 18h1M25 19h2M30 19h1M86 19h2M131 19h2M141 19h2M32 20h2M42 20h4M82 20h2M101 20h1M105 20h1M117 20h1M130 20h1M135 20h1M53 21h1M56 21h1M58 21h2M67 21h2M72 21h3M77 21h3M81 21h2M84 21h1M87 21h2M90 21h1M96 21h1M114 21h1M122 21h1M1 22h1M43 22h2M68 22h1M70 22h1M99 22h1M102 22h1M9 23h1M21 24h1M127 25h1M57 26h1M111 26h1"/>
<path stroke="#ff0808" d="M0 17h3M11 17h1M0 18h2M6 18h2M13 18h1M157 18h4M22 19h2M27 19h1M29 19h1M143 19h1M152 19h1M0 20h1M37 20h1M85 20h1M102 20h2M127 20h1M129 20h1M131 20h4M43 21h1M45 21h2M50 21h3M63 21h1M76 21h1M94 21h2M112 21h1M116 21h2M119 21h1M121 21h1M71 22h1M86 22h1M89 22h2M106 22h2M109 22h2M25 23h3M100 23h1M125 23h1M99 24h1M92 25h2M58 26h1"/>
<path stroke="#ff0404" d="M160 17h1M4 18h1M9 18h1M12 18h1M14 18h1M6 19h1M24 19h1M28 19h1M144 19h1M150 19h2M1 20h1M17 20h3M25 20h1M34 20h3M104 20h1M136 20h3M42 21h1M44 21h1M62 21h1M64 21h1M75 21h1M105 21h2M111 21h1M118 21h1M120 21h1M123 21h1M150 21h1M59 22h1M61 22h1M67 22h1M72 22h2M83 22h3M87 22h1M96 22h3M104 22h2M108 22h1M113 22h1M144 22h1M23 23h2M28 23h1M65 23h4M101 23h3M100 24h1M35 25h1M59 26h1M110 26h1"/>
<path stroke="#ff0000" d="M2 18h2M8 18h1M10 18h2M0 19h6M7 19h15M145 19h5M153 19h8M2 20h15M20 20h5M26 20h6M128 20h1M139 20h22M0 21h42M47 21h3M65 21h2M107 21h4M124 21h26M151 21h10M2 22h41M45 22h14M60 22h1M62 22h5M74 22h9M88 22h1M91 22h5M111 22h2M114 22h30M145 22h16M10 23h13M29 23h36M69 23h31M104 23h21M126 23h31M22 24h77M101 24h43M36 25h56M94 25h33M60 26h50"/>
</g></g>
<g clip-path="url(#cd)">
<g fill="none" stroke="#000"><path stroke-width="3.0" stroke-dasharray="14.2 7.8" d="M109.5 734.1L115.1 736.1L120.8 738L126.4 739.9L132.1 741.7L137.7 743.4L143.4 745L149 746.6L154.7 748L160.3 749.4L166 750.7L171.6 751.9L177.2 753.1L182.9 754.2L188.5 755.3L194.2 756.4L199.8 757.4L205.5 758.3L211.1 759.2L216.8 760L222.4 760.8L228.1 761.5L233.7 762.2L239.3 762.9L245 763.6L250.6 764.2L256.3 764.8L261.9 765.3L267.6 765.8L273.2 766.3L278.9 766.8L284.5 767.2L290.2 767.6L295.8 768L301.4 768.3L307.1 768.7L312.7 768.9L318.4 769.2L324 769.4L329.7 769.5L335.3 769.7L341 769.8L346.6 769.9L352.3 769.9L357.9 769.9L363.6 769.8L369.2 769.5L374.8 769.2L380.5 768.9L386.1 768.5L391.8 768L397.4 767.6L403.1 767.2L408.7 766.6L414.4 766L420 765.4L425.7 764.6L431.3 763.9L436.9 763.1L442.6 762.2L448.2 761.4L453.9 760.6L459.5 759.7L465.2 758.8L470.8 757.8L476.5 756.8L482.1 755.8L487.8 754.7L493.4 753.7L499 752.6L504.7 751.5L510.3 750.4L516 749.2L521.6 748L527.3 746.8L532.9 745.6L538.6 744.3L544.2 743L549.9 741.7L555.5 740.4"/><path stroke-width="3.0" stroke-dasharray="14.2 7.8" stroke-dashoffset="7.7" d="M327.5 769.41L257 938.2"/><path stroke-width="3.0" stroke-dasharray="14.2 7.8" d="M354.8 769.91V938.2"/></g>
</g>
<g stroke="#262626" stroke-width="2.2" fill="none"><path d="M165.25 938.2v-4.5 M165.25 551v4.5M276.75 938.2v-4.5 M276.75 551v4.5M388.25 938.2v-4.5 M388.25 551v4.5M499.75 938.2v-4.5 M499.75 551v4.5M109.5 809.13h4.5 M555.5 809.13h-4.5M109.5 680.07h4.5 M555.5 680.07h-4.5"/><rect x="109.5" y="551" width="446" height="387.2"/></g>
<text x="165.25" y="975.2" font-size="25.33" text-anchor="middle">0.2</text><text x="276.75" y="975.2" font-size="25.33" text-anchor="middle">0.4</text><text x="388.25" y="975.2" font-size="25.33" text-anchor="middle">0.6</text><text x="499.75" y="975.2" font-size="25.33" text-anchor="middle">0.8</text><text x="99" y="950.2" font-size="25.33" text-anchor="end">0.75</text><text x="99" y="821.13" font-size="25.33" text-anchor="end">0.8</text><text x="99" y="692.07" font-size="25.33" text-anchor="end">0.85</text><text x="99" y="563" font-size="25.33" text-anchor="end">0.9</text><g transform="translate(288.4 1017.05)"><text x="0" y="0" font-size="30">V</text><text x="20.96" y="12.6" font-size="23.1">G</text><text x="47.56" y="0" font-size="30">(V)</text></g><g transform="translate(25.6 787) rotate(-90)"><text x="0" y="0" font-size="30">V</text><text x="21.11" y="12" font-size="23.1">B</text><text x="45.55" y="0" font-size="30">(V)</text></g>
<linearGradient id="gbd" x1="0" y1="1" x2="0" y2="0"><stop offset="0" stop-color="#0000ff"/><stop offset="0.5" stop-color="#ffffff"/><stop offset="1" stop-color="#ff0000"/></linearGradient><rect x="573.1" y="809.6" width="28" height="128.6" fill="url(#gbd)" stroke="#2e2e2e" stroke-width="1.2"/><text x="611" y="922.65" font-size="21.3">-10</text><text x="611" y="885.6" font-size="21.3">0</text><text x="611" y="848.55" font-size="21.3">10</text><path d="M601.1 910.95h-3M601.1 873.9h-3M601.1 836.85h-3" stroke="#262626" stroke-width="1" fill="none"/>
<g transform="translate(594 799) rotate(-90)"><text x="-1" y="0" font-size="26.21" font-style="italic">∂</text><text x="11.95" y="0" font-size="23.4">n</text><text x="25.43" y="10.76" font-size="18.72">x</text><text x="36.78" y="0" font-size="23.4">/</text><text x="42.78" y="0" font-size="26.21" font-style="italic">∂</text><text x="56.03" y="0" font-size="23.4">V</text><text x="72.11" y="10.76" font-size="18.72">B</text><text x="93.09" y="0" font-size="23.4">(10</text><text x="127.37" y="-11" font-size="18.72">12</text><text x="150.18" y="0" font-size="23.4">cm</text><text x="181.85" y="-11" font-size="18.72">-2</text><text x="200.48" y="0" font-size="23.4">V</text><text x="216.55" y="-11" font-size="18.72">-1</text><text x="235.19" y="0" font-size="23.4">)</text></g>
<g clip-path="url(#ce)"><g shape-rendering="crispEdges" transform="translate(795.705 551.1) scale(2.7894 7.746)" stroke-width="1.03" fill="none">
<path stroke="#ff0000" stroke-width="52" d="M0 25h161"/>
<path stroke="#6464ff" d="M71 47h1"/>
<path stroke="#6868ff" d="M72 38h1"/>
<path stroke="#7474ff" d="M84 50h1"/>
<path stroke="#8080ff" d="M85 40h1"/>
<path stroke="#8f8fff" d="M68 43h1"/>
<path stroke="#9393ff" d="M66 47h1"/>
<path stroke="#9b9bff" d="M85 30h1"/>
<path stroke="#9f9fff" d="M85 33h1"/>
<path stroke="#a7a7ff" d="M83 32h1"/>
<path stroke="#afafff" d="M83 34h1"/>
<path stroke="#b3b3ff" d="M77 40h1"/>
<path stroke="#c7c7ff" d="M77 36h1"/>
<path stroke="#ebebff" d="M80 41h1"/>
<path stroke="#efefff" d="M86 33h1M80 46h1M82 47h1"/>
<path stroke="#f3f3ff" d="M82 40h1M86 42h1M71 46h1M78 46h1M87 47h1M71 48h1M71 49h1"/>
<path stroke="#f7f7ff" d="M86 29h1M85 31h1M81 36h1M83 36h1M79 38h1M86 38h1M75 41h1M85 44h1M70 45h1M74 45h1M63 46h1M84 46h1M68 47h1M80 47h1M87 50h1"/>
<path stroke="#fbfbff" d="M84 31h1M85 32h1M87 32h1M79 33h1M87 33h1M84 34h1M85 35h1M84 36h2M77 37h1M76 38h1M80 38h1M83 38h1M87 38h1M71 39h1M82 39h1M86 39h1M77 41h1M80 42h1M84 42h1M70 43h1M83 43h1M69 44h1M73 44h1M83 44h1M64 45h1M79 45h1M73 46h1M76 46h1M65 47h1M74 47h1M86 47h1M68 48h3M74 48h1M80 48h1M84 48h1M63 49h1M68 50h1M70 50h1M72 50h1M78 50h1M81 50h2"/>
<path stroke="#ffffff" d="M84 29h2M82 30h3M83 31h1M79 32h1M81 32h1M84 32h1M78 34h1M80 34h2M87 34h1M84 35h1M80 36h1M87 36h1M84 37h1M75 38h1M85 38h1M76 39h1M79 39h1M83 39h1M85 39h1M75 40h1M84 40h1M86 40h1M85 41h2M71 42h1M77 42h2M83 42h1M72 43h1M84 43h1M87 43h1M75 44h1M81 44h1M67 45h1M75 45h1M78 45h1M80 45h1M84 45h1M68 46h1M81 46h1M83 46h1M86 46h1M63 47h1M70 47h1M75 47h1M62 48h1M67 48h1M82 48h1M60 49h2M66 49h1M74 49h3M79 49h1M82 49h2M85 49h2M63 50h2M66 50h1M71 50h1M75 50h1M77 50h1"/>
<path stroke="#fffbfb" d="M87 29h1M87 31h1M81 33h1M83 33h1M77 34h1M77 35h1M80 35h1M76 36h1M79 36h1M82 36h1M78 37h1M81 37h2M85 37h1M87 37h1M73 38h1M78 38h1M75 39h1M77 39h1M72 40h1M76 40h1M80 40h2M73 41h2M81 41h2M84 41h1M74 42h1M76 42h1M79 42h1M82 42h1M85 42h1M87 42h1M74 43h2M80 43h1M66 44h1M68 44h1M71 44h1M86 44h1M66 45h1M68 45h1M76 45h2M88 45h1M67 46h1M69 46h1M62 47h1M73 47h1M83 47h1M85 47h1M78 48h2M86 48h1M65 49h1M73 49h1M80 49h2M87 49h1M61 50h2M69 50h1M73 50h1M80 50h1M85 50h1"/>
<path stroke="#fff7f7" d="M85 24h1M86 30h3M80 31h1M78 33h1M82 33h1M84 33h1M88 33h1M79 34h1M85 34h2M82 35h1M86 35h1M88 35h1M74 37h1M76 37h1M79 37h1M77 38h1M81 38h1M84 38h1M73 39h1M81 39h1M84 39h1M70 40h1M79 40h1M69 41h3M76 41h1M79 41h1M83 41h1M87 41h1M68 42h1M73 42h1M75 42h1M69 43h1M76 43h4M86 43h1M72 44h1M78 44h2M87 44h2M81 45h1M64 46h1M72 46h1M77 46h1M85 46h1M67 47h1M72 47h1M76 47h1M78 47h1M81 47h1M63 48h1M66 48h1M72 48h1M75 48h1M81 48h1M85 48h1M87 48h1M67 49h1M69 49h1M78 49h1M84 49h1M59 50h1M67 50h1M74 50h1M76 50h1M79 50h1M83 50h1M86 50h1"/>
<path stroke="#fff3f3" d="M21 1h1M109 1h2M21 3h2M29 3h1M33 4h1M62 5h1M129 5h1M65 6h1M14 8h1M70 10h1M139 13h2M159 13h1M12 14h1M98 14h1M26 16h2M130 19h1M25 20h1M134 22h1M43 24h1M136 25h1M133 26h2M5 27h1M98 28h1M83 29h1M80 33h1M76 35h1M79 35h1M75 36h1M73 37h1M75 37h1M80 37h1M74 38h1M82 38h1M74 39h1M80 39h1M87 39h2M71 40h1M74 40h1M83 40h1M87 40h1M72 41h1M78 41h1M66 43h2M71 43h1M73 43h1M81 43h1M85 43h1M67 44h1M70 44h1M74 44h1M80 44h1M82 44h1M65 45h1M69 45h1M71 45h1M83 45h1M66 46h1M75 46h1M79 46h1M87 46h2M69 47h1M77 47h1M79 47h1M84 47h1M73 48h1M76 48h2M83 48h1M62 49h1M70 49h1M72 49h1M77 49h1M65 50h1"/>
<path stroke="#ffefef" d="M29 7h1M22 12h1M8 15h1M101 19h1M156 20h1M140 24h1M148 25h1M82 31h1M80 32h1M29 34h1M82 34h1M78 35h1M87 35h1M86 37h1M72 39h1M78 39h1M73 40h1M78 40h1M88 41h1M69 42h2M72 42h1M82 43h1M65 44h1M73 45h1M87 45h1M65 46h1M70 46h1M82 46h1M64 47h1M61 48h1M64 49h1M68 49h1M88 50h1"/>
<path stroke="#ffebeb" d="M98 0h1M104 0h2M59 3h1M45 13h1M139 17h1M36 20h1M105 24h1M94 27h2M46 28h1M88 29h2M86 31h1M82 32h1M86 32h1M88 32h1M81 35h1M83 35h1M86 36h1M83 37h1M88 38h1M88 40h1M81 42h1M88 42h1M76 44h2M84 44h1M82 45h1M85 45h2M74 46h1M59 49h1"/>
<path stroke="#ffe7e7" d="M99 1h1M111 1h1M101 5h1M1 6h1M103 8h1M57 9h1M79 16h1M55 20h1M99 28h1M82 29h1M81 30h1M81 31h1M74 36h1M78 36h1M88 36h1M88 37h1M72 45h1M64 48h1M60 50h1"/>
<path stroke="#ffe3e3" d="M69 1h1M100 7h1M13 8h1M44 10h1M37 16h1M39 19h1M137 25h1M82 28h1M91 30h1M76 34h1M89 46h1M88 47h1M65 48h1M88 48h1"/>
<path stroke="#ffdfdf" d="M98 5h1M12 11h1M83 12h1M35 17h1M39 18h1M147 19h1M29 20h1M39 20h1M56 20h1M143 20h1M88 31h2M19 32h1M89 35h1M88 43h1M89 48h1M88 49h1M58 50h1M89 50h1"/>
<path stroke="#ffdbdb" d="M63 5h1M2 6h1M64 8h1M151 8h1M19 9h1M56 9h1M63 10h1M69 10h1M112 11h1M96 13h1M127 16h1M58 23h1M84 24h1M102 24h1M78 32h1M126 36h1M68 41h1M89 44h1M60 48h1M138 50h1"/>
<path stroke="#ffd7d7" d="M108 1h1M11 3h1M34 4h1M70 4h1M105 5h1M53 8h1M158 9h1M71 10h1M26 12h1M160 14h1M53 15h1M69 15h1M86 15h1M44 17h1M154 17h1M15 19h1M87 22h1M67 23h1M107 23h1M88 34h1M75 35h1M69 40h1M67 42h1"/>
<path stroke="#ffd3d3" d="M93 1h1M60 3h1M28 7h1M5 13h1M78 14h1M99 14h1M102 14h1M102 17h1M36 18h1M40 20h1M58 22h1M74 22h1M85 23h1M88 24h1M126 24h1M139 24h1M44 26h1M101 26h1M159 27h1M89 32h1M90 35h1M89 39h1M63 45h1M89 45h1M139 49h1"/>
<path stroke="#ffcfcf" d="M69 2h1M24 4h1M87 4h1M31 6h1M58 7h1M149 13h1M25 14h1M74 16h1M47 19h1M129 19h1M134 19h1M54 20h1M56 21h1M86 22h1M101 24h1M89 30h1M44 31h1M77 33h1M89 36h1M108 36h1M137 39h1M89 41h1M144 50h1"/>
<path stroke="#ffcbcb" d="M120 3h1M148 4h1M0 5h1M106 5h1M87 6h1M153 8h1M95 9h1M124 10h1M142 11h1M44 13h1M48 13h1M105 13h1M107 14h1M147 16h1M78 18h2M4 20h1M24 20h1M144 20h1M38 22h1M151 22h1M9 24h1M33 24h1M44 24h1M157 24h1M103 26h1M45 28h1M88 28h1M89 38h2M89 40h1M61 47h1M89 47h1M90 50h1"/>
<path stroke="#ffc7c7" d="M26 0h1M99 0h1M30 1h1M92 1h1M134 2h1M92 3h1M37 4h1M30 6h1M57 6h1M72 6h1M96 6h1M132 6h1M20 11h1M47 12h1M1 13h1M46 14h1M9 15h1M107 16h1M103 17h1M86 20h1M104 20h2M28 23h1M51 23h1M6 25h1M102 26h1M83 27h1M25 29h1M90 30h1M60 33h1M89 33h1M72 37h1"/>
<path stroke="#ffc3c3" d="M86 0h1M29 1h1M70 1h1M119 1h1M11 2h1M146 2h1M146 6h1M123 7h1M12 8h1M27 9h1M75 9h1M140 9h1M73 10h1M144 10h1M159 10h1M2 11h1M21 11h1M42 12h1M96 12h1M2 13h1M143 13h1M13 14h1M60 14h1M149 14h1M138 15h1M36 17h1M152 19h1M71 20h1M47 21h1M124 21h1M32 22h1M54 24h1M44 25h1M147 25h1M42 27h1M65 27h1M82 27h1M83 28h1M91 38h1M89 42h1M92 43h1M90 44h1M62 46h1M129 47h1M137 50h1"/>
<path stroke="#ffbfbf" d="M25 0h1M16 1h1M10 2h1M71 2h1M102 2h1M115 3h1M125 3h1M129 3h1M150 5h1M156 6h1M34 7h1M15 8h1M22 10h1M29 10h1M74 10h1M132 10h1M11 11h1M79 11h1M10 12h1M31 14h1M47 14h1M61 14h1M97 14h1M82 15h1M149 15h1M53 16h1M135 19h1M153 19h1M29 21h1M43 21h1M48 21h1M91 23h1M125 24h1M150 24h1M108 25h1M41 26h1M24 29h1M95 29h1M89 34h1M102 34h1M109 34h1M107 35h2M73 36h1M101 37h1M19 39h1M68 40h1M89 43h1M130 43h1M140 43h1"/>
<path stroke="#ffbbbb" d="M50 0h1M115 1h1M159 1h1M38 4h1M72 4h1M92 6h1M95 6h1M159 6h1M105 7h1M52 8h1M82 8h1M23 10h1M84 11h1M41 12h1M113 13h1M2 14h1M26 14h1M53 17h1M66 17h1M22 19h1M100 19h1M55 21h1M125 21h1M150 22h1M152 22h1M84 23h1M105 27h1M156 27h1M81 28h1M33 30h1M102 30h1M93 34h1M91 35h1M104 35h1M89 37h1M132 37h1M125 39h1M139 40h1M67 41h1M158 42h1M91 45h1M58 46h1M121 47h1M155 47h1M160 48h1M9 49h1M89 49h1"/>
<path stroke="#ffb7b7" d="M8 1h1M22 1h1M83 2h1M133 2h1M46 3h1M82 3h1M156 3h1M63 4h1M99 4h1M61 6h1M61 8h1M144 8h2M2 9h1M58 9h1M88 10h1M1 11h1M10 11h1M60 11h1M80 11h1M93 11h1M53 12h1M150 12h1M39 13h1M56 13h1M78 13h1M84 13h1M97 13h1M11 14h1M93 15h1M8 16h1M38 16h1M59 17h1M67 17h1M40 18h1M107 19h1M72 20h1M66 21h1M116 22h1M135 22h1M10 24h1M16 25h1M55 25h1M122 27h1M90 29h1M90 31h1M95 33h1M30 34h1M103 42h1M91 43h1M150 44h1M90 45h1M25 46h1M90 46h1M128 47h1M115 50h1M139 50h1"/>
<path stroke="#ffb3b3" d="M4 0h1M27 0h1M28 1h1M12 3h1M45 3h1M62 3h1M143 4h1M130 5h1M129 6h1M14 7h1M10 10h1M68 10h1M94 10h1M141 11h1M21 13h1M79 13h1M30 14h1M142 14h1M23 15h1M19 16h1M52 16h1M8 17h1M121 17h1M74 18h1M5 19h1M150 19h1M26 20h1M126 20h1M16 21h1M42 21h1M113 21h1M35 22h1M127 22h1M80 23h1M28 24h1M42 24h1M7 25h1M20 26h1M40 26h1M100 26h1M46 29h1M115 29h1M120 30h1M59 33h1M112 35h1M50 37h1M14 39h1M112 39h1M136 39h1M55 42h1M104 42h1M133 43h1M139 43h1M146 44h1M62 45h1M99 47h1"/>
<path stroke="#ffafaf" d="M53 0h1M108 2h1M12 5h1M28 5h1M97 5h1M107 5h1M119 5h1M20 6h1M88 6h1M93 6h1M10 8h1M104 8h1M109 9h1M120 10h1M160 10h1M70 11h1M47 13h1M124 13h1M6 14h1M57 14h1M77 14h1M128 14h1M3 15h1M104 15h1M123 15h1M146 15h1M73 16h1M78 16h1M86 17h1M122 17h1M58 18h1M154 18h1M151 19h1M57 20h1M125 20h1M84 21h1M33 22h1M90 22h1M158 22h1M68 23h1M83 23h1M8 24h1M47 24h1M89 24h1M106 24h1M127 24h1M8 25h1M45 26h1M83 26h1M86 27h1M92 28h1M45 29h1M80 30h1M112 31h1M90 32h1M134 32h2M90 34h1M150 34h1M103 35h1M160 35h1M90 36h1M62 37h1M90 37h1M155 37h1M71 38h1M20 39h1M70 39h1M124 39h1M10 40h1M90 40h1M109 40h1M20 41h1M106 41h1M154 41h1M54 43h1M132 43h1M144 46h2M134 47h1M106 50h1"/>
<path stroke="#ffabab" d="M33 0h1M51 0h1M72 0h1M120 1h1M70 2h1M154 2h1M158 2h1M35 3h1M18 4h1M77 4h1M102 5h1M62 6h1M80 6h1M46 7h1M73 7h1M106 7h1M124 7h1M147 7h1M154 7h1M81 8h1M42 9h1M48 9h1M9 11h1M120 11h1M107 12h1M46 13h1M142 13h1M92 14h1M141 14h1M14 15h1M91 15h1M31 16h1M26 17h1M142 17h1M3 20h1M37 20h1M117 20h1M28 21h1M156 21h1M84 22h2M61 23h1M97 23h1M108 23h1M132 23h1M34 24h1M40 24h2M83 24h1M138 24h1M20 25h1M135 25h1M122 26h1M84 27h1M87 27h1M116 27h1M56 29h1M8 30h1M79 31h1M6 33h1M56 34h1M20 35h1M63 35h1M92 35h1M133 36h1M2 38h1M17 38h1M25 38h1M129 38h1M131 43h1M135 47h1M133 48h1M106 49h1M118 49h1M48 50h1M145 50h1"/>
<path stroke="#ffa7a7" d="M60 0h1M124 0h2M98 1h1M90 2h1M124 2h1M153 2h1M13 3h1M85 3h1M114 3h1M78 4h1M111 4h1M32 5h1M84 5h1M133 5h1M41 6h1M155 6h1M89 9h1M21 10h1M79 10h1M115 10h1M44 12h2M108 12h1M127 12h1M137 12h1M28 13h1M90 13h1M104 13h1M144 13h1M114 14h1M121 14h1M127 14h1M134 14h1M7 15h1M37 15h1M57 15h1M85 15h1M99 15h1M142 15h1M25 16h1M97 16h1M144 16h1M25 17h1M41 17h1M56 17h1M73 17h1M85 17h1M139 18h1M8 19h1M38 19h1M58 19h1M112 19h1M138 19h1M155 20h1M32 21h1M129 21h1M157 21h1M133 22h1M136 23h2M139 23h1M56 24h1M86 24h1M5 25h1M95 25h1M139 25h1M6 26h1M16 26h2M53 26h1M57 26h1M19 27h1M45 31h1M113 31h1M92 32h1M7 33h1M90 33h1M96 33h1M151 33h1M101 34h1M19 35h1M57 35h1M132 35h1M63 38h1M90 39h2M11 40h1M33 40h1M148 40h1M66 42h1M90 42h1M5 44h1M147 45h1M155 45h1M56 47h1M33 49h1M91 49h1"/>
<path stroke="#ffa3a3" d="M3 0h1M41 0h1M44 0h1M139 0h1M41 1h1M68 2h1M36 3h1M35 4h1M71 4h1M100 4h1M122 4h1M151 4h1M104 5h1M132 5h1M144 5h1M40 6h1M48 6h1M102 6h2M153 6h1M158 6h1M107 7h1M122 7h1M80 8h1M122 8h1M130 8h1M137 8h1M152 8h1M9 9h1M59 9h1M94 9h1M62 10h1M89 10h1M99 11h1M46 12h1M54 12h1M24 13h1M68 13h1M154 13h1M14 16h1M80 16h1M108 16h1M155 16h1M55 17h1M101 17h1M9 19h1M143 19h1M30 20h1M157 20h1M24 21h1M77 21h1M97 21h1M130 21h1M9 22h1M71 22h1M25 24h1M56 25h1M83 25h1M85 25h1M94 25h1M107 25h1M149 25h1M90 26h1M99 26h1M145 26h1M22 27h1M70 28h1M26 29h1M60 29h1M92 29h1M147 30h1M20 32h1M127 32h1M27 33h2M125 34h1M93 35h1M71 36h1M106 36h1M139 36h1M91 37h1M0 39h1M109 39h1M143 39h1M91 40h1M107 41h1M33 42h1M131 42h1M15 44h1M64 44h1M111 46h1M32 48h1M154 48h1M90 49h1"/>
<path stroke="#ff9f9f" d="M2 0h1M45 0h1M128 0h1M94 1h1M132 3h1M155 3h1M121 4h1M125 4h1M144 4h1M19 5h1M42 5h1M112 5h1M71 6h1M106 6h1M57 7h1M88 7h1M155 7h1M8 9h1M55 9h1M117 10h1M29 11h1M65 13h1M91 13h1M18 14h1M44 15h1M41 16h1M1 17h1M104 17h1M113 17h1M38 18h1M67 18h1M1 19h1M55 19h1M66 19h1M102 19h1M108 19h1M78 20h1M135 20h1M15 21h1M65 21h1M10 22h1M89 23h1M27 24h1M97 24h1M113 24h1M19 25h1M35 25h1M7 26h1M159 26h1M18 27h1M13 28h1M80 28h1M136 28h1M16 29h1M23 29h1M34 29h1M75 29h1M136 29h1M103 30h1M49 31h1M140 32h1M107 33h2M20 34h1M26 34h1M10 35h1M42 35h1M153 35h1M125 36h1M116 38h1M119 38h1M13 39h1M69 39h1M110 40h1M90 41h1M11 42h1M27 42h1M130 42h1M90 43h1M125 43h1M136 44h1M98 45h1M146 45h1M45 46h1M123 46h1M133 46h1M20 47h1M57 47h1M90 47h1M122 47h1M140 47h1M90 48h1M155 48h1M16 49h1M153 49h1M42 50h1M91 50h1"/>
<path stroke="#ff9b9b" d="M13 0h1M38 0h1M73 0h1M78 0h1M17 1h1M61 3h1M101 3h1M36 4h1M56 4h1M140 4h1M33 5h1M40 5h2M50 5h1M117 5h1M28 6h1M66 6h1M124 6h1M59 7h1M32 8h1M77 8h1M150 8h1M74 9h1M139 9h1M12 10h2M26 10h1M30 10h1M43 10h1M45 10h1M133 10h1M8 11h1M13 11h1M90 11h1M111 11h1M9 12h1M23 14h2M91 14h1M135 14h1M12 15h1M15 15h1M54 15h1M94 15h1M105 15h1M85 16h1M136 16h1M27 17h1M138 17h1M155 17h1M37 18h1M7 19h1M86 19h1M154 19h1M3 21h1M102 21h2M82 22h1M88 23h1M26 24h1M91 24h1M80 25h1M101 25h1M160 25h1M43 26h1M74 26h1M144 26h1M81 27h1M66 29h1M76 29h1M9 30h1M19 30h1M69 30h1M99 30h1M159 30h1M13 31h1M22 31h1M50 31h1M110 31h1M4 32h1M91 32h1M130 32h1M11 33h1M109 33h1M115 33h1M122 33h1M21 34h1M106 34h1M9 35h1M50 35h1M64 35h1M124 35h1M116 36h1M51 37h1M137 38h1M10 39h1M101 39h1M108 39h1M92 40h1M140 41h1M23 42h1M32 42h1M113 42h1M137 42h1M47 43h1M55 43h1M117 43h1M46 45h1M53 45h1M109 45h1M126 45h1M93 46h1M151 46h1M31 47h1M98 47h1M156 47h1M31 48h1M141 48h1M158 49h1M130 50h1M143 50h1"/>
<path stroke="#ff9797" d="M56 0h1M108 0h1M100 1h1M103 1h1M8 3h1M83 3h1M122 3h1M145 3h1M112 4h1M85 5h1M115 5h1M3 6h1M52 6h1M79 6h1M131 6h1M135 6h1M154 6h1M6 7h1M15 7h1M61 7h1M11 8h1M18 9h1M20 9h1M28 9h1M28 10h1M116 10h1M46 11h1M94 11h2M144 11h1M7 12h1M31 12h1M94 12h1M97 12h1M102 12h1M15 13h1M49 13h1M112 13h1M32 14h1M65 14h1M96 14h1M113 14h1M129 14h1M124 15h1M147 15h2M7 16h1M24 16h1M54 16h1M65 16h1M68 16h1M106 16h1M65 17h1M35 18h1M75 18h1M77 18h1M112 18h1M14 19h1M16 19h1M48 19h1M78 19h1M85 19h1M99 19h1M26 21h1M46 21h1M155 21h1M83 22h1M157 22h1M159 22h1M37 23h1M50 23h1M57 23h1M90 23h1M121 23h1M131 23h1M82 24h1M34 25h1M45 25h1M0 26h1M52 26h1M75 26h1M36 27h1M142 27h1M158 27h1M5 28h1M89 28h1M100 28h1M31 29h1M52 29h1M59 29h1M91 29h1M94 29h1M153 29h1M76 30h1M79 30h1M125 30h1M109 31h1M5 32h1M114 32h1M128 32h1M40 33h1M93 33h1M48 34h1M30 35h1M19 37h1M118 37h1M43 38h1M64 38h1M107 38h1M110 38h1M124 38h1M35 39h1M131 40h1M47 41h1M91 41h1M101 41h1M112 42h1M65 43h1M107 43h1M91 44h1M129 44h1M159 44h1M58 45h1M59 46h1M128 46h1M21 47h1M136 47h1M26 48h1M10 49h1M99 49h1M109 49h1M140 49h1M2 50h1M147 50h1"/>
<path stroke="#ff9393" d="M12 0h1M48 1h1M104 1h1M18 2h1M85 2h1M109 2h1M159 2h1M37 3h1M130 3h1M140 3h1M69 5h1M118 5h1M101 6h1M128 6h1M43 7h1M138 7h1M47 8h1M136 8h1M138 8h1M110 9h1M9 10h1M104 10h1M81 11h1M8 12h1M21 12h1M23 12h1M27 12h1M52 12h1M111 12h1M139 12h1M4 13h1M62 13h1M99 13h1M79 14h1M22 15h1M38 15h1M68 15h1M84 16h1M19 17h1M30 17h1M87 17h1M108 17h2M33 18h1M76 18h1M113 18h1M155 18h1M90 19h1M9 20h3M85 20h1M122 20h1M154 21h1M52 23h1M79 23h1M122 23h1M53 24h1M55 24h1M70 25h1M84 25h1M119 25h1M126 25h2M134 25h1M138 25h1M13 26h1M84 26h1M160 26h1M132 27h1M1 28h1M101 28h1M157 28h1M30 29h1M114 29h1M152 29h1M12 30h1M44 30h1M113 30h1M124 30h1M139 30h1M146 31h1M13 32h1M41 32h1M68 32h1M104 32h1M133 32h1M139 32h1M28 34h1M108 34h1M11 35h1M65 35h1M27 36h1M70 36h1M109 36h1M152 36h1M61 37h1M63 37h1M154 37h1M20 38h1M35 38h1M67 38h1M1 39h1M30 39h1M60 39h1M4 40h1M67 40h1M114 40h1M119 41h1M56 42h1M44 43h1M97 43h1M124 43h1M45 44h1M54 44h1M145 44h1M2 45h1M11 45h1M104 45h1M133 45h1M30 47h1M7 48h1M98 48h1M58 49h1M92 49h1M155 49h1M1 50h1M41 50h1M133 50h1"/>
<path stroke="#ff8f8f" d="M1 0h1M34 0h1M85 0h1M107 1h1M37 2h1M74 2h1M78 2h1M17 3h1M42 3h1M66 3h1M91 3h1M26 4h1M32 4h1M79 4h1M84 4h1M86 4h1M152 4h1M29 5h1M145 5h1M78 6h1M152 6h1M18 7h1M30 7h1M35 7h1M53 7h1M68 7h1M41 8h1M107 8h1M15 9h1M88 9h1M78 10h1M107 10h1M127 10h1M47 11h1M61 11h1M89 11h1M92 11h1M151 11h1M155 11h1M11 12h1M132 12h1M138 12h1M0 13h1M29 13h2M95 13h1M106 14h1M120 14h1M4 15h1M50 15h1M145 15h1M98 16h1M105 16h1M124 16h1M140 16h1M143 16h1M50 17h1M129 17h1M8 18h1M57 18h1M125 18h2M0 19h1M11 19h1M155 19h1M127 20h1M67 21h1M126 21h1M158 21h1M44 22h1M61 22h1M73 22h1M108 22h1M117 22h1M160 22h1M96 23h1M12 24h1M92 24h1M98 24h1M36 25h1M40 25h1M86 25h1M73 26h1M82 26h1M130 26h1M132 26h1M25 27h1M73 27h1M50 28h1M68 28h1M85 28h1M97 28h1M154 28h1M158 28h1M38 29h1M67 29h1M124 29h1M18 30h1M64 30h1M77 30h2M134 30h1M5 31h1M39 31h1M91 31h1M154 31h1M158 31h1M95 32h1M102 32h1M12 33h1M42 33h1M92 33h1M121 33h1M91 34h2M113 34h1M133 34h1M39 35h1M43 35h1M74 35h1M102 35h1M111 35h1M119 35h1M52 36h1M18 38h1M58 38h1M62 38h1M15 39h1M104 39h1M147 39h1M37 40h1M65 40h1M158 40h1M48 41h1M54 41h1M100 41h1M145 41h1M159 41h1M10 42h1M50 42h1M91 42h1M96 43h1M6 44h1M46 44h1M124 44h1M160 44h1M33 45h1M138 45h1M46 46h1M144 47h1M25 48h1M103 49h1M156 49h1M15 50h1M47 50h1M57 50h1M107 50h1M129 50h1"/>
<path stroke="#ff8b8b" d="M5 0h1M15 2h1M52 2h1M72 2h1M84 2h1M99 2h2M103 2h1M28 3h1M58 3h1M93 3h1M100 3h1M121 3h1M27 4h1M43 4h1M55 4h1M98 4h1M107 4h1M120 4h1M127 4h1M49 5h1M61 5h1M67 5h1M116 5h1M34 6h1M33 7h1M64 7h1M89 7h1M96 7h1M103 7h1M135 7h1M153 7h1M160 7h1M83 8h1M143 8h1M158 8h1M14 9h1M41 9h1M71 9h1M11 10h1M54 10h1M72 10h1M75 10h1M80 10h1M85 10h1M145 10h1M98 11h1M109 11h1M30 12h1M62 12h1M91 12h1M93 12h1M112 12h1M126 12h1M31 13h1M50 13h1M80 13h1M98 13h1M136 13h1M150 13h1M41 14h1M70 14h1M39 15h1M106 15h1M13 16h1M146 16h1M148 16h1M159 16h1M22 17h1M49 17h1M153 17h1M17 18h2M51 18h1M116 18h1M140 18h1M160 18h1M87 19h1M113 19h1M8 20h1M41 20h1M50 20h1M53 20h1M77 20h1M87 20h1M107 20h1M130 20h1M6 21h1M33 21h1M109 21h1M57 22h1M63 22h1M82 23h1M66 24h1M108 24h1M141 24h1M10 25h1M21 25h1M49 25h1M79 25h1M96 25h1M15 26h1M6 27h1M37 27h1M39 27h1M76 27h1M90 27h1M131 27h1M153 27h3M157 27h1M81 29h1M103 29h1M3 30h1M39 30h1M157 31h1M3 32h1M105 32h1M120 32h1M122 32h2M131 32h1M4 33h1M41 33h1M43 33h1M98 33h1M105 33h1M114 34h2M144 34h1M12 35h1M26 35h1M41 35h1M155 35h1M159 35h1M20 36h1M51 36h1M107 36h1M100 37h1M16 38h1M24 38h1M128 38h1M31 39h1M126 39h1M148 39h1M3 40h1M9 40h1M14 41h1M34 41h1M114 41h1M153 41h1M155 41h1M158 41h1M159 42h1M38 43h1M8 44h1M139 44h1M144 44h1M51 45h1M139 45h1M100 46h1M124 46h1M22 48h1M56 48h1M97 48h1M151 48h1M156 48h1M39 49h1M128 49h1"/>
<path stroke="#ff8787" d="M95 0h1M117 0h2M31 1h1M47 1h1M116 1h1M141 1h1M64 2h1M135 2h1M140 2h1M34 3h1M84 3h1M76 4h1M80 4h2M124 4h1M147 4h1M64 6h1M105 6h1M108 6h1M113 6h1M133 6h1M151 6h1M101 7h1M104 7h1M46 8h1M50 8h1M58 8h1M146 8h1M30 9h1M60 9h1M76 9h1M120 9h1M141 9h1M159 9h1M57 11h1M88 11h1M102 11h1M110 11h1M113 11h1M6 12h1M95 12h1M155 12h1M3 13h1M6 13h1M57 13h1M111 13h1M148 13h1M29 14h1M83 14h1M101 14h1M103 14h2M13 15h1M27 15h1M32 15h1M34 15h1M49 15h1M81 15h1M100 15h1M122 15h1M139 15h1M20 16h1M101 16h1M23 17h1M68 17h1M84 17h1M114 17h1M13 18h2M41 18h1M63 18h1M68 18h1M24 19h1M37 19h1M46 19h1M84 19h1M98 19h1M5 20h1M28 20h1M114 20h1M23 21h1M27 21h1M31 21h1M64 21h1M81 21h1M114 21h1M151 21h1M36 22h1M99 22h1M113 22h1M124 22h1M142 22h1M5 23h1M44 23h1M103 24h1M143 24h1M28 25h1M36 26h1M48 26h1M76 26h1M131 26h1M139 26h1M31 27h1M38 27h1M71 27h1M85 27h1M147 27h1M160 27h1M6 28h1M84 28h1M145 28h1M160 28h1M119 29h1M65 30h1M138 30h1M6 31h2M34 31h1M38 31h1M56 31h1M130 31h1M156 31h1M61 32h1M73 32h1M101 32h1M124 32h1M3 33h1M17 33h1M20 33h1M73 33h1M91 33h1M94 33h1M106 33h1M137 33h1M150 33h1M31 34h1M105 34h1M4 35h1M5 36h1M72 36h1M138 36h1M159 36h1M92 37h1M117 37h1M115 38h1M138 38h1M4 39h1M95 39h1M34 40h1M101 40h2M15 41h1M19 41h1M29 41h1M133 41h1M17 43h1M39 43h1M45 43h1M48 43h1M104 43h1M122 43h1M129 43h1M149 43h2M4 44h1M7 44h1M9 44h2M47 44h1M149 44h1M10 45h1M52 45h1M158 45h1M57 46h1M23 47h1M58 47h1M154 47h1M17 48h1M27 48h1M47 48h1M49 48h1M134 48h1M138 48h1M149 48h1M159 48h1M97 49h1M125 49h1M55 50h1"/>
<path stroke="#ff8383" d="M7 0h1M31 0h1M142 1h1M30 2h1M42 2h1M49 2h1M51 2h1M111 2h1M30 3h1M44 3h1M124 3h1M131 3h1M7 4h1M44 4h1M85 4h1M126 4h1M68 5h1M108 5h1M114 5h1M149 5h1M10 6h1M29 6h1M81 6h1M85 6h1M104 6h1M150 6h1M77 7h1M108 7h1M121 7h1M152 7h1M23 8h1M38 8h1M98 8h2M131 8h1M41 10h1M67 10h1M82 10h2M97 10h1M110 10h1M114 10h1M121 10h1M143 10h1M73 11h1M133 11h1M140 11h1M156 12h1M7 13h1M12 13h1M120 13h1M158 13h1M0 14h1M5 14h1M45 14h1M95 14h1M150 14h1M159 14h1M11 15h1M24 15h1M28 15h1M36 15h1M48 15h1M92 15h1M159 15h1M40 16h1M67 16h1M69 16h1M75 16h1M34 17h1M2 18h1M9 18h1M15 18h1M117 18h1M65 19h1M91 19h1M148 19h1M16 20h1M31 20h1M38 20h1M118 20h1M148 20h1M68 21h1M110 21h1M148 21h1M8 22h1M34 22h1M59 22h1M101 22h1M105 22h1M120 22h1M17 23h1M29 23h1M59 23h1M127 23h2M138 23h1M11 24h1M37 24h1M24 25h1M33 25h1M106 25h1M151 25h1M12 26h1M118 26h1M126 26h1M26 27h1M66 27h1M123 27h1M0 28h1M12 28h1M32 28h1M47 28h1M74 28h1M91 28h1M120 28h1M148 28h1M111 29h1M116 29h1M126 29h1M135 29h1M149 29h1M157 29h1M34 30h1M38 30h1M66 30h1M92 30h1M110 30h1M126 30h1M27 31h1M43 31h1M96 31h1M118 31h1M122 31h2M147 31h1M12 32h1M21 32h2M115 32h1M119 32h1M55 33h1M97 33h1M110 33h1M155 33h1M1 34h1M57 34h1M75 34h1M103 34h1M112 34h1M130 34h1M47 35h1M58 35h1M156 35h1M7 36h1M60 36h1M155 36h1M20 37h1M41 37h1M45 37h1M64 37h1M66 37h1M133 37h1M137 37h1M157 37h1M7 38h1M19 38h1M111 38h1M59 39h1M65 39h1M68 39h1M97 39h1M103 39h1M12 40h1M41 40h1M45 40h1M103 40h1M130 40h1M132 40h1M4 41h1M24 42h1M38 42h1M132 42h1M13 43h1M23 43h1M108 43h1M126 43h1M134 43h1M144 43h1M138 44h1M151 44h1M7 45h1M95 45h1M156 45h1M42 46h1M158 46h1M91 47h1M95 47h1M1 49h1M8 49h1M17 49h1M32 49h1M102 49h1M117 49h1M154 49h1M5 50h1M103 50h1"/>
<path stroke="#ff8080" d="M103 0h1M107 0h1M113 0h1M155 0h1M4 1h1M9 1h1M14 1h1M135 1h1M147 1h1M158 1h1M121 2h1M132 2h1M147 2h1M151 2h1M155 2h1M65 3h1M76 3h1M86 3h1M117 3h1M11 4h1M15 4h1M29 4h1M69 4h1M158 4h1M97 6h1M5 7h1M47 7h1M65 7h1M69 7h1M0 8h1M26 8h1M1 9h1M3 9h1M35 9h1M157 9h1M87 10h1M95 10h1M32 11h1M67 11h1M103 11h1M115 11h1M121 11h1M143 11h1M14 12h1M25 12h1M43 12h1M121 12h1M151 12h1M154 12h1M22 13h1M83 13h1M138 13h1M141 13h1M42 14h1M66 14h1M122 14h1M126 14h1M33 15h1M32 16h1M59 16h1M66 16h1M88 16h1M139 16h1M156 16h1M20 17h1M33 17h1M47 17h1M76 17h1M97 17h1M141 17h1M28 18h1M73 18h1M88 18h1M120 18h1M153 18h1M4 19h1M17 19h2M36 19h1M40 19h1M51 19h1M103 19h1M111 19h1M27 20h1M113 20h1M9 21h1M21 21h1M52 21h1M54 21h1M85 21h1M37 22h1M39 22h1M66 22h1M72 22h1M89 22h1M112 22h1M6 23h1M60 23h1M81 23h1M86 23h1M92 23h1M126 23h1M13 24h1M21 24h1M57 24h1M77 24h1M151 24h1M158 24h1M13 25h1M29 25h1M31 25h1M41 25h1M82 25h1M109 25h1M116 25h1M9 26h1M81 26h1M138 26h1M27 27h1M43 27h1M151 27h1M49 28h1M114 28h1M1 29h3M77 29h1M106 29h1M108 29h1M123 29h1M6 30h2M27 30h2M115 30h1M119 30h1M23 31h1M37 31h1M126 31h1M14 32h1M29 32h1M77 32h1M109 32h1M141 32h1M149 32h2M54 33h1M58 33h1M116 33h1M25 34h1M44 34h1M118 34h1M124 34h1M128 34h2M21 35h2M101 35h1M123 35h1M26 36h1M33 36h1M35 36h1M134 36h1M154 36h1M4 37h1M96 37h1M112 37h1M145 37h1M156 37h1M38 38h1M158 38h1M3 39h1M9 39h1M113 39h1M135 39h1M133 40h1M38 41h1M55 41h2M103 41h1M28 42h1M95 42h1M123 43h1M32 44h1M36 44h1M107 44h1M110 44h1M113 44h1M128 44h1M27 45h1M61 45h1M101 45h1M103 45h1M121 45h1M137 45h1M101 46h1M156 46h1M5 47h1M22 47h1M24 47h1M50 47h1M118 47h1M127 47h1M23 48h1M48 48h1M57 48h1M104 48h1M107 48h1M139 48h1M150 48h1M37 49h1M107 49h1"/>
<path stroke="#ff7c7c" d="M36 0h1M63 0h2M69 0h1M102 0h1M114 0h1M118 1h1M89 2h1M107 2h1M145 2h1M160 2h1M158 3h1M2 4h1M62 4h1M88 4h1M3 5h1M83 5h1M86 5h1M99 5h1M151 5h1M27 6h1M47 6h1M73 6h1M77 6h1M130 6h1M17 7h1M143 7h1M20 8h1M68 8h1M106 8h1M29 9h1M77 9h1M90 9h1M25 10h1M57 10h1M103 10h1M139 10h2M3 11h2M6 11h1M34 11h1M82 11h2M0 12h1M65 12h1M92 12h1M122 12h1M20 13h1M69 13h1M77 13h1M117 13h1M147 13h1M1 14h1M10 14h1M28 14h1M39 14h1M71 14h1M133 14h1M147 14h1M6 15h1M17 15h1M87 15h1M135 15h1M154 15h1M42 16h1M70 16h1M102 16h1M120 16h1M128 16h1M134 16h1M43 17h1M54 17h1M78 17h1M96 17h1M100 17h1M128 17h1M140 17h1M152 17h1M4 18h1M108 18h1M6 19h1M59 19h1M110 19h1M92 21h1M116 21h1M20 23h1M36 23h1M74 23h1M98 23h1M101 23h1M157 23h1M2 24h1M7 24h1M45 24h2M70 24h1M104 24h1M114 24h2M32 25h1M64 25h1M67 25h1M69 25h1M146 25h1M5 26h1M14 26h1M31 26h1M153 26h1M0 27h1M8 27h1M69 27h1M110 27h1M27 28h1M62 28h1M67 28h1M112 28h1M121 28h1M155 28h1M159 28h1M125 29h1M137 29h1M2 30h1M13 30h1M45 30h1M109 30h1M116 30h1M111 31h1M119 31h1M160 31h1M42 32h1M52 32h1M67 32h1M76 32h1M93 32h1M50 33h1M56 33h1M100 33h1M131 33h1M37 34h1M39 34h1M94 34h1M31 35h1M40 35h1M140 35h1M132 36h1M143 36h1M2 37h1M25 37h1M46 37h1M5 38h1M15 38h1M26 38h1M34 38h1M39 38h1M148 38h1M18 39h1M58 39h1M92 39h1M102 39h1M138 39h1M154 39h1M157 39h1M16 40h1M27 40h1M36 40h1M42 40h1M124 40h1M17 41h1M26 41h1M152 41h1M37 42h1M54 42h1M101 42h1M128 42h1M152 42h1M28 43h1M51 43h1M110 43h1M143 43h1M148 43h1M2 44h1M44 44h1M137 44h1M147 44h1M158 44h1M28 45h1M59 45h1M92 45h1M125 45h1M9 46h1M24 46h1M157 46h1M9 47h1M18 47h2M41 47h1M149 47h1M55 48h1M0 49h1M38 49h1M54 49h1M98 49h1M116 49h1M160 49h1M6 50h1M112 50h1M114 50h1M132 50h1M136 50h1M140 50h1M148 50h1"/>
<path stroke="#ff7878" d="M32 0h1M35 0h1M61 0h1M106 0h1M52 1h1M73 2h1M114 2h1M1 3h1M39 3h1M14 4h1M95 4h1M113 4h1M6 5h1M96 5h1M126 5h1M0 6h1M45 6h1M86 6h1M157 6h1M20 7h1M76 7h1M92 7h1M57 8h1M139 8h1M147 8h1M4 9h1M36 9h1M65 9h1M92 9h1M115 9h1M148 9h2M27 10h1M36 10h1M48 10h2M86 10h1M142 10h1M5 11h1M30 11h1M63 11h1M66 11h1M87 11h1M122 11h1M150 11h1M57 12h1M66 12h1M147 12h1M160 12h1M13 13h1M40 13h1M137 13h1M19 14h1M48 14h1M75 14h1M41 15h1M58 15h1M128 15h1M131 15h1M136 15h1M44 16h1M87 16h1M2 17h1M6 17h1M24 17h1M74 17h1M115 17h1M3 18h1M16 18h1M29 18h1M44 18h1M89 18h1M138 18h1M25 19h1M31 19h1M82 19h1M109 19h1M146 19h1M156 19h1M138 20h1M22 21h1M41 21h1M122 21h1M15 22h2M51 22h1M54 22h1M81 22h1M11 23h1M13 23h1M46 23h1M55 23h1M104 23h1M120 23h1M1 24h1M18 24h1M22 24h1M67 24h1M109 24h1M122 24h1M145 24h1M15 25h1M71 25h1M118 25h1M122 25h1M132 25h1M150 25h1M4 26h1M72 26h1M146 26h1M4 27h1M33 27h1M74 27h1M77 27h1M93 27h1M96 27h1M136 27h1M138 27h1M152 27h1M8 28h1M11 28h1M73 28h1M135 28h1M37 29h1M57 29h1M65 29h1M93 29h1M101 29h1M113 29h1M120 29h1M55 30h1M123 30h1M155 30h1M0 31h1M78 31h1M121 31h1M129 31h1M18 32h1M24 32h1M55 32h1M59 32h1M75 32h1M108 32h1M116 32h1M129 32h1M9 33h1M52 33h1M154 33h1M46 34h1M100 34h1M134 34h2M18 35h1M25 35h1M38 35h1M113 35h1M131 35h1M154 35h1M16 36h1M19 36h1M34 36h1M53 36h1M65 36h1M91 36h1M93 36h1M145 36h2M1 37h1M16 37h1M97 37h1M136 37h1M144 37h1M29 38h1M57 38h1M103 38h1M140 38h2M151 38h1M49 39h1M57 39h1M96 39h1M152 39h1M23 40h1M32 40h1M58 40h1M100 40h1M116 40h1M27 41h1M141 41h1M144 41h1M148 41h1M99 42h1M127 42h1M149 42h1M157 42h1M6 43h1M12 43h1M53 43h1M111 43h1M14 44h1M28 44h1M53 44h1M105 44h1M122 44h1M3 45h1M9 45h1M32 45h1M47 45h1M50 45h1M57 45h1M112 45h1M145 45h1M159 45h2M112 46h1M152 46h1M4 47h1M17 47h1M133 47h1M139 47h1M141 47h1M11 48h1M91 48h1M99 48h1M140 48h1M144 48h1M147 48h1M13 49h1M50 49h1M53 49h1M113 49h1M124 49h1M138 49h1M157 49h1M16 50h1M23 50h1M113 50h1M116 50h1M122 50h1M146 50h1"/>
<path stroke="#ff7474" d="M6 0h1M14 0h1M54 0h1M57 0h1M97 0h1M123 0h1M140 0h1M152 0h1M157 0h1M42 1h1M74 1h1M151 1h1M38 2h1M157 2h1M0 3h1M18 3h1M108 3h1M3 4h1M23 4h1M39 4h1M94 4h1M110 4h1M123 4h1M23 5h1M55 5h2M79 5h2M11 6h1M13 6h1M16 6h2M19 6h1M139 6h1M145 6h1M149 6h1M45 7h1M54 7h1M84 7h1M97 7h1M117 7h1M134 7h1M102 8h1M21 9h1M31 9h2M34 9h1M70 9h1M91 9h1M127 9h1M50 10h1M81 10h1M84 10h1M19 11h1M25 11h1M69 11h1M71 11h1M128 11h2M130 12h2M146 12h1M37 13h1M116 13h1M128 13h1M44 14h1M58 14h1M80 14h1M111 14h1M52 15h1M73 15h1M83 15h1M107 15h1M23 16h1M28 16h1M60 16h1M130 16h1M145 16h1M9 17h1M42 17h1M52 17h1M77 17h1M130 17h1M22 18h1M45 18h1M111 18h1M10 19h1M21 19h1M23 19h1M133 19h1M70 20h1M116 20h1M150 20h1M153 20h1M158 20h1M17 21h1M36 21h1M51 21h1M69 21h1M117 21h1M123 21h1M21 22h1M62 22h1M64 22h1M88 22h1M91 22h1M102 22h1M153 22h1M49 23h1M130 23h1M87 24h1M160 24h1M0 25h1M30 25h1M48 25h1M98 25h1M155 25h2M42 26h1M56 26h1M142 26h1M152 26h1M47 27h1M80 27h1M117 27h1M65 28h1M71 28h1M133 28h1M27 29h1M112 29h1M129 29h1M100 30h1M112 30h1M8 31h1M153 31h1M159 31h1M62 32h1M138 32h1M0 33h1M21 33h1M34 33h1M44 33h1M51 33h1M67 33h1M140 33h1M160 33h1M47 34h1M64 34h1M117 34h1M139 34h1M158 34h1M7 35h1M13 35h1M48 35h1M51 35h1M4 36h1M8 36h1M32 36h1M47 36h1M115 36h1M153 36h1M71 37h1M3 38h1M10 38h1M13 38h1M28 38h1M104 38h3M118 38h1M38 39h1M121 39h1M129 39h1M144 39h1M19 40h1M142 40h1M16 41h1M53 41h1M95 41h1M102 41h1M118 41h1M132 41h1M157 41h1M8 42h1M39 42h1M45 42h1M94 42h1M129 42h1M138 42h1M148 42h1M26 43h1M60 43h1M93 43h1M109 43h1M116 43h1M118 43h1M127 43h1M141 43h1M27 44h1M37 44h1M57 44h1M8 45h1M113 45h1M132 45h1M134 45h1M151 45h1M55 46h1M141 46h1M146 46h1M1 47h1M3 47h1M6 47h1M25 47h1M40 47h1M42 47h2M60 47h1M94 47h1M148 48h1M11 49h1M27 49h1M119 49h1M127 49h1M131 49h1M7 50h1M24 50h1M29 50h1M49 50h1M110 50h1M152 50h2"/>
<path stroke="#ff7070" d="M39 0h1M74 0h1M145 0h1M148 0h1M158 0h1M25 1h1M71 1h1M79 1h1M95 1h1M146 1h1M58 2h1M79 2h1M141 2h1M152 2h1M40 3h2M81 3h1M105 3h1M159 3h1M0 4h1M30 4h1M61 4h1M119 4h1M8 5h1M66 5h1M111 5h1M141 5h1M33 6h1M53 6h1M58 6h1M109 6h1M112 6h1M120 6h1M0 7h1M38 7h1M70 7h1M99 7h1M9 8h1M33 8h1M67 8h1M116 8h1M0 9h1M47 9h1M68 9h1M124 9h1M20 10h1M123 10h1M138 10h1M141 10h1M97 11h1M139 11h1M154 11h1M68 12h1M75 12h1M84 12h1M136 12h1M159 12h1M16 13h1M55 13h1M66 13h1M15 14h1M54 14h1M139 14h1M155 14h1M10 15h1M76 16h1M151 16h1M160 16h1M45 17h1M75 17h1M151 17h1M27 18h1M80 18h1M85 18h1M132 18h1M151 18h1M35 20h1M42 20h1M92 20h1M124 20h1M129 20h1M147 20h1M39 21h2M60 21h1M82 21h1M140 21h1M13 22h1M65 22h1M131 22h1M138 22h1M14 23h1M27 23h1M64 23h1M66 23h1M116 23h1M144 23h1M154 23h1M19 24h1M128 24h1M130 24h1M17 25h1M37 25h1M76 25h1M81 25h1M99 25h1M128 25h1M152 25h1M8 26h1M37 26h1M93 26h2M98 26h1M137 26h1M151 26h1M2 27h1M28 27h1M34 27h1M64 27h1M104 27h1M133 27h1M143 27h1M26 28h1M44 28h1M61 28h1M90 28h1M151 28h1M153 28h1M0 29h1M47 29h1M72 29h1M110 29h1M25 30h1M31 30h1M53 30h1M153 30h1M4 31h1M14 31h1M51 31h1M140 31h1M11 32h1M53 32h1M19 33h1M61 33h1M71 33h1M76 33h1M156 33h1M42 34h1M63 34h1M122 34h1M142 34h1M3 35h1M17 35h1M49 35h1M54 35h1M67 35h1M106 35h1M118 35h1M125 35h1M136 35h1M6 36h1M10 36h1M15 36h1M36 36h1M41 36h1M97 36h1M124 36h1M130 36h1M5 37h1M65 37h1M93 37h1M102 37h1M119 37h1M123 37h2M141 37h1M151 37h1M4 38h1M66 38h1M92 38h1M123 38h1M16 39h1M48 39h1M98 39h1M134 39h1M151 39h1M2 40h1M24 40h1M46 40h1M62 40h1M66 40h1M113 40h1M115 40h1M8 41h1M24 41h1M30 41h1M156 41h1M7 42h1M12 42h1M26 42h1M29 42h1M51 42h1M98 42h1M114 42h1M147 42h1M153 42h1M27 43h1M46 43h1M50 43h1M103 43h1M115 43h1M142 43h1M31 44h1M33 44h1M56 44h1M118 44h1M153 44h1M12 45h2M114 45h1M148 45h1M28 46h2M91 46h2M108 46h1M127 46h1M134 46h1M0 47h1M2 47h1M12 47h3M45 47h1M92 47h1M153 47h1M0 48h1M36 48h1M152 48h1M12 49h1M14 49h1M105 49h1M110 49h1M134 49h1M4 50h1M43 50h1M94 50h1M134 50h1M157 50h1"/>
<path stroke="#ff6c6c" d="M18 0h1M92 0h1M116 0h1M143 0h1M154 0h1M5 1h1M38 1h1M57 1h1M31 2h1M65 2h1M101 2h1M112 2h1M115 2h1M156 2h1M9 3h1M14 3h1M110 3h1M160 4h1M7 5h1M39 5h1M76 5h1M103 5h1M113 5h1M127 5h1M25 6h1M63 6h1M44 7h1M56 7h1M72 7h1M114 7h1M18 8h1M37 8h1M49 8h1M63 8h1M157 8h1M33 9h1M49 9h1M63 9h1M72 9h1M103 9h1M111 9h1M24 10h1M119 10h1M158 10h1M35 11h1M72 11h1M147 11h1M48 12h1M89 12h1M114 12h1M153 12h1M67 13h1M74 13h1M76 13h1M114 13h1M129 13h1M131 13h1M145 13h1M155 13h1M14 14h1M33 14h1M108 14h1M146 14h1M152 14h1M18 15h1M55 15h1M61 15h1M137 15h1M4 16h1M61 16h1M123 16h1M154 16h1M0 17h1M5 17h1M60 17h1M81 17h1M92 17h1M120 17h1M1 18h1M12 18h1M23 18h1M42 18h1M71 18h1M107 18h1M70 19h2M77 19h1M94 19h1M104 19h1M122 19h1M73 20h1M121 20h1M123 20h1M145 20h1M149 20h1M87 21h1M20 22h1M23 22h1M31 22h1M50 22h1M55 22h1M67 22h1M70 22h1M98 22h1M109 22h1M126 22h1M149 22h1M12 23h1M16 23h1M21 23h1M43 23h1M125 23h1M129 23h1M133 23h1M29 24h1M38 24h1M51 24h1M90 24h1M144 24h1M9 25h1M125 25h1M140 25h1M153 25h2M18 26h1M1 27h1M15 27h1M29 27h1M32 27h1M68 27h1M70 27h1M72 27h1M139 27h1M150 27h1M64 28h1M69 28h1M93 28h1M113 28h1M33 29h1M35 29h1M100 29h1M107 29h1M109 29h1M130 29h1M150 29h1M14 30h1M40 30h1M49 30h1M63 30h1M96 30h1M148 30h1M160 30h1M3 31h1M33 31h1M23 32h1M28 32h1M45 32h1M74 32h1M113 32h1M5 33h1M8 33h1M10 33h1M39 33h1M49 33h1M128 33h1M138 33h1M141 33h1M45 34h1M107 34h1M138 34h1M159 34h1M8 35h1M62 35h1M70 35h1M105 35h1M158 35h1M13 36h1M30 36h1M42 36h1M92 36h1M96 36h1M99 36h2M102 36h1M111 36h1M3 37h1M67 37h1M98 37h2M14 38h1M40 38h1M65 38h1M122 38h1M127 38h1M11 39h1M100 39h1M105 39h1M123 39h1M48 40h1M56 40h1M140 40h1M157 40h1M33 41h1M60 41h1M115 41h1M151 41h1M100 42h1M101 43h2M153 43h1M3 44h1M106 44h1M119 44h1M121 44h1M135 44h1M38 45h1M94 45h1M106 45h1M144 45h1M10 46h1M41 46h1M43 46h1M54 46h1M104 47h2M46 48h1M59 48h1M92 48h1M146 48h1M34 49h1M36 49h1M120 49h2M28 50h1M40 50h1M52 50h1M93 50h1"/>
<path stroke="#ff6868" d="M30 0h1M49 0h1M87 0h1M101 0h1M126 0h1M133 1h1M1 2h1M48 2h1M50 2h1M53 2h1M59 2h1M96 2h1M125 2h1M143 2h1M149 2h1M25 3h1M47 3h1M63 3h1M71 3h1M160 3h1M8 4h1M25 4h1M50 4h1M106 4h1M145 4h1M157 4h1M1 5h1M9 5h1M18 5h1M128 5h1M4 6h1M49 6h1M60 6h1M74 6h1M94 6h1M125 6h1M19 7h1M37 7h1M74 7h1M113 7h1M78 8h1M148 8h1M12 9h1M16 9h1M96 9h1M125 9h2M146 9h1M8 10h1M93 10h1M102 10h1M128 10h1M7 11h1M38 11h1M68 11h1M100 11h1M149 11h1M5 12h1M106 12h1M27 13h1M32 13h1M61 13h1M63 13h1M70 13h1M73 13h1M106 13h1M38 14h1M2 15h1M5 15h1M98 15h1M18 16h1M39 16h1M64 16h1M113 16h1M117 16h1M137 16h1M3 17h1M21 17h1M119 17h1M91 18h1M109 18h1M121 18h1M141 18h1M142 19h1M144 19h1M160 19h1M32 20h1M89 20h3M97 20h1M83 21h1M89 21h1M133 21h1M142 21h1M28 22h1M75 22h1M121 22h1M47 23h1M100 23h1M119 23h1M32 24h1M73 24h1M100 24h1M133 24h1M137 24h1M142 24h1M103 25h1M117 25h1M159 25h1M21 26h1M23 26h2M125 26h1M136 26h1M35 27h1M51 27h1M53 27h1M135 27h1M148 27h1M42 28h1M58 28h1M105 28h2M123 28h1M134 28h1M15 29h1M78 29h1M143 29h1M158 29h1M30 30h1M32 30h1M52 30h1M75 30h1M97 30h1M101 30h1M20 31h1M26 31h1M31 31h1M46 31h1M74 31h1M120 31h1M127 31h1M137 31h1M6 32h1M58 32h1M60 32h1M64 32h1M94 32h1M96 32h1M132 32h1M36 33h1M53 33h1M114 33h1M132 33h1M148 33h1M159 33h1M36 34h1M55 34h1M141 34h1M143 34h1M151 34h1M5 35h2M29 35h1M53 35h1M68 35h1M146 35h1M0 36h1M28 36h2M46 36h1M105 36h1M117 36h1M127 36h1M140 36h1M144 36h1M151 36h1M6 37h2M22 37h1M26 37h1M33 37h1M40 37h1M44 37h1M57 37h1M95 37h1M138 37h1M160 37h1M6 38h1M21 38h2M59 38h1M121 38h1M144 38h1M32 39h1M36 39h1M117 39h1M132 39h1M140 39h1M155 39h1M26 40h1M38 40h1M57 40h1M143 40h1M152 40h2M3 41h1M23 41h1M59 41h1M92 41h1M120 41h1M123 41h1M15 42h1M61 42h1M61 43h1M113 43h1M159 43h1M1 44h1M11 44h1M25 44h1M108 44h1M117 44h1M123 44h1M140 44h1M154 44h1M6 45h1M39 45h1M60 45h1M97 45h1M115 45h1M127 45h1M5 46h1M8 46h1M26 46h1M122 46h1M32 47h1M51 47h1M55 47h1M152 47h1M28 48h1M106 48h1M22 49h1M114 49h2M14 50h1M17 50h1M102 50h1M128 50h1M135 50h1"/>
<path stroke="#ff6464" d="M11 0h1M24 0h1M83 0h1M136 0h1M7 1h1M13 1h1M15 1h1M20 1h1M56 1h1M91 1h1M102 1h1M112 1h1M134 1h1M152 1h1M156 1h1M160 1h1M17 2h1M39 2h1M88 2h1M120 2h1M10 3h1M107 3h1M118 3h1M123 3h1M128 3h1M153 3h1M19 4h1M13 5h1M20 5h1M60 5h1M135 5h1M152 5h1M159 5h1M39 6h1M46 6h1M118 6h1M123 6h1M140 6h1M147 6h1M36 7h1M52 7h1M83 7h1M93 7h1M148 7h1M1 8h1M62 8h1M65 8h1M76 8h1M142 8h1M13 9h1M40 9h1M45 9h1M64 9h1M131 9h1M64 10h1M76 10h1M125 10h1M137 10h1M148 10h1M96 11h1M37 12h1M69 12h1M110 12h1M113 12h1M125 12h1M36 13h1M38 13h1M75 13h1M93 13h1M100 13h1M27 14h1M35 14h1M81 14h1M86 14h2M105 14h1M130 14h1M70 15h1M110 15h1M119 15h1M36 16h1M45 16h1M131 16h1M7 17h1M12 17h1M69 17h1M118 17h1M160 17h1M26 18h1M72 18h1M87 18h1M90 18h1M152 18h1M157 19h1M46 20h1M58 20h1M108 20h1M112 20h1M128 20h1M142 20h1M10 21h1M49 21h1M57 21h1M59 21h1M61 21h1M63 21h1M141 21h1M152 21h1M22 22h1M25 22h1M78 22h1M128 22h1M132 22h1M137 22h1M141 22h1M69 23h1M93 23h1M103 23h1M146 23h1M149 23h1M39 24h1M156 24h1M27 25h1M100 25h1M121 25h1M133 25h1M58 26h1M89 26h1M117 26h1M141 26h1M143 26h1M102 27h1M121 27h1M124 27h1M9 28h1M23 28h2M33 28h1M63 28h1M141 28h1M144 28h1M8 29h1M17 29h1M29 29h1M39 29h1M154 29h1M0 30h1M26 30h1M56 30h1M68 30h1M94 30h2M114 30h1M117 30h1M121 30h1M131 30h1M152 30h1M1 31h1M12 31h1M21 31h1M36 31h1M77 31h1M155 31h1M0 32h1M46 32h1M158 32h1M35 33h1M57 33h1M143 33h1M14 34h1M27 34h1M43 34h1M59 34h1M74 34h1M149 34h1M44 35h1M56 35h1M98 35h1M110 35h1M147 35h1M9 36h1M21 36h1M61 36h1M64 36h1M94 36h1M131 36h1M0 37h1M17 37h1M23 37h1M34 37h1M42 37h1M58 37h1M60 37h1M122 37h1M148 37h1M32 38h2M56 38h1M93 38h1M100 38h1M139 38h1M2 39h1M17 39h1M64 39h1M94 39h1M130 39h1M153 39h1M156 39h1M158 39h1M17 40h2M20 40h1M29 40h1M43 40h1M49 40h1M117 40h1M149 40h1M35 41h1M57 41h1M61 41h1M66 41h1M113 41h1M142 41h1M0 42h1M36 42h1M133 42h1M143 42h1M3 43h1M7 43h1M40 44h1M111 44h1M114 44h1M1 45h1M14 45h1M18 45h1M24 45h2M31 45h1M49 45h1M54 45h1M96 45h1M102 45h1M143 45h1M4 46h1M15 46h1M44 46h1M51 46h1M121 46h1M16 47h1M124 47h1M52 48h1M114 48h1M157 48h1M5 49h1M23 49h1M51 49h1M100 49h1M104 49h1M108 49h1M8 50h1M54 50h1M92 50h1M105 50h1M127 50h1M154 50h1M158 50h1"/>
<path stroke="#ff6060" d="M43 0h1M52 0h1M81 0h1M100 0h1M138 0h1M35 1h1M80 1h1M132 1h1M136 1h1M0 2h1M43 2h1M150 2h1M52 3h1M55 3h1M77 3h1M94 3h1M96 3h1M53 4h1M14 5h1M75 5h1M87 5h1M90 5h1M136 5h1M160 5h1M8 6h1M24 6h1M42 6h1M111 6h1M136 6h1M160 6h1M1 7h1M9 7h2M62 7h1M132 7h1M141 7h1M3 8h1M7 8h1M39 8h1M87 8h1M119 8h1M121 8h1M133 8h1M69 9h1M80 9h1M87 9h1M114 9h1M123 9h1M130 9h1M136 9h1M42 10h1M53 10h1M60 10h1M111 10h1M126 10h1M50 11h1M74 11h1M76 11h1M91 11h1M132 11h1M72 12h1M14 13h1M23 13h1M85 13h1M135 13h1M153 13h1M34 14h1M56 14h1M140 14h1M148 14h1M154 14h1M51 15h1M60 15h1M66 15h1M72 15h1M90 15h1M121 15h1M143 15h1M5 16h1M10 16h1M46 16h1M77 16h1M109 16h1M133 16h1M135 16h1M13 17h1M18 17h1M58 17h1M72 17h1M123 17h1M134 17h1M93 18h1M159 18h1M79 19h1M131 19h1M158 19h1M93 20h1M119 20h1M136 20h1M88 21h1M112 21h1M145 21h1M77 22h1M106 22h2M156 22h1M0 24h1M52 24h1M72 25h1M97 25h1M102 25h1M115 25h1M2 26h1M10 26h1M54 26h2M77 26h1M147 26h1M158 26h1M40 27h1M52 27h1M89 27h1M106 27h2M111 27h1M20 28h1M111 28h1M139 28h1M42 29h1M43 30h1M50 30h1M54 30h1M98 30h1M108 30h1M127 30h1M146 30h1M19 31h1M24 31h1M48 31h1M70 31h1M114 31h1M128 31h1M112 32h1M68 33h1M99 33h1M149 33h1M0 34h1M2 34h1M5 34h1M24 34h1M40 34h1M60 34h3M104 34h1M131 34h1M27 35h1M66 35h1M157 35h1M11 36h1M14 36h1M23 36h2M31 36h1M50 36h1M56 36h1M63 36h1M110 36h1M24 37h1M28 37h1M59 37h1M107 37h1M111 37h1M113 37h1M116 37h1M129 37h1M140 37h1M146 37h1M1 38h1M8 38h1M27 38h1M44 38h1M46 38h1M68 38h1M120 38h1M8 39h1M34 39h1M37 39h1M50 39h1M54 39h1M67 39h1M120 39h1M146 39h1M0 40h1M28 40h1M63 40h1M96 40h1M123 40h1M125 40h1M28 41h1M31 41h1M40 41h1M108 41h1M117 41h1M139 41h1M9 42h1M44 42h1M64 42h1M105 42h1M2 43h1M18 43h1M112 43h1M114 43h1M138 43h1M151 43h1M22 44h2M17 45h1M21 45h1M120 45h1M128 45h1M140 45h1M142 45h1M3 46h1M94 46h1M96 46h1M46 47h1M106 47h1M117 47h1M18 48h1M21 48h1M96 48h1M118 48h1M153 48h1M21 49h1M40 49h1M42 49h1M96 49h1M152 49h1M12 50h1M20 50h1"/>
<path stroke="#ff5c5c" d="M0 0h1M40 0h1M71 0h1M79 0h1M84 0h1M89 0h1M18 1h1M62 1h1M75 1h1M78 1h1M121 1h1M125 1h1M4 2h1M24 2h1M32 2h2M60 2h1M82 2h1M127 2h1M144 2h1M27 3h1M32 3h2M53 3h1M69 3h1M74 3h1M89 3h1M119 3h1M157 3h1M1 4h1M16 4h1M103 4h1M108 4h1M149 4h1M155 4h1M11 5h1M46 5h1M48 5h1M54 5h1M124 5h2M7 6h1M119 6h1M134 6h1M39 7h1M71 7h1M85 7h1M156 7h1M42 8h1M154 8h1M159 8h1M5 9h1M116 9h1M142 9h1M0 10h1M33 11h1M48 11h1M54 11h1M56 11h1M78 11h1M114 11h1M159 11h1M32 12h1M35 12h1M61 12h1M76 12h1M98 12h1M43 13h1M130 13h1M156 13h1M16 14h2M53 14h1M72 14h1M76 14h1M84 14h1M16 15h1M40 15h1M56 15h1M101 15h1M103 15h1M126 15h2M155 15h1M43 16h1M71 16h1M48 17h1M5 18h1M7 18h1M32 18h1M52 18h1M2 19h1M54 19h1M83 19h1M7 20h1M84 20h1M115 20h1M5 21h1M19 21h1M62 21h1M115 21h1M121 21h1M134 21h1M60 22h1M68 22h1M38 23h1M75 23h1M156 23h1M20 24h1M48 24h1M59 24h1M65 24h1M74 24h1M93 24h1M99 24h1M118 24h1M154 24h1M18 25h1M105 25h1M129 25h1M1 26h1M30 26h1M67 26h1M95 26h1M135 26h1M24 27h1M30 27h1M41 27h1M46 27h1M130 27h1M141 27h1M115 28h1M137 28h1M13 29h1M28 29h1M104 29h1M142 29h1M156 29h1M159 29h1M15 30h1M70 30h1M141 30h1M154 30h1M156 30h1M158 30h1M2 31h1M55 31h1M73 31h1M95 31h1M97 31h1M102 31h2M8 32h1M99 32h1M125 32h1M37 33h1M64 33h1M101 33h1M117 33h2M142 33h1M145 33h1M4 34h1M15 34h1M49 34h1M96 34h1M119 34h1M2 35h1M14 35h1M34 35h1M69 35h1M99 35h1M120 35h1M139 35h1M12 36h1M98 36h1M156 36h1M18 37h1M27 37h1M94 37h1M158 37h1M9 38h1M102 38h1M125 38h1M132 38h1M154 38h1M29 39h1M47 39h1M107 39h1M1 40h1M22 40h1M54 40h2M61 40h1M37 41h1M51 41h1M62 41h1M143 41h1M14 42h1M20 42h2M49 42h1M60 42h1M63 42h1M96 42h1M125 42h1M156 42h1M31 43h1M26 44h1M30 44h1M48 44h1M51 44h1M92 44h1M120 44h1M155 44h1M157 44h1M26 45h1M41 45h1M157 45h1M47 46h2M61 46h1M95 46h1M99 46h1M104 46h1M118 46h1M135 46h1M15 47h1M44 47h1M103 47h1M111 47h1M113 47h1M143 47h1M6 48h1M24 48h1M43 48h1M50 48h1M115 48h1M119 48h1M126 48h1M26 49h1M56 49h1M148 49h1M159 49h1M22 50h1M44 50h2M109 50h1M126 50h1M142 50h1"/>
<path stroke="#ff5858" d="M19 0h1M66 0h1M90 0h1M137 0h1M144 0h1M159 0h1M36 1h1M88 1h1M36 2h1M110 2h1M38 3h1M43 3h1M51 3h1M54 3h1M102 3h1M109 3h1M146 3h1M47 4h1M67 4h1M75 4h1M91 4h1M117 4h1M134 4h2M159 4h1M2 5h1M17 5h1M34 5h1M100 5h1M134 5h1M12 6h1M21 6h1M69 6h1M127 6h1M23 7h1M55 7h1M137 7h1M139 7h1M142 7h1M159 7h1M108 8h2M141 8h1M11 9h1M52 9h1M119 9h1M134 9h2M134 10h1M106 11h1M116 11h1M13 12h1M115 12h1M123 12h1M133 12h1M92 13h1M125 13h1M49 14h1M51 14h1M94 14h1M100 14h1M136 14h1M156 14h1M35 15h1M43 15h1M84 15h1M158 15h1M11 16h1M51 16h1M104 16h1M132 16h1M4 17h1M17 17h1M40 17h1M93 17h1M146 17h1M81 18h1M94 18h1M50 19h1M74 19h1M139 19h1M45 20h1M65 20h1M120 20h1M137 20h1M25 21h1M34 21h1M37 21h1M143 21h1M146 21h1M69 22h1M110 22h2M15 23h1M25 23h1M94 24h1M112 24h1M149 24h1M25 25h1M123 25h1M131 25h1M145 25h1M3 26h1M11 26h1M71 26h1M116 26h1M121 26h1M16 27h1M23 27h1M103 27h1M113 27h1M137 27h1M140 27h1M25 28h1M41 28h1M43 28h1M54 28h1M102 28h1M150 28h1M7 29h1M32 29h1M55 29h1M61 29h1M71 29h1M160 29h1M47 30h1M60 30h1M137 30h1M9 31h1M25 31h1M32 31h1M57 31h1M117 31h1M30 32h1M38 32h1M72 32h1M100 32h1M144 32h1M15 33h1M18 33h1M29 33h1M65 33h1M72 33h1M144 33h1M41 34h1M54 34h1M71 34h1M132 34h1M147 34h1M55 35h1M109 35h1M2 36h1M148 36h1M158 36h1M108 37h1M23 38h1M31 38h1M36 38h1M61 38h1M94 38h1M126 38h1M145 38h1M152 38h1M43 39h1M127 39h1M133 39h1M160 39h1M25 40h1M40 40h1M53 40h1M59 40h1M64 40h1M97 40h1M99 40h1M108 40h1M119 40h1M129 40h1M144 40h1M151 40h1M9 41h1M13 41h1M21 41h1M32 41h1M39 41h1M52 41h1M124 41h1M137 41h1M5 42h1M40 42h1M53 42h1M62 42h1M102 42h1M124 42h1M5 43h1M8 43h1M35 43h1M43 43h1M100 43h1M128 43h1M160 43h1M24 44h1M29 44h1M43 44h1M55 44h1M37 45h1M56 45h1M99 45h1M6 46h1M12 46h2M52 46h2M139 46h1M11 47h1M93 47h1M96 47h1M114 47h1M125 47h2M10 48h1M40 48h1M122 48h1M127 48h1M143 48h1M25 49h1M28 49h1M35 49h1M57 49h1M93 49h1M130 49h1M144 49h1M147 49h1M37 50h2M46 50h1M97 50h1M100 50h1M111 50h1M131 50h1M149 50h1"/>
<path stroke="#ff5454" d="M59 0h1M80 0h1M109 0h1M131 0h1M46 1h1M68 1h1M126 1h1M80 2h1M86 2h1M148 2h1M139 3h1M118 4h1M139 4h1M4 5h1M15 5h1M27 5h1M47 5h1M78 5h1M120 5h1M140 5h1M148 5h1M26 6h1M117 6h1M121 6h1M60 7h1M118 7h1M125 7h1M136 7h1M151 7h1M19 8h1M84 8h1M117 8h1M123 8h1M127 8h1M46 9h1M54 9h1M82 9h1M143 9h1M4 10h1M31 10h1M96 10h1M98 10h1M131 10h1M75 11h1M148 11h1M156 11h1M158 11h1M36 12h1M51 12h1M55 12h1M80 12h1M82 12h1M86 12h1M88 12h1M103 12h1M109 12h1M128 12h1M145 12h1M157 12h1M71 13h1M119 13h1M146 13h1M160 13h1M3 14h1M50 14h1M21 15h1M31 15h1M109 15h1M134 15h1M86 16h1M64 17h1M79 17h1M59 18h1M148 18h1M156 18h1M137 19h1M6 20h1M98 20h1M111 20h1M140 20h1M146 20h1M152 20h1M4 21h1M18 21h1M38 21h1M96 21h1M135 21h1M2 22h1M24 22h1M47 22h1M119 22h1M123 22h1M8 23h1M10 23h1M22 23h1M48 23h1M71 23h1M140 23h1M123 24h1M2 25h2M43 25h1M61 25h1M19 26h1M34 26h1M63 26h1M86 26h1M110 26h2M50 27h1M67 27h1M112 27h1M122 28h1M138 28h1M156 28h1M12 29h1M64 29h1M134 29h1M11 30h1M37 30h1M59 30h1M74 30h1M142 30h1M16 31h1M75 31h1M100 31h1M105 31h2M142 31h1M1 32h2M25 32h1M69 32h1M103 32h1M121 32h1M146 32h1M155 32h1M159 32h1M14 33h1M16 33h1M70 33h1M104 33h1M123 33h1M152 33h1M8 34h1M13 34h1M23 34h1M32 34h1M58 34h1M68 34h1M116 34h1M145 34h1M1 35h1M16 35h1M23 35h1M52 35h1M60 35h1M143 35h1M152 35h1M1 36h1M59 36h1M62 36h1M95 36h1M103 36h1M137 36h1M142 36h1M8 37h1M37 37h2M139 37h1M12 38h1M51 38h1M70 38h1M108 38h1M117 38h1M130 38h1M136 38h1M142 38h1M7 39h1M12 39h1M23 39h2M53 39h1M114 39h1M139 39h1M145 39h1M6 40h1M121 40h1M5 41h1M43 41h1M96 41h1M111 41h1M116 41h1M122 41h1M1 42h1M6 42h1M16 42h1M22 42h1M30 42h1M115 42h1M120 42h1M142 42h1M22 43h1M25 43h1M30 43h1M56 43h1M121 43h1M16 44h1M35 44h1M52 44h1M133 44h1M141 44h1M4 45h1M42 45h1M105 45h1M116 45h1M21 46h1M30 46h1M60 46h1M102 47h1M130 47h1M145 47h1M148 47h1M160 47h1M1 48h1M33 48h1M53 48h2M120 48h1M125 48h1M131 48h1M142 48h1M4 49h1M29 49h2M47 49h1M135 49h1M13 50h1M21 50h1M25 50h1M39 50h1M101 50h1"/>
<path stroke="#ff5050" d="M55 0h1M62 0h1M149 0h1M156 0h1M73 1h1M101 1h1M128 1h1M16 2h1M27 2h1M91 2h1M139 2h1M142 2h1M57 3h1M95 3h1M111 3h1M126 3h1M90 4h1M37 5h1M95 5h1M35 6h1M56 6h1M70 6h1M107 6h1M143 6h1M40 7h1M112 7h1M131 7h1M140 7h1M4 8h1M40 8h1M69 8h1M85 8h1M118 8h1M129 8h1M37 9h1M16 10h1M35 10h1M77 10h1M37 11h1M49 11h1M62 11h1M101 11h1M126 11h1M145 11h1M152 11h1M15 12h1M90 12h1M158 12h1M72 13h1M86 13h1M134 13h1M9 14h1M55 14h1M74 14h1M82 14h1M46 15h1M80 15h1M120 15h1M150 15h1M49 16h1M72 16h1M89 17h1M105 17h1M144 17h1M34 18h1M47 18h1M64 18h1M122 18h1M131 18h1M114 19h1M123 19h1M128 19h1M149 19h1M2 20h1M63 20h2M2 21h1M30 21h1M90 21h1M127 21h1M100 22h1M130 22h1M136 22h1M148 22h1M4 23h1M7 23h1M9 23h1M32 23h1M155 23h1M54 25h1M68 25h1M104 25h1M66 26h1M78 26h1M104 26h1M154 26h1M62 27h1M149 27h1M7 28h1M16 28h2M142 28h1M48 29h1M53 29h1M73 29h2M96 29h1M102 29h1M148 29h1M36 30h1M41 30h1M46 30h1M67 30h1M10 31h1M40 31h1M54 31h1M66 31h1M134 31h1M141 31h1M145 31h1M31 32h1M117 32h1M136 32h1M148 32h1M154 32h1M45 33h1M66 33h1M126 33h2M146 33h1M22 34h1M38 34h1M69 34h1M123 34h1M140 34h1M36 35h1M71 35h1M135 35h1M54 36h2M101 36h1M160 36h1M9 37h1M11 37h1M15 37h1M43 37h1M49 37h1M120 37h1M131 37h1M11 38h1M30 38h1M53 38h1M149 38h1M6 39h1M61 39h1M106 39h1M118 39h1M131 39h1M5 40h1M95 40h1M18 41h1M48 42h1M106 42h1M4 43h1M14 43h1M29 43h1M40 43h1M49 43h1M95 43h1M98 43h1M95 44h1M125 44h1M152 44h1M30 45h1M43 45h1M48 45h1M93 45h1M123 45h1M152 45h1M154 45h1M11 46h1M22 46h1M38 46h1M56 46h1M103 46h1M129 46h1M136 46h1M29 47h1M39 47h1M97 47h1M8 48h1M13 48h1M16 48h1M105 48h1M108 48h1M121 48h1M15 49h1M20 49h1M149 49h1M3 50h1M32 50h1M104 50h1"/>
<path stroke="#ff4c4c" d="M127 0h1M153 0h1M26 1h1M51 1h1M58 1h1M72 1h1M85 1h1M117 1h1M153 1h1M77 2h1M119 2h1M123 2h1M68 3h1M88 3h1M143 3h1M154 3h1M89 4h1M133 4h1M137 4h2M156 4h1M22 5h1M45 5h1M82 5h1M155 5h1M54 6h1M27 7h1M42 7h1M86 7h1M120 7h1M133 7h1M21 8h1M54 8h1M75 8h1M39 9h1M145 9h1M150 9h1M153 9h1M19 10h1M105 10h1M118 10h1M15 11h1M22 11h1M119 11h1M136 11h1M120 12h1M124 12h1M142 12h1M149 12h1M94 13h1M7 14h1M89 14h2M25 15h1M45 15h1M47 15h1M67 15h1M95 15h2M111 15h1M141 15h1M48 16h1M116 16h1M126 16h1M158 16h1M70 17h1M90 17h1M143 17h1M147 17h1M0 18h1M43 18h1M30 19h1M61 19h1M69 19h1M97 19h1M127 19h1M33 20h1M47 20h1M88 20h1M131 20h1M0 21h1M70 21h1M98 21h1M153 21h1M29 22h1M45 22h1M56 22h1M118 22h1M139 22h1M143 22h1M147 22h1M78 23h1M117 23h1M145 23h1M160 23h1M24 24h1M30 24h1M68 24h1M81 24h1M146 24h1M159 24h1M1 25h1M59 25h2M65 25h1M49 26h1M106 26h1M150 26h1M45 27h1M61 27h1M91 27h1M144 27h1M22 28h1M35 28h1M76 28h2M87 28h1M130 28h1M146 28h2M152 28h1M44 29h1M62 29h1M105 29h1M144 29h1M24 30h1M42 30h1M48 30h1M28 31h1M92 31h1M101 31h1M116 31h1M125 31h1M151 31h1M7 32h1M15 32h1M56 32h1M143 32h1M151 32h1M26 33h1M157 33h1M67 34h1M72 34h1M121 34h1M28 35h1M35 35h1M37 35h1M46 35h1M94 35h1M117 35h1M25 36h1M69 36h1M123 36h1M129 36h1M135 36h1M147 36h1M12 37h1M21 37h1M70 37h1M115 37h1M135 37h1M147 37h1M37 38h1M49 38h1M52 38h1M95 38h1M114 38h1M134 38h1M147 38h1M21 39h1M39 39h1M13 40h1M30 40h1M44 40h1M93 40h1M107 40h1M122 40h1M134 40h1M138 40h1M141 40h1M147 40h1M22 41h1M46 41h1M94 41h1M149 41h1M13 42h1M18 42h2M109 42h1M116 42h1M121 42h1M1 43h1M19 43h1M36 43h1M52 43h1M57 43h1M106 43h1M145 43h1M152 43h1M0 44h1M41 44h1M130 44h1M148 44h1M40 45h1M122 45h1M124 45h1M2 46h1M31 46h1M50 46h1M98 46h1M109 46h1M147 46h1M38 47h1M100 47h1M107 47h1M110 47h1M112 47h1M150 47h1M12 48h1M35 48h1M39 48h1M95 48h1M110 48h1M132 48h1M145 48h1M158 48h1M6 49h1M129 49h1M26 50h2M53 50h1M56 50h1M117 50h1M125 50h1"/>
<path stroke="#ff4848" d="M28 0h1M65 0h1M96 0h1M33 1h1M84 1h1M97 1h1M129 1h1M155 1h1M44 2h1M95 2h1M106 2h1M2 3h1M7 3h1M70 3h1M87 3h1M137 3h1M10 4h1M60 4h1M73 4h1M92 4h1M150 4h1M68 6h1M75 6h1M82 6h1M91 6h1M126 6h1M22 7h1M50 7h1M82 7h1M87 7h1M102 7h1M16 8h1M71 8h1M86 8h1M96 8h1M10 9h1M22 9h1M26 9h1M51 9h1M104 9h1M128 9h2M152 9h1M59 10h1M61 10h1M108 10h1M129 10h1M154 10h1M14 11h1M31 11h1M39 11h1M107 11h2M160 11h1M152 12h1M8 13h1M33 13h1M103 13h1M59 14h1M64 14h1M67 14h1M110 14h1M153 14h1M118 15h1M132 15h1M21 16h1M29 16h1M119 16h1M125 16h1M14 17h1M46 17h1M57 17h1M62 17h1M82 17h1M133 17h1M135 17h1M48 18h1M66 18h1M99 18h1M136 18h1M41 19h1M64 19h1M1 20h1M17 20h1M20 20h1M83 20h1M141 20h1M78 21h1M80 21h1M101 21h1M120 21h1M159 21h1M3 22h1M92 22h1M19 23h1M111 23h1M113 23h2M153 23h1M14 24h1M117 24h1M129 24h1M4 25h1M157 25h1M29 26h1M35 26h1M47 26h1M70 26h1M9 27h1M79 27h1M126 27h1M10 28h1M51 28h1M57 28h1M66 28h1M119 28h1M126 28h1M41 29h1M131 29h1M151 29h1M4 30h1M20 30h1M35 30h1M51 30h1M61 30h1M73 30h1M118 30h1M145 30h1M15 31h1M30 31h1M108 31h1M27 32h1M34 32h1M40 32h1M71 32h1M111 32h1M69 33h1M74 33h1M129 33h2M136 33h1M147 33h1M95 34h1M120 34h1M136 34h1M154 34h1M100 35h1M3 36h1M121 36h1M32 37h1M39 37h1M47 37h1M54 37h1M56 37h1M104 37h1M149 37h2M47 38h1M50 38h1M133 38h1M42 39h1M44 39h1M62 39h1M66 39h1M99 39h1M111 39h1M115 39h1M122 39h1M142 39h1M98 40h1M118 40h1M6 41h2M44 41h1M93 41h1M99 41h1M105 41h1M134 41h1M160 41h1M34 42h2M52 42h1M59 42h1M93 42h1M111 42h1M141 42h1M146 42h1M154 42h1M24 43h1M41 43h1M135 43h1M154 43h1M38 44h1M58 44h1M109 44h1M34 45h1M108 45h1M150 45h1M1 46h1M16 46h1M18 46h1M39 46h1M126 46h1M132 46h1M142 46h1M150 46h1M153 46h1M159 46h1M8 47h1M33 47h1M49 47h1M53 47h1M137 47h1M37 48h1M109 48h1M130 48h1M24 49h1M44 49h1M52 49h1M101 49h1M123 49h1M19 50h1M121 50h1"/>
<path stroke="#ff4444" d="M70 0h1M37 1h1M61 1h1M65 1h1M87 1h1M89 1h1M2 2h1M14 2h1M87 2h1M104 2h1M113 2h1M20 3h1M26 3h1M104 3h1M106 3h1M151 3h2M57 4h1M142 4h1M43 5h1M70 5h1M110 5h1M147 5h1M6 6h1M44 6h1M95 7h1M17 8h1M22 8h1M36 8h1M134 8h1M7 9h1M17 9h1M93 9h1M97 9h1M100 9h2M112 9h1M133 9h1M56 10h1M99 10h1M122 10h1M147 10h1M55 11h1M85 11h1M125 11h1M16 12h1M19 12h1M50 12h1M56 12h1M73 12h1M129 12h1M140 12h1M11 13h1M64 13h1M118 13h1M121 13h1M52 14h1M69 14h1M112 14h1M123 14h1M77 15h1M125 15h1M153 15h1M9 16h1M30 16h1M62 16h1M112 16h1M129 16h1M141 16h1M29 17h1M37 17h1M124 17h1M46 18h1M86 18h1M110 18h1M149 18h1M44 19h1M62 19h1M0 20h1M134 20h1M139 20h1M151 20h1M7 21h1M20 21h1M53 21h1M94 21h1M0 22h1M40 22h1M93 22h1M26 23h1M45 23h1M102 23h1M150 23h1M3 24h1M58 24h1M64 24h1M80 24h1M116 24h1M131 24h1M11 25h1M38 25h1M46 25h1M66 25h1M77 25h1M120 25h1M141 25h1M46 26h1M60 26h1M62 26h1M68 26h1M79 26h2M87 26h1M105 26h1M115 26h1M119 26h1M17 27h1M78 27h1M125 27h1M129 27h1M134 27h1M34 28h1M59 28h1M86 28h1M6 29h1M9 29h1M11 29h1M118 29h1M132 29h2M147 29h1M62 30h1M53 31h1M65 31h1M76 31h1M94 31h1M115 31h1M124 31h1M131 31h1M39 32h1M50 32h1M70 32h1M126 32h1M142 32h1M147 32h1M30 33h1M38 33h1M139 33h1M153 33h1M158 33h1M9 34h1M19 34h1M110 34h1M45 35h1M97 35h1M115 35h1M137 35h1M141 35h1M40 36h1M48 36h1M57 36h1M136 36h1M52 37h1M103 37h1M109 37h2M114 37h1M42 38h1M96 38h1M157 38h1M159 38h1M5 39h1M128 39h1M15 40h1M21 40h1M35 40h1M106 40h1M120 40h1M25 41h1M41 41h1M50 41h1M104 41h1M125 41h1M136 41h1M2 42h2M41 42h1M92 42h1M126 42h1M136 42h1M155 42h1M20 43h1M58 43h2M62 43h1M156 43h1M12 44h2M39 44h1M112 44h1M132 44h1M156 44h1M19 45h1M36 45h1M136 45h1M149 45h1M40 46h1M125 46h1M140 46h1M10 47h1M54 47h1M34 48h1M42 48h1M45 48h1M103 48h1M128 48h1M2 49h1M43 49h1M94 49h1M122 49h1M126 49h1M132 49h1M9 50h1M98 50h1M123 50h1"/>
<path stroke="#ff4040" d="M37 0h1M58 0h1M82 0h1M88 0h1M91 0h1M93 0h1M135 0h1M151 0h1M3 1h1M19 1h1M83 1h1M124 1h1M143 1h1M41 2h1M61 2h1M63 2h1M81 2h1M118 2h1M136 3h1M142 3h1M150 3h1M6 4h1M21 4h1M40 4h1M58 4h1M66 4h1M130 4h1M89 5h1M109 5h1M32 6h1M110 6h1M116 6h1M115 7h1M150 7h1M25 8h1M70 8h1M89 8h1M97 8h1M100 8h1M132 8h1M7 10h1M18 10h1M90 10h1M0 11h1M24 11h1M134 11h1M20 12h1M99 12h1M51 13h1M132 13h1M93 14h1M119 14h1M125 14h1M1 15h1M26 15h1M42 15h1M17 16h1M22 16h1M122 16h1M142 16h1M94 17h1M107 17h1M110 17h1M112 17h1M131 17h1M101 18h1M124 18h1M127 18h1M137 18h1M19 19h1M45 19h1M67 19h1M95 19h1M19 20h1M43 20h2M106 20h1M13 21h2M86 21h1M6 22h1M49 22h1M3 23h1M18 23h1M23 23h1M35 23h1M143 23h1M31 24h1M36 24h1M76 24h1M96 24h1M134 24h1M147 24h1M153 24h1M62 25h1M124 25h1M130 25h1M142 25h1M69 26h1M85 26h1M20 27h2M75 27h1M88 27h1M92 27h1M99 27h1M108 27h1M146 27h1M19 28h1M107 28h1M116 28h1M149 28h1M40 29h1M141 29h1M72 30h1M128 30h1M11 31h1M35 31h1M47 31h1M99 31h1M139 31h1M152 31h1M51 32h1M98 32h1M110 32h1M12 34h1M51 34h1M53 34h1M65 34h2M97 34h1M126 34h1M146 34h1M33 35h1M114 35h1M116 35h1M148 35h1M38 36h1M43 36h1M10 37h1M54 38h2M60 38h1M101 38h1M131 38h1M143 38h1M150 38h1M25 39h2M149 39h1M7 40h1M39 40h1M50 40h1M145 40h1M150 40h1M58 41h1M63 41h1M110 41h1M138 41h1M4 42h1M25 42h1M31 42h1M42 42h1M65 42h1M16 43h1M21 43h1M105 43h1M147 43h1M34 44h1M60 44h1M5 45h1M16 45h1M20 45h1M22 45h1M45 45h1M129 45h1M0 46h1M7 46h1M32 46h1M35 46h1M110 46h1M115 46h1M149 46h1M119 47h1M123 47h1M132 47h1M157 47h1M51 48h1M100 48h1M41 49h1M150 49h1M33 50h1M96 50h1M108 50h1M118 50h1"/>
<path stroke="#ff3c3c" d="M8 0h1M75 0h1M119 0h1M132 0h1M39 1h1M49 1h1M106 1h1M19 2h1M25 2h1M40 2h1M46 2h2M105 2h1M126 2h1M144 3h1M148 3h2M17 4h1M64 4h1M105 4h1M116 4h1M53 5h1M131 5h1M23 6h1M114 6h1M144 6h1M51 7h1M98 7h1M111 7h1M149 7h1M8 8h1M27 8h1M56 8h1M113 8h1M120 8h1M124 8h1M140 8h1M61 9h1M132 9h1M151 9h1M51 10h1M16 11h1M43 11h1M53 11h1M77 11h1M135 11h1M19 13h1M25 13h1M81 13h1M89 13h1M101 13h1M20 14h1M43 14h1M88 14h1M151 14h1M156 15h1M160 15h1M81 16h1M89 16h1M80 17h1M95 17h1M156 17h1M10 18h1M70 18h1M97 18h2M146 18h1M12 19h1M62 20h1M94 20h1M8 21h1M35 21h1M44 21h1M91 21h1M99 21h1M160 21h1M70 23h1M110 23h1M147 23h1M159 23h1M23 24h1M60 24h1M69 24h1M79 24h1M132 24h1M112 25h1M114 25h1M28 26h1M96 26h1M140 26h1M3 27h1M145 27h1M48 28h1M55 28h1M129 28h1M132 28h1M122 29h1M140 30h1M157 30h1M133 31h1M32 32h1M37 32h1M57 32h1M137 32h1M145 32h1M153 32h1M2 33h1M33 33h1M125 33h1M133 33h1M11 34h1M73 34h1M99 34h1M127 34h1M152 34h1M155 34h1M32 35h1M59 35h1M37 36h1M66 36h1M149 36h1M13 37h2M36 37h1M53 37h1M55 37h1M121 37h1M128 37h1M134 37h1M152 37h1M69 38h1M135 38h1M33 39h1M41 39h1M63 39h1M93 39h1M150 39h1M8 40h1M31 40h1M51 40h1M60 40h1M104 40h1M154 40h2M49 41h1M135 41h1M17 42h1M108 42h1M37 43h1M119 43h1M18 44h1M42 44h1M102 44h1M107 45h1M110 45h1M135 45h1M141 45h1M23 46h1M33 46h1M105 46h2M114 46h1M148 46h1M47 47h1M52 47h1M120 47h1M44 48h1M123 48h1M151 49h1M11 50h1M99 50h1M141 50h1"/>
<path stroke="#ff3838" d="M46 0h1M77 0h1M110 0h1M115 0h1M6 1h1M34 1h1M45 1h1M53 1h1M76 1h1M96 1h1M148 1h1M12 2h1M45 2h1M136 2h1M56 3h1M90 3h1M68 4h1M154 4h1M51 5h1M59 5h1M121 5h2M158 5h1M5 6h1M18 6h1M36 6h1M43 6h1M122 6h1M142 6h1M31 7h1M67 7h1M116 7h1M45 8h1M105 8h1M115 8h1M6 9h1M113 9h1M5 10h1M39 10h1M58 10h1M92 10h1M109 10h1M112 10h2M136 10h1M157 10h1M40 11h2M65 11h1M40 12h1M117 12h2M135 12h1M148 12h1M10 13h1M8 14h1M19 15h1M78 15h1M115 15h1M144 15h1M34 16h1M55 16h1M91 16h1M150 16h1M15 17h1M32 17h1M6 18h1M25 18h1M69 18h1M82 18h1M100 18h1M114 18h1M135 18h1M145 18h1M150 18h1M157 18h1M75 19h1M118 19h1M121 19h1M74 20h1M99 20h1M154 20h1M12 21h1M73 21h2M104 21h1M12 22h1M26 22h1M43 22h1M46 22h1M48 22h1M33 23h1M135 23h1M50 24h1M71 24h1M119 24h1M148 24h1M53 25h1M63 25h1M143 25h1M51 26h1M112 26h1M98 27h1M14 28h1M124 28h1M10 29h1M36 29h1M49 29h1M58 29h1M79 29h1M145 29h1M23 30h1M107 30h1M130 30h1M17 31h1M52 31h1M98 31h1M136 31h1M33 32h1M63 32h1M22 33h1M25 33h1M113 33h1M120 33h1M16 34h1M153 34h1M15 35h1M61 35h1M73 35h1M133 35h1M149 35h1M39 36h1M49 36h1M58 36h1M118 36h1M29 37h1M143 37h1M159 37h1M109 38h1M22 39h1M46 39h1M111 40h2M128 40h1M156 40h1M0 41h1M42 41h1M45 41h1M112 41h1M57 42h1M110 42h1M0 43h1M9 43h1M11 43h1M42 43h1M120 43h1M137 43h1M59 44h1M63 44h1M116 44h1M127 44h1M29 45h1M44 45h1M100 45h1M111 45h1M131 45h1M14 46h1M36 46h1M113 46h1M119 46h1M59 47h1M151 47h1M158 47h1M2 48h2M113 48h1M137 48h1M136 49h1M145 49h2M30 50h1M51 50h1M151 50h1"/>
<path stroke="#ff3434" d="M17 0h1M42 0h1M94 0h1M142 0h1M40 1h1M64 1h1M67 1h1M139 1h1M122 2h1M130 2h1M138 2h1M23 3h1M64 3h1M78 3h1M116 3h1M28 4h1M31 4h1M52 4h1M54 4h1M83 4h1M5 5h1M16 5h1M73 5h1M77 5h1M146 5h1M153 5h1M119 7h1M126 7h3M144 7h1M2 8h1M60 8h1M90 8h1M128 8h1M135 8h1M156 8h1M79 9h1M81 9h1M86 9h1M102 9h1M40 10h1M106 10h1M135 10h1M153 10h1M155 10h2M36 11h1M59 11h1M153 11h1M49 12h1M134 12h1M109 13h1M85 14h1M20 15h1M62 15h1M97 15h1M116 15h1M129 15h1M151 15h1M12 16h1M93 16h1M106 17h1M157 17h1M119 18h1M158 18h1M60 19h1M72 19h1M88 19h1M92 19h2M117 19h1M159 19h1M21 20h1M49 20h1M96 20h1M160 20h1M1 21h1M76 21h1M93 21h1M118 21h2M19 22h1M41 22h1M76 22h1M94 22h1M2 23h1M24 23h1M56 23h1M87 23h1M112 23h1M115 23h1M148 23h1M4 24h1M6 24h1M39 25h1M50 25h1M93 25h1M158 25h1M61 26h1M123 26h1M127 26h1M7 27h1M54 27h1M2 28h1M52 28h1M131 28h1M4 29h1M121 29h1M140 29h1M1 30h1M5 30h1M16 30h1M29 30h1M71 30h1M105 30h1M144 30h1M150 30h1M59 31h1M93 31h1M148 31h1M54 32h1M156 32h2M1 33h1M13 33h1M24 33h1M103 33h1M18 34h1M0 35h1M24 35h1M150 35h1M17 36h2M44 36h1M68 36h1M130 37h1M142 37h1M155 38h1M160 38h1M51 39h1M110 39h1M159 39h1M11 41h1M146 41h1M119 42h1M140 42h1M150 42h1M158 43h1M93 44h1M134 44h1M0 45h1M55 45h1M19 46h1M107 46h1M120 46h1M160 46h1M36 47h1M4 48h1M124 48h1M7 49h1M49 49h1M95 49h1M112 49h1M133 49h1M137 49h1M10 50h1M18 50h1M36 50h1M150 50h1M155 50h1M160 50h1"/>
<path stroke="#ff3030" d="M2 1h1M27 1h1M32 1h1M81 1h1M105 1h1M114 1h1M5 2h1M35 2h1M57 2h1M137 2h1M50 3h1M75 3h1M99 3h1M113 3h1M133 3h1M147 3h1M12 4h1M48 4h1M82 4h1M93 4h1M153 4h1M36 5h1M38 5h1M64 5h1M76 6h1M141 6h1M48 7h1M63 7h1M66 7h1M75 7h1M110 7h1M6 8h1M79 8h1M93 8h2M149 8h1M38 9h1M108 9h1M144 9h1M147 9h1M1 10h1M38 10h1M152 10h1M104 11h1M127 11h1M138 11h1M1 12h1M12 12h1M58 12h1M67 12h1M79 12h1M81 12h1M105 12h1M54 13h1M157 13h1M40 14h1M132 14h1M79 15h1M108 15h1M117 15h1M133 15h1M90 16h1M92 16h1M110 16h1M121 16h1M16 17h1M28 17h1M51 17h1M61 17h1M116 17h1M145 17h1M55 18h2M92 18h1M123 18h1M57 19h1M76 19h1M81 19h1M89 19h1M115 19h1M132 19h1M145 19h1M12 20h1M15 20h1M34 20h1M45 21h1M1 22h1M7 22h1M11 22h1M129 22h1M31 23h1M34 23h1M109 23h1M124 24h1M12 25h1M51 25h1M87 25h1M89 25h1M110 25h1M144 25h1M50 26h1M129 26h1M63 27h1M115 27h1M4 28h1M31 28h1M72 28h1M95 28h1M110 28h1M5 29h1M14 29h1M20 29h1M63 29h1M99 29h1M117 29h1M127 29h1M138 29h1M106 30h1M111 30h1M150 31h1M10 32h1M26 32h1M49 32h1M65 32h1M63 33h1M7 34h1M35 34h1M156 34h1M22 36h1M45 36h1M119 36h2M35 37h1M125 37h1M45 38h1M48 38h1M97 38h1M113 38h1M45 39h1M141 39h1M52 40h1M1 41h1M43 42h1M107 42h1M123 42h1M144 42h1M151 42h1M99 43h1M155 43h1M49 44h2M15 45h1M23 45h1M37 46h1M49 46h1M130 46h1M115 47h1M41 48h1M31 49h1M45 49h1M159 50h1"/>
<path stroke="#ff2c2c" d="M20 0h1M111 0h1M11 1h1M55 1h1M82 1h1M86 1h1M3 2h1M54 2h1M128 2h1M48 3h1M51 4h1M35 5h1M143 5h1M148 6h1M4 7h1M21 7h1M25 7h1M29 8h1M59 8h1M66 8h1M72 8h1M95 8h1M62 9h1M55 10h1M66 10h1M151 10h1M28 11h1M58 11h1M105 11h1M137 11h1M146 11h1M18 12h1M28 12h1M38 12h1M85 12h1M102 13h1M108 13h1M123 13h1M22 14h1M143 14h1M65 15h1M3 16h1M15 16h1M58 16h1M94 16h1M96 16h1M83 17h1M150 17h1M158 17h1M84 18h1M42 19h1M22 20h2M69 20h1M110 20h1M71 21h1M128 21h1M131 21h1M14 22h1M104 22h1M140 22h1M54 23h1M72 23h1M99 23h1M142 23h1M110 24h1M152 24h1M14 25h1M22 25h1M58 25h1M97 27h1M109 27h1M127 27h1M21 28h1M30 28h1M53 28h1M60 28h1M75 28h1M104 28h1M117 28h1M18 29h1M43 29h1M58 30h1M122 30h1M151 30h1M41 31h2M9 32h1M107 32h1M152 32h1M31 33h1M119 33h1M17 34h1M50 34h1M122 35h1M122 36h1M31 37h1M0 38h1M41 38h1M28 39h1M40 39h1M10 41h1M36 41h1M150 41h1M34 43h1M21 44h1M96 44h1M104 44h1M35 45h1M27 46h1M28 47h1M37 47h1M101 47h1M142 47h1M147 47h1M5 48h1M14 48h1M58 48h1M135 48h1M19 49h1M48 49h1M141 49h1M31 50h1"/>
<path stroke="#ff2828" d="M23 0h1M131 1h1M98 2h1M116 2h1M131 2h1M16 3h1M31 3h1M13 4h1M141 4h1M146 4h1M24 5h1M74 5h1M81 5h1M91 5h1M139 5h1M142 5h1M156 5h1M9 6h1M89 6h1M26 7h1M49 7h1M43 8h2M101 8h1M66 9h1M121 9h2M33 10h2M17 11h1M45 11h1M64 11h1M74 12h1M119 12h1M53 13h1M58 13h1M133 13h1M115 14h1M124 14h1M131 14h1M102 15h1M47 16h1M63 16h1M137 17h1M159 17h1M21 18h1M30 18h1M26 19h1M43 19h1M126 19h1M159 20h1M108 21h1M111 21h1M132 21h1M17 22h1M103 22h1M125 22h1M144 22h1M1 23h1M39 23h1M72 24h1M25 26h1M14 27h1M44 27h1M60 27h1M79 28h1M127 28h2M19 29h1M155 29h1M104 30h1M18 31h1M29 31h1M60 31h1M71 31h2M104 31h1M107 31h1M97 32h1M48 33h1M70 34h1M111 34h1M157 34h1M130 35h1M134 35h1M144 35h2M150 36h1M157 36h1M52 39h1M55 39h1M116 39h1M47 40h1M126 40h1M12 41h1M121 41h1M128 41h1M134 42h1M160 42h1M32 43h1M94 43h1M131 44h1M34 46h1M138 46h1M7 47h1M34 47h2M30 48h1M112 48h1M117 48h1M3 49h1M55 49h1M95 50h1M156 50h1"/>
<path stroke="#ff2424" d="M129 0h1M24 1h1M44 1h1M54 1h1M90 1h1M122 1h1M145 1h1M34 2h1M75 2h1M67 3h1M79 3h1M97 3h1M112 3h1M59 4h1M114 4h1M128 4h1M10 5h1M57 5h1M88 5h1M38 6h1M51 6h1M90 6h1M100 6h1M8 7h1M16 7h1M24 7h1M79 7h1M157 7h1M31 8h1M43 9h1M67 9h1M73 9h1M78 9h1M17 10h1M37 10h1M46 10h1M3 12h1M77 12h1M116 12h1M141 12h1M144 12h1M110 13h1M115 13h1M62 14h1M68 14h1M137 14h1M145 14h1M59 15h1M63 17h1M71 17h1M60 18h1M142 18h1M32 19h1M56 19h1M120 19h1M124 19h1M100 20h1M136 21h1M5 22h1M18 22h1M115 22h1M145 22h1M94 23h2M158 23h1M15 24h1M17 24h1M35 24h1M107 24h1M111 24h1M135 24h1M38 28h1M125 28h1M22 29h1M98 29h1M57 30h1M133 30h1M64 31h1M43 32h1M48 32h1M32 33h1M102 33h1M34 34h1M137 34h1M72 35h1M138 35h1M141 36h1M153 38h1M147 41h1M47 42h1M58 42h1M117 42h1M122 42h1M17 44h1M94 44h1M99 44h1M101 44h1M143 44h1M97 46h1M102 46h1M116 46h2M131 46h1M48 47h1M146 47h1M20 48h1M111 48h1M129 48h1M46 49h1M50 50h1"/>
<path stroke="#ff2020" d="M112 0h1M12 1h1M123 1h1M129 2h1M15 3h1M127 3h1M20 4h1M102 4h1M115 4h1M132 4h1M136 4h1M22 6h1M84 6h1M98 6h1M109 7h1M28 8h1M48 8h1M51 8h1M55 8h1M88 8h1M154 9h1M6 10h1M32 10h1M2 12h1M24 12h1M29 12h1M59 12h1M78 12h1M42 13h1M109 14h1M0 15h1M63 15h1M88 15h1M112 15h1M152 15h1M1 16h2M35 16h1M103 16h1M157 16h1M99 17h1M125 17h1M11 18h1M19 18h1M103 18h1M128 18h1M133 18h1M51 20h1M50 21h1M95 21h1M100 21h1M105 21h1M137 21h1M154 22h1M30 23h1M120 24h1M26 25h1M52 25h1M113 26h1M28 28h1M56 28h1M109 28h1M118 28h1M68 29h1M17 30h1M135 30h1M47 32h1M160 32h1M10 34h1M33 34h1M129 35h1M67 36h1M114 36h1M153 37h1M27 39h1M56 39h1M2 41h1M109 41h1M126 41h2M129 41h1M131 41h1M146 43h1M19 44h1M61 44h1M103 44h1M115 44h1M20 46h1M138 47h1M159 47h1M9 48h1M18 49h1"/>
<path stroke="#ff1c1c" d="M68 0h1M9 2h1M97 2h1M117 2h1M141 3h1M9 4h1M44 5h1M123 5h1M11 7h1M146 7h1M5 8h1M24 8h1M47 10h1M91 10h1M26 11h1M123 11h1M131 11h1M4 12h1M17 12h1M87 12h1M60 13h1M127 13h1M138 14h1M111 17h1M106 18h1M115 18h1M52 19h1M96 19h1M106 19h1M68 20h1M82 20h1M103 20h1M75 21h1M147 21h1M0 23h1M53 23h1M65 23h1M73 23h1M77 23h1M123 23h2M136 24h1M42 25h1M57 25h1M113 25h1M22 26h1M64 26h1M91 26h1M157 26h1M13 27h1M48 27h1M40 28h1M96 28h1M140 28h1M70 29h1M139 29h1M146 29h1M93 30h1M136 30h1M149 30h1M58 31h1M16 32h1M106 32h1M118 32h1M47 33h1M62 33h1M134 33h1M160 34h1M126 35h1M142 35h1M146 38h1M159 40h1M64 41h1M98 41h1M46 42h1M139 42h1M64 43h1M136 43h1M157 43h1M20 44h1M126 44h1M17 46h1M137 46h1M26 47h1M108 47h1M116 47h1M29 48h1M38 48h1M119 50h2"/>
<path stroke="#ff1818" d="M63 1h1M66 1h1M127 1h1M140 1h1M62 2h1M3 3h1M24 3h1M103 3h1M5 4h1M92 5h1M94 5h1M15 6h1M55 6h1M59 6h1M67 6h1M115 6h1M138 6h1M32 7h1M78 7h1M158 7h1M114 8h1M160 8h1M23 9h1M44 9h1M50 9h1M53 9h1M130 10h1M18 11h1M42 11h1M51 11h1M143 12h1M4 14h1M118 14h1M29 15h1M130 15h1M118 16h1M91 17h1M118 18h1M3 19h1M49 19h1M63 19h1M136 19h1M95 20h1M58 21h1M139 21h1M149 21h1M95 22h1M122 22h1M146 22h1M62 23h1M141 23h1M151 23h1M47 25h1M59 26h1M120 26h1M128 27h1M29 28h1M103 28h1M143 28h1M128 29h1M132 31h1M17 32h1M44 32h1M66 32h1M23 33h1M46 33h1M135 33h1M52 34h1M148 34h1M112 36h1M30 37h1M68 37h1M99 38h1M146 40h1M65 41h1M97 42h1M63 43h1M100 44h1M109 47h1M131 47h1M93 48h1M136 48h1M0 50h1"/>
<path stroke="#ff1414" d="M67 0h1M0 1h1M77 1h1M138 3h1M42 4h1M26 5h1M31 5h1M65 5h1M93 5h1M157 5h1M41 7h1M80 7h2M125 8h2M149 10h2M86 11h1M117 11h1M130 11h1M144 14h1M114 15h1M6 16h1M16 16h1M149 16h1M148 17h1M24 18h1M102 18h1M29 19h1M33 19h1M35 19h1M119 19h1M79 20h1M132 20h1M11 21h1M155 22h1M118 23h1M5 24h1M121 24h1M73 25h1M65 26h1M149 26h1M12 27h1M58 27h1M37 28h1M129 30h1M63 31h1M135 31h1M111 33h1M3 34h1M98 34h1M95 35h1M128 36h1M112 38h1M14 40h1M130 41h1M10 43h1M98 44h1M117 45h1M130 45h1M143 46h1M155 46h1M143 49h1M124 50h1"/>
<path stroke="#ff1010" d="M141 0h1M146 0h1M138 1h1M21 2h1M66 2h1M49 3h1M4 4h1M49 4h1M58 5h1M154 5h1M105 9h1M137 9h1M44 11h1M87 13h1M122 13h1M36 14h1M140 15h1M117 17h1M65 18h1M143 18h1M20 19h1M28 19h1M73 19h1M116 19h1M76 20h1M72 21h1M63 24h1M155 24h1M75 25h1M88 25h1M27 26h1M49 27h1M59 27h1M100 27h1M18 28h1M108 28h1M138 31h1M124 33h1M96 35h1M127 37h1M137 40h1M62 44h1M94 48h1M111 49h1"/>
<path stroke="#ff0c0c" d="M10 0h1M22 0h1M29 0h1M150 0h1M23 1h1M26 2h1M71 5h2M37 6h1M30 8h1M3 10h1M151 13h1M21 14h1M33 16h1M99 16h1M88 17h1M98 17h1M54 18h1M62 18h1M96 18h1M134 18h1M18 20h1M101 20h1M52 22h1M152 23h1M90 25h1M111 25h1M107 26h1M148 26h1M11 27h1M101 27h1M114 27h1M15 28h1M36 28h1M51 29h1M54 29h1M132 30h1M143 30h1M143 31h1M112 33h1M6 34h1M151 35h1M104 36h1M48 37h1M69 37h1M127 40h1M136 40h1M153 45h1M15 48h1"/>
<path stroke="#ff0808" d="M15 0h1M43 1h1M131 4h1M14 6h1M94 7h1M160 9h1M23 11h1M157 11h1M60 12h1M64 12h1M71 12h1M9 13h1M37 14h1M64 15h1M74 15h1M50 16h1M111 16h1M50 18h1M104 18h1M125 19h1M81 20h1M138 21h1M80 22h1M78 25h1M92 25h1M26 26h1M39 26h1M88 26h1M57 27h1M80 29h1M97 29h1M10 30h1M98 38h1M156 38h1M97 41h1M118 42h1M145 42h1M142 44h1M27 47h1M19 48h1"/>
<path stroke="#ff0404" d="M134 0h1M160 0h1M144 1h1M67 2h1M21 5h1M83 6h1M7 7h1M90 7h2M74 8h1M110 8h1M83 9h1M100 10h1M146 10h1M63 12h1M70 12h1M34 13h1M41 13h1M52 13h1M152 13h1M63 14h1M117 14h1M89 15h1M132 17h1M49 18h1M68 19h1M133 20h1M79 22h1M42 23h1M134 23h1M95 24h1M97 26h1M118 27h1M106 37h1M94 40h1M15 43h1"/>
</g></g>
<g clip-path="url(#ce)">
<g fill="none" stroke="#000"><path stroke-width="3.0" stroke-dasharray="14.2 7.8" d="M797.1 734.3L802.7 736.3L808.4 738.2L814 740L819.7 741.8L825.3 743.5L831 745.2L836.6 746.7L842.3 748.2L847.9 749.6L853.6 750.8L859.2 752.1L864.9 753.2L870.5 754.4L876.2 755.5L881.8 756.5L887.5 757.5L893.1 758.5L898.8 759.4L904.4 760.2L910.1 761L915.7 761.7L921.4 762.4L927 763.1L932.7 763.7L938.3 764.3L944 764.9L949.6 765.5L955.3 766L960.9 766.5L966.6 766.9L972.2 767.4L977.9 767.7L983.5 768.1L989.2 768.5L994.8 768.8L1000.5 769.1L1006.1 769.4L1011.8 769.5L1017.4 769.7L1023.1 769.8L1028.7 769.9L1034.4 770L1040 770.1L1045.7 770L1051.3 769.9L1057 769.7L1062.6 769.4L1068.3 769L1073.9 768.6L1079.6 768.2L1085.2 767.8L1090.9 767.3L1096.5 766.8L1102.2 766.2L1107.8 765.5L1113.5 764.8L1119.1 764L1124.8 763.2L1130.4 762.4L1136.1 761.6L1141.7 760.7L1147.4 759.8L1153 758.9L1158.7 758L1164.3 757L1170 755.9L1175.6 754.9L1181.3 753.8L1186.9 752.7L1192.6 751.6L1198.2 750.5L1203.9 749.4L1209.5 748.2L1215.2 747L1220.8 745.7L1226.5 744.5L1232.1 743.2L1237.8 741.9L1243.4 740.5"/><path stroke-width="3.0" stroke-dasharray="14.2 7.8" stroke-dashoffset="7.7" d="M1012.74 769.56L942.7 938.4"/><path stroke-width="3.0" stroke-dasharray="14.2 7.8" d="M1042.57 770.06V938.4"/></g>
</g>
<g stroke="#262626" stroke-width="2.2" fill="none"><path d="M852.89 938.4v-4.5 M852.89 551.1v4.5M964.46 938.4v-4.5 M964.46 551.1v4.5M1076.04 938.4v-4.5 M1076.04 551.1v4.5M1187.61 938.4v-4.5 M1187.61 551.1v4.5M797.1 809.3h4.5 M1243.4 809.3h-4.5M797.1 680.2h4.5 M1243.4 680.2h-4.5"/><rect x="797.1" y="551.1" width="446.3" height="387.3"/></g>
<text x="852.89" y="975.4" font-size="25.33" text-anchor="middle">0.2</text><text x="964.46" y="975.4" font-size="25.33" text-anchor="middle">0.4</text><text x="1076.04" y="975.4" font-size="25.33" text-anchor="middle">0.6</text><text x="1187.61" y="975.4" font-size="25.33" text-anchor="middle">0.8</text><text x="786.6" y="950.4" font-size="25.33" text-anchor="end">0.75</text><text x="786.6" y="821.3" font-size="25.33" text-anchor="end">0.8</text><text x="786.6" y="692.2" font-size="25.33" text-anchor="end">0.85</text><text x="786.6" y="563.1" font-size="25.33" text-anchor="end">0.9</text><g transform="translate(976.15 1017.25)"><text x="0" y="0" font-size="30">V</text><text x="20.96" y="12.6" font-size="23.1">G</text><text x="47.56" y="0" font-size="30">(V)</text></g><g transform="translate(713.2 787.15) rotate(-90)"><text x="0" y="0" font-size="30">V</text><text x="21.11" y="12" font-size="23.1">B</text><text x="45.55" y="0" font-size="30">(V)</text></g>
<linearGradient id="gbe" x1="0" y1="1" x2="0" y2="0"><stop offset="0" stop-color="#0000ff"/><stop offset="0.5" stop-color="#ffffff"/><stop offset="1" stop-color="#ff0000"/></linearGradient><rect x="1261" y="834.8" width="27.9" height="103.7" fill="url(#gbe)" stroke="#2e2e2e" stroke-width="1.2"/><text x="1298.5" y="931.05" font-size="21.3">-1</text><text x="1298.5" y="898.35" font-size="21.3">0</text><text x="1298.5" y="865.65" font-size="21.3">1</text><path d="M1288.9 919.35h-3M1288.9 886.65h-3M1288.9 853.95h-3" stroke="#262626" stroke-width="1" fill="none"/>
<g transform="translate(1281.5 825) rotate(-90)"><text x="-1" y="0" font-size="26.21" font-style="italic">∂</text><text x="11.95" y="0" font-size="23.4">(n</text><text x="33.22" y="10.76" font-size="18.72">e</text><text x="45.62" y="0" font-size="23.4">-n</text><text x="66.9" y="10.76" font-size="18.72">h</text><text x="79.3" y="0" font-size="23.4">)/</text><text x="94.59" y="0" font-size="26.21" font-style="italic">∂</text><text x="107.84" y="0" font-size="23.4">V</text><text x="125.42" y="10.76" font-size="18.72">G</text><text x="146.47" y="0" font-size="23.4">(10</text><text x="180.76" y="-11" font-size="18.72">12</text><text x="203.57" y="0" font-size="23.4">cm</text><text x="235.23" y="-11" font-size="18.72">-2</text><text x="253.86" y="0" font-size="23.4">V</text><text x="269.94" y="-11" font-size="18.72">-1</text><text x="288.57" y="0" font-size="23.4">)</text></g>
<text x="879.6" y="669.9" font-size="25.33" fill="#000">Excitonic</text><text x="879.6" y="700.0" font-size="25.33" fill="#000">insulator</text>
<path d="M988.8 679.5L1016 718.5M1005.6 714.2L1016 718.5L1014.6 707.4" stroke="#000" stroke-width="2" fill="none" stroke-linejoin="miter"/>
<g stroke="#262626" stroke-width="2.2" fill="none"><path d="M1603.85 940v-5M1603.85 553v5M1726.7 940v-5M1726.7 553v5M1849.55 940v-5M1849.55 553v5M1481 830.77h5M1972.4 830.77h-5M1481 723.94h5M1972.4 723.94h-5M1481 617.1h5M1972.4 617.1h-5"/><rect x="1481" y="553" width="491.4" height="387"/></g><g clip-path="url(#cf)" fill="none"><path d="M1649.52 938.61L1968.71 722.11" stroke="#d96a0c" stroke-width="3" stroke-dasharray="14 7"/></g><g fill="none" stroke="#000" stroke-width="1.5"><circle cx="1481" cy="937.61" r="4.05"/><circle cx="1488.37" cy="937.61" r="4.05"/><circle cx="1495.74" cy="937.61" r="4.05"/><circle cx="1503.11" cy="937.61" r="4.05"/><circle cx="1510.48" cy="937.61" r="4.05"/><circle cx="1517.86" cy="937.61" r="4.05"/><circle cx="1525.23" cy="937.61" r="4.05"/><circle cx="1532.6" cy="937.61" r="4.05"/><circle cx="1539.97" cy="937.61" r="4.05"/><circle cx="1547.34" cy="937.61" r="4.05"/><circle cx="1554.71" cy="937.61" r="4.05"/><circle cx="1562.08" cy="937.61" r="4.05"/><circle cx="1569.45" cy="937.61" r="4.05"/><circle cx="1576.82" cy="937.61" r="4.05"/><circle cx="1584.19" cy="937.61" r="4.05"/><circle cx="1591.57" cy="937.61" r="4.05"/><circle cx="1598.94" cy="937.61" r="4.05"/><circle cx="1606.31" cy="937.61" r="4.05"/><circle cx="1613.68" cy="937.61" r="4.05"/><circle cx="1621.05" cy="937.61" r="4.05"/><circle cx="1628.42" cy="936.97" r="4.05"/><circle cx="1635.79" cy="935.47" r="4.05"/><circle cx="1643.16" cy="932.05" r="4.05"/><circle cx="1650.53" cy="924.36" r="4.05"/><circle cx="1657.9" cy="914.85" r="4.05"/><circle cx="1665.27" cy="906.09" r="4.05"/><circle cx="1672.65" cy="893.98" r="4.05"/><circle cx="1680.02" cy="882.77" r="4.05"/><circle cx="1687.39" cy="872.17" r="4.05"/><circle cx="1694.76" cy="862.04" r="4.05"/><circle cx="1702.13" cy="852.27" r="4.05"/><circle cx="1709.5" cy="842.82" r="4.05"/><circle cx="1716.87" cy="833.62" r="4.05"/><circle cx="1724.24" cy="824.65" r="4.05"/><circle cx="1731.61" cy="815.87" r="4.05"/><circle cx="1738.99" cy="807.27" r="4.05"/><circle cx="1746.36" cy="798.83" r="4.05"/><circle cx="1753.73" cy="790.53" r="4.05"/><circle cx="1761.1" cy="782.36" r="4.05"/><circle cx="1768.47" cy="774.31" r="4.05"/><circle cx="1775.84" cy="766.37" r="4.05"/><circle cx="1783.21" cy="758.53" r="4.05"/><circle cx="1790.58" cy="750.79" r="4.05"/><circle cx="1797.95" cy="743.14" r="4.05"/><circle cx="1805.32" cy="735.57" r="4.05"/><circle cx="1812.7" cy="728.08" r="4.05"/><circle cx="1820.07" cy="720.66" r="4.05"/><circle cx="1827.44" cy="713.32" r="4.05"/><circle cx="1834.81" cy="706.04" r="4.05"/><circle cx="1842.18" cy="698.83" r="4.05"/><circle cx="1849.55" cy="691.68" r="4.05"/><circle cx="1856.92" cy="684.58" r="4.05"/><circle cx="1864.29" cy="677.55" r="4.05"/><circle cx="1871.66" cy="670.56" r="4.05"/><circle cx="1879.03" cy="663.63" r="4.05"/><circle cx="1886.41" cy="656.74" r="4.05"/><circle cx="1893.78" cy="649.91" r="4.05"/><circle cx="1901.15" cy="643.12" r="4.05"/><circle cx="1908.52" cy="636.37" r="4.05"/><circle cx="1915.89" cy="629.66" r="4.05"/><circle cx="1923.26" cy="623" r="4.05"/><circle cx="1930.63" cy="616.37" r="4.05"/><circle cx="1938" cy="609.79" r="4.05"/><circle cx="1945.37" cy="603.24" r="4.05"/><circle cx="1952.74" cy="596.73" r="4.05"/></g><g clip-path="url(#cf)" fill="none"><path d="M1481 937.61L1651.02 937.61L1652.25 932.95L1657.68 920.21L1663.11 909.9L1668.53 900.61L1673.96 891.93L1679.38 883.7L1684.81 875.82L1690.24 868.2L1695.66 860.82L1701.09 853.63L1706.52 846.61L1711.94 839.75L1717.37 833.01L1722.79 826.4L1728.22 819.89L1733.65 813.49L1739.07 807.17L1744.5 800.94L1749.92 794.79L1755.35 788.72L1760.78 782.71L1766.2 776.77L1771.63 770.89L1777.06 765.07L1782.48 759.3L1787.91 753.59L1793.33 747.92L1798.76 742.3L1804.19 736.73L1809.61 731.2L1815.04 725.71L1820.47 720.26L1825.89 714.85L1831.32 709.48L1836.74 704.14L1842.17 698.84L1847.6 693.57L1853.02 688.33L1858.45 683.12L1863.88 677.94L1869.3 672.79L1874.73 667.67L1880.15 662.58L1885.58 657.51L1891.01 652.47L1896.43 647.45L1901.86 642.46L1907.29 637.49L1912.71 632.55L1918.14 627.63L1923.56 622.73L1928.99 617.85L1934.42 612.99L1939.84 608.15L1945.27 603.33L1950.7 598.53L1956.12 593.75L1961.55 588.99L1966.97 584.25L1972.4 579.52" stroke="#0a6fd6" stroke-width="2.8" stroke-linejoin="round"/></g><text x="1481" y="980.5" font-size="27.6" text-anchor="middle">0.75</text><text x="1603.85" y="980.5" font-size="27.6" text-anchor="middle">0.8</text><text x="1726.7" y="980.5" font-size="27.6" text-anchor="middle">0.85</text><text x="1849.55" y="980.5" font-size="27.6" text-anchor="middle">0.9</text><text x="1972.4" y="980.5" font-size="27.6" text-anchor="middle">0.95</text><text x="1470.4" y="951.11" font-size="27.6" text-anchor="end">0</text><text x="1470.4" y="844.27" font-size="27.6" text-anchor="end">0.5</text><text x="1470.4" y="737.44" font-size="27.6" text-anchor="end">1</text><text x="1470.4" y="630.6" font-size="27.6" text-anchor="end">1.5</text><g transform="translate(1683.1 1021.7)"><text x="0" y="0" font-size="30">V</text><text x="20.91" y="15.09" font-size="25.29">B</text><text x="45.11" y="0" font-size="30">(V)</text></g><g transform="translate(1408.7 841.3) rotate(-90)"><text x="0" y="0" font-size="30">n</text><text x="18.28" y="12" font-size="25.29">x</text><text x="39.76" y="0" font-size="30">(10</text><text x="83.62" y="-15" font-size="25.29">12</text><text x="112.55" y="0" font-size="30">cm</text><text x="153.04" y="-15" font-size="25.29">-2</text><text x="176.53" y="0" font-size="30">)</text></g><rect x="1584.2" y="565.5" width="172.2" height="155.1" fill="#fff"/><clipPath id="cfi"><rect x="1584.2" y="565.5" width="172.2" height="155.1"/></clipPath><g clip-path="url(#cfi)" fill="none"><path d="M1594.8 720.6L1756.5 597" stroke="#d96a0c" stroke-width="2.8" stroke-dasharray="14 7" stroke-dashoffset="5"/><g stroke="#000" stroke-width="1.4"><circle cx="1609.23" cy="669.1" r="3.3"/><circle cx="1628.25" cy="657.67" r="3.3"/><circle cx="1641.49" cy="649.71" r="3.3"/><circle cx="1651.66" cy="643.7" r="3.3"/><circle cx="1659.92" cy="638.96" r="3.3"/><circle cx="1666.87" cy="635.08" r="3.3"/><circle cx="1672.88" cy="631.78" r="3.3"/><circle cx="1678.16" cy="628.84" r="3.3"/><circle cx="1682.88" cy="626.11" r="3.3"/><circle cx="1687.14" cy="623.51" r="3.3"/><circle cx="1691.02" cy="621.02" r="3.3"/><circle cx="1694.59" cy="618.67" r="3.3"/><circle cx="1697.9" cy="616.53" r="3.3"/><circle cx="1700.97" cy="614.64" r="3.3"/><circle cx="1703.84" cy="613" r="3.3"/><circle cx="1706.54" cy="611.59" r="3.3"/><circle cx="1709.08" cy="610.34" r="3.3"/><circle cx="1711.48" cy="609.14" r="3.3"/><circle cx="1713.76" cy="607.91" r="3.3"/><circle cx="1715.92" cy="606.61" r="3.3"/><circle cx="1717.99" cy="605.23" r="3.3"/><circle cx="1719.96" cy="603.84" r="3.3"/><circle cx="1721.85" cy="602.5" r="3.3"/><circle cx="1723.66" cy="601.29" r="3.3"/><circle cx="1725.4" cy="600.25" r="3.3"/><circle cx="1727.07" cy="599.39" r="3.3"/><circle cx="1728.68" cy="598.67" r="3.3"/><circle cx="1730.24" cy="597.99" r="3.3"/><circle cx="1731.74" cy="597.28" r="3.3"/><circle cx="1733.19" cy="596.46" r="3.3"/><circle cx="1734.6" cy="595.53" r="3.3"/><circle cx="1735.96" cy="594.52" r="3.3"/><circle cx="1737.28" cy="593.5" r="3.3"/><circle cx="1738.57" cy="592.55" r="3.3"/><circle cx="1739.81" cy="591.74" r="3.3"/><circle cx="1741.03" cy="591.1" r="3.3"/><circle cx="1742.21" cy="590.59" r="3.3"/><circle cx="1743.35" cy="590.15" r="3.3"/><circle cx="1744.47" cy="589.7" r="3.3"/><circle cx="1745.57" cy="589.17" r="3.3"/></g><path d="M1584.2 682.4L1756.4 582.3" stroke="#0a6fd6" stroke-width="2.6"/></g><g stroke="#262626" stroke-width="2.2" fill="none"><path d="M1635.1 720.6v-2M1635.1 565.5v2M1736.6 720.6v-2M1736.6 565.5v2M1584.2 604h2M1756.4 604h-2M1584.2 682.7h2M1756.4 682.7h-2" stroke-width="1.2"/><rect x="1584.2" y="565.5" width="172.2" height="155.1"/></g><text x="1542.74" y="616.6" font-size="22.7">10</text><text x="1568.99" y="607.1" font-size="18">0</text><text x="1536.75" y="695" font-size="22.7">10</text><text x="1563" y="685.5" font-size="18">-1</text><text x="1614.77" y="754.8" font-size="22.7">10</text><text x="1641.02" y="745.3" font-size="18">-2</text><text x="1714.27" y="754.8" font-size="22.7">10</text><text x="1740.52" y="745.3" font-size="18">-1</text><g transform="translate(1629.0 783.0)"><text x="-0.5" font-size="26">Δ</text><text x="19.2" font-size="22.7">V</text><text x="36.5" y="12.6" font-size="18">B</text><text x="50.5" font-size="22.7">(V)</text></g><g transform="translate(1519.2 715.5) rotate(-90)"><text font-size="22.7">n</text><text x="14" y="8" font-size="18">x</text><text x="29" font-size="22.7">(10</text><text x="63" y="-10.5" font-size="18">12</text><text x="83.5" font-size="22.7">cm</text><text x="116" y="-10.5" font-size="18">-2</text><text x="133" font-size="22.7">)</text></g><text x="1634.6" y="615.9" font-size="22.7" fill="#0a6fd6">0.76</text><rect x="1804.1" y="829.9" width="171.1" height="119.1" fill="#fff" stroke="#262626" stroke-width="2"/><circle cx="1828.3" cy="848.1" r="6.8" fill="none" stroke="#000" stroke-width="1.5"/><path d="M1811.4 875.8H1845.2" stroke="#0a6fd6" stroke-width="2.8" fill="none"/><path d="M1811.4 917.8H1845.2" stroke="#d96a0c" stroke-width="3" stroke-dasharray="14 7" fill="none"/><text x="1851.3" y="856.2" font-size="22.7" fill="#000">Experiment</text><text x="1851.3" y="884.8" font-size="22.7" fill="#000">Power fit</text><text x="1851.3" y="913.4" font-size="22.7" fill="#000">Geometric</text><text x="1851.3" y="939.9" font-size="22.7" fill="#000">capacitance</text>
</svg></body></html>
